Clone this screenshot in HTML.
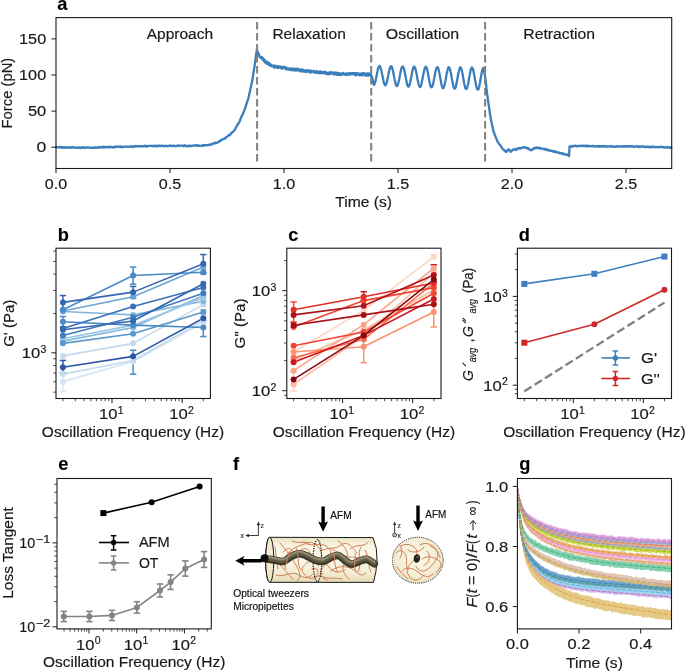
<!DOCTYPE html>
<html><head><meta charset="utf-8"><title>Figure</title>
<style>
html,body{margin:0;padding:0;background:#fff;}
body{width:685px;height:672px;overflow:hidden;}
svg{display:block;font-family:"Liberation Sans", sans-serif;will-change:transform;}
text{stroke:#1a1a1a;stroke-width:0.18px;}
</style></head>
<body>
<svg width="685" height="672" viewBox="0 0 685 672" fill="#1a1a1a">
<defs><clipPath id="clipg"><rect x="517.4" y="478.5" width="154.1" height="150.4"/></clipPath></defs>
<rect width="685" height="672" fill="#fff"/>
<text x="57.2" y="10.4" font-size="18.2" font-weight="bold" fill="#000">a</text>
<polyline points="56,147.04 56.7,147.35 57.4,147.18 58.1,147.42 58.8,147.45 59.5,146.9 60.2,146.85 60.9,147.69 61.6,147.11 62.3,147.1 63,147.86 63.7,147.35 64.4,147.72 65.1,147.37 65.8,147.53 66.5,147.05 67.2,147.54 67.9,147.78 68.6,147.45 69.3,147.67 70,147.61 70.7,147.01 71.4,147.71 72.1,147.55 72.8,147.27 73.5,147 74.2,147.84 74.9,147.46 75.6,147.71 76.3,147.88 77,147.72 77.7,147.93 78.4,147.41 79.1,147.83 79.8,147.48 80.5,147.98 81.2,147.93 81.9,147.15 82.6,147.2 83.3,147.28 84,148.04 84.7,147.52 85.4,147.71 86.1,147.4 86.8,147.6 87.5,147.47 88.2,147.41 88.9,147.63 89.6,147.61 90.3,147.92 91,147.68 91.7,147.91 92.4,147.82 93.1,147.94 93.8,147.6 94.5,147.08 95.2,147.76 95.9,147.84 96.6,147.77 97.3,147.41 98,147.54 98.7,147.02 99.4,147.63 100.1,147.35 100.8,147.05 101.5,146.81 102.2,147.58 102.9,147.7 103.6,146.78 104.3,147.48 105,147.07 105.7,146.79 106.4,146.92 107.1,147.38 107.8,147.47 108.5,146.62 109.2,147.17 109.9,146.59 110.6,147.24 111.3,146.84 112,147.37 112.7,147.46 113.4,146.96 114.1,147.44 114.8,146.73 115.5,146.49 116.2,146.99 116.9,146.41 117.6,146.56 118.3,146.75 119,146.93 119.7,146.46 120.4,146.33 121.1,147.14 121.8,146.57 122.5,147.2 123.2,147.12 123.9,146.58 124.6,146.65 125.3,146.69 126,146.79 126.7,146.73 127.4,146.67 128.1,146.72 128.8,147.02 129.5,146.57 130.2,146.48 130.9,146.75 131.6,146.25 132.3,146.29 133,146.95 133.7,146.48 134.4,146.49 135.1,145.93 135.8,146.32 136.5,146.47 137.2,145.89 137.9,146.47 138.6,146.47 139.3,145.88 140,146.43 140.7,146.25 141.4,146.44 142.1,146.1 142.8,146.44 143.5,146.45 144.2,145.72 144.9,145.74 145.6,146.34 146.3,146.61 147,145.88 147.7,146.06 148.4,146.19 149.1,145.91 149.8,145.95 150.5,145.89 151.2,145.94 151.9,146.16 152.6,145.86 153.3,145.93 154,146.32 154.7,145.57 155.4,146.1 156.1,146.26 156.8,145.83 157.5,145.74 158.2,146.32 158.9,145.74 159.6,145.69 160.3,145.93 161,146.19 161.7,145.58 162.4,145.8 163.1,145.8 163.8,146.3 164.5,145.89 165.2,146.31 165.9,145.61 166.6,145.77 167.3,146.08 168,146.31 168.7,145.87 169.4,145.64 170.1,145.53 170.8,145.93 171.5,145.59 172.2,146.2 172.9,146.22 173.6,145.56 174.3,145.65 175,146.17 175.7,146 176.4,146.16 177.1,145.69 177.8,145.47 178.5,145.63 179.2,146.12 179.9,145.59 180.6,145.66 181.3,145.73 182,145.72 182.7,145.71 183.4,146.21 184.1,145.44 184.8,145.28 185.5,146.22 186.2,146.15 186.9,146.25 187.6,145.69 188.3,146.2 189,146.17 189.7,145.46 190.4,145.98 191.1,146.06 191.8,145.88 192.5,145.73 193.2,145.5 193.9,145.54 194.6,145.41 195.3,145.23 196,145.73 196.7,145.41 197.4,145.92 198.1,145.13 198.8,145.97 199.5,145.74 200.2,145.95 200.9,145.91 201.6,145.89 202.3,145.55 203,144.97 203.7,145.68 204.4,145.09 205.1,145.18 205.8,145.44 206.5,145.19 207.2,144.97 207.9,145.38 208.6,144.94 209.3,144.56 210,144.36 210.7,144.86 211.4,144.24 212.1,144.32 212.8,143.65 213.5,143.26 214.2,143.37 214.9,143.42 215.6,142.54 216.3,142.93 217,142.82 217.7,142.47 218.4,142.15 219.1,140.96 219.8,141.2 220.5,141.06 221.2,139.87 221.9,139.71 222.6,139.33 223.3,139.21 224,138.73 224.7,138.41 225.4,138.33 226.1,137.18 226.8,136.85 227.5,136.32 228.2,135.7 228.9,135.03 229.6,135.33 230.3,134.6 231,133.22 231.7,133.02 232.4,132.23 233.1,131.61 233.8,131.04 234.5,130.25 235.2,129.02 235.9,127.63 236.6,126.29 237.3,125.26 238,123.89 238.7,123.16 239.4,122.08 240.1,120.09 240.8,118.14 241.5,116.59 242.2,115.13 242.9,113.71 243.6,112.24 244.3,110.19 245,108.71 245.7,106.45 246.4,104.18 247.1,102.04 247.8,100.09 248.5,97.77 249.2,94.38 249.9,91.54 250.6,88.19 251.3,84.87 252,81.74 252.7,77.73 253.4,72.93 254.1,69.11 254.8,64.4 255.5,59.42 256.2,54.04 256.8,50 257.5,51.35 257.8,53.38 258.1,53.82 258.4,53.21 258.7,54.43 259,54.19 259.3,56.3 259.6,56.31 259.9,57.25 260.2,57.4 260.5,57.42 260.8,57.87 261.1,57.74 261.4,56.89 261.7,58.39 262,57.23 262.3,57.87 262.6,59.74 262.9,58.21 263.2,58.62 263.5,58.94 263.8,61.18 264.1,59.72 264.4,59.63 264.7,61.97 265,60.46 265.3,62.56 265.6,62.4 265.9,62.99 266.2,63.47 266.5,62.73 266.8,63.46 267.1,61.75 267.4,63.76 267.7,63.31 268,64.01 268.3,62.68 268.6,64.47 268.9,65.12 269.2,63.13 269.5,63.97 269.8,64.76 270.1,65.61 270.4,64.34 270.7,64.37 271,64.73 271.3,65.84 271.6,66.37 271.9,65.66 272.2,65.78 272.5,66.04 272.8,65.96 273.1,66.17 273.4,65.37 273.7,66.45 274,67.67 274.3,66.31 274.6,67.18 274.9,65.75 275.2,67.11 275.5,67.32 275.8,67.15 276.1,66.79 276.4,66.75 276.7,67.18 277,67.86 277.3,66.02 277.6,65.93 277.9,67.6 278.2,68.05 278.5,67.09 278.8,66.95 279.1,67.67 279.4,66.38 279.7,66.62 280,66.49 280.3,67.49 280.6,66.85 280.9,66.68 281.2,67.87 281.5,68.57 281.8,66.98 282.1,68.05 282.4,67.37 282.7,68.53 283,67.9 283.3,67.16 283.6,67.09 283.9,66.66 284.2,67.85 284.5,67.66 284.8,67.18 285.1,67.71 285.4,67.66 285.7,68.84 286,67.32 286.3,69.49 286.6,68.26 286.9,68.61 287.2,68.34 287.5,69.31 287.8,69.32 288.1,68.72 288.4,68.58 288.7,69.23 289,69.62 289.3,68.53 289.6,69.42 289.9,70.03 290.2,68.85 290.5,68.29 290.8,68.35 291.1,69.59 291.4,69.53 291.7,70.28 292,70.06 292.3,68.57 292.6,68.48 292.9,68.69 293.2,68.55 293.5,69.89 293.8,70.31 294.1,70.46 294.4,68.89 294.7,70.45 295,69.12 295.3,69.43 295.6,70.24 295.9,68.67 296.2,68.73 296.5,70.62 296.8,69.31 297.1,69.51 297.4,70.11 297.7,70.39 298,68.76 298.3,69.62 298.6,69.91 298.9,70.08 299.2,69.43 299.5,70.4 299.8,71.36 300.1,69.99 300.4,70.41 300.7,69.39 301,69.81 301.3,70.83 301.6,69.48 301.9,71.46 302.2,71.55 302.5,69.55 302.8,71.7 303.1,70.32 303.4,71.36 303.7,71.36 304,70.24 304.3,71.23 304.6,71.21 304.9,71.63 305.2,70.31 305.5,71.57 305.8,72.13 306.1,71.44 306.4,71.14 306.7,70.12 307,71.11 307.3,70.79 307.6,71.75 307.9,71.68 308.2,71.42 308.5,70.49 308.8,71.68 309.1,71.67 309.4,70.57 309.7,72.38 310,71.82 310.3,70.52 310.6,72.57 310.9,70.63 311.2,71.13 311.5,72.13 311.8,71.85 312.1,71.78 312.4,72.04 312.7,71.59 313,71.26 313.3,70.95 313.6,70.71 313.9,72.36 314.2,72.48 314.5,71.98 314.8,72.5 315.1,71.58 315.4,71.38 315.7,71.7 316,72.95 316.3,70.91 316.6,72.09 316.9,71.48 317.2,72.81 317.5,71.8 317.8,71.78 318.1,71.98 318.4,72.36 318.7,72.96 319,71.95 319.3,73.21 319.6,71.4 319.9,71.83 320.2,71.43 320.5,71.49 320.8,73.19 321.1,73.09 321.4,71.76 321.7,71.8 322,72.4 322.3,73.24 322.6,73.45 322.9,73.32 323.2,72.95 323.5,71.87 323.8,72.53 324.1,72.05 324.4,72.91 324.7,73.04 325,72.16 325.3,72.3 325.6,73.65 325.9,71.79 326.2,73.74 326.5,73.98 326.8,74.15 327.1,72.75 327.4,73.2 327.7,73.29 328,73.44 328.3,74.32 328.6,73.61 328.9,72.66 329.2,74.09 329.5,73.17 329.8,73.48 330.1,73.81 330.4,72.02 330.7,73.96 331,73.71 331.3,73.31 331.6,73.41 331.9,73.27 332.2,72.62 332.5,73.49 332.8,72.27 333.1,73.45 333.4,73.84 333.7,73.35 334,73.68 334.3,74.68 334.6,74.53 334.9,72.66 335.2,74.33 335.5,73.92 335.8,72.51 336.1,73.31 336.4,73.01 336.7,72.64 337,73.82 337.3,74.81 337.6,73.32 337.9,74.71 338.2,74.29 338.5,72.91 338.8,74.74 339.1,74.11 339.4,74.95 339.7,74.44 340,74.52 340.3,73.55 340.6,74.73 340.9,75.06 341.2,74.91 341.5,73.87 341.8,74.69 342.1,74.03 342.4,73.11 342.7,72.96 343,73.05 343.3,73.36 343.6,73.26 343.9,74.11 344.2,74.62 344.5,74.22 344.8,73.93 345.1,74.5 345.4,73.64 345.7,74.05 346,74.78 346.3,73.9 346.6,73.35 346.9,75.15 347.2,74.7 347.5,73.82 347.8,73.84 348.1,74.24 348.4,74.41 348.7,73.48 349,72.93 349.3,73.45 349.6,74.89 349.9,73.29 350.2,74.09 350.5,73.43 350.8,73.47 351.1,73.37 351.4,73.96 351.7,73.37 352,73.03 352.3,73.24 352.6,73.38 352.9,74.19 353.2,73.12 353.5,73.03 353.8,74.1 354.1,74 354.4,74.74 354.7,73.12 355,74 355.3,73.99 355.6,73.07 355.9,75.42 356.2,73.55 356.5,73.24 356.8,74.2 357.1,73.43 357.4,74.58 357.7,73.89 358,73.34 358.3,73.16 358.6,74.85 358.9,73.72 359.2,75.01 359.5,74.21 359.8,75.38 360.1,73.8 360.4,73.68 360.7,73.73 361,75.11 361.3,74.66 361.6,73.95 361.9,73.33 362.2,74.81 362.5,75.54 362.8,74.61 363.1,73.14 363.4,73.22 363.7,73.38 364,73.59 364.3,73.26 364.6,73.31 364.9,74.82 365.2,75.44 365.5,73.7 365.8,75.64 366.1,74.41 366.4,75.24 366.7,75.53 367,75.59 367.3,73.34 367.6,74.02 367.9,74.79 368.2,75.64 368.5,73.5 368.8,74.03 369.1,75.43 369.4,73.6 369.7,74.29 370,74.16 370.3,75.04 370.6,75.67 370.9,73.79 371.2,75.44 371.55,75.94 371.9,76.94 372.25,78.09 372.6,79.89 372.95,81.27 373.3,83.01 373.65,84.45 374,84.91 374.35,84.32 374.7,83.47 375.05,82.39 375.4,81.44 375.75,79.87 376.1,78.28 376.45,76.33 376.8,74.61 377.15,72.65 377.5,71.31 377.85,69.39 378.2,68.35 378.55,67.48 378.9,66.68 379.25,65.9 379.6,65.9 379.95,66.52 380.3,66.99 380.65,68.04 381,69.22 381.35,70.39 381.7,72.28 382.05,73.93 382.4,75.51 382.75,77.35 383.1,78.93 383.45,80.76 383.8,82.55 384.15,83.25 384.5,84.47 384.85,84.81 385.2,85.08 385.55,85.37 385.9,84.72 386.25,83.87 386.6,82.9 386.95,81.89 387.3,80.34 387.65,78.32 388,76.66 388.35,75.28 388.7,73.04 389.05,71.55 389.4,69.92 389.75,68.81 390.1,67.63 390.45,66.97 390.8,66.38 391.15,66.08 391.5,66.32 391.85,66.86 392.2,68.22 392.55,69 392.9,70.39 393.25,72.6 393.6,73.91 393.95,76.18 394.3,77.55 394.65,79.57 395,81.09 395.35,82.93 395.7,84.04 396.05,85.02 396.4,85.73 396.75,86.09 397.1,85.72 397.45,85.47 397.8,84.64 398.15,83.39 398.5,82.51 398.85,80.83 399.2,79.25 399.55,77.07 399.9,75.42 400.25,73.55 400.6,71.98 400.95,70.02 401.3,68.82 401.65,67.81 402,66.77 402.35,66.6 402.7,66.61 403.05,66.67 403.4,67.41 403.75,68.3 404.1,69.29 404.45,70.84 404.8,72.89 405.15,74.3 405.5,76.23 405.85,77.91 406.2,79.81 406.55,81.48 406.9,83.45 407.25,84.59 407.6,85.66 407.95,86.38 408.3,86.47 408.65,86.61 409,85.97 409.35,85.16 409.7,84.42 410.05,83.05 410.4,81.52 410.75,79.51 411.1,77.84 411.45,75.73 411.8,74.23 412.15,72.42 412.5,70.44 412.85,69.44 413.2,67.88 413.55,67.01 413.9,66.92 414.25,66.55 414.6,66.93 414.95,67.61 415.3,68.18 415.65,69.84 416,71.04 416.35,72.83 416.7,74.61 417.05,76.75 417.4,78.67 417.75,80.25 418.1,81.87 418.45,83.53 418.8,84.89 419.15,85.69 419.5,86.41 419.85,87.09 420.2,87.01 420.55,86.78 420.9,86.03 421.25,84.89 421.6,83.24 421.95,81.53 422.3,79.86 422.65,78.08 423,76.2 423.35,74.32 423.7,72.42 424.05,71.08 424.4,69.33 424.75,68.29 425.1,67.72 425.45,67.19 425.8,66.76 426.15,66.97 426.5,67.91 426.85,68.38 427.2,69.7 427.55,71.44 427.9,73.16 428.25,74.8 428.6,76.67 428.95,78.71 429.3,80.94 429.65,82.51 430,84.39 430.35,85.59 430.7,86.73 431.05,86.86 431.4,87.28 431.75,87.14 432.1,86.99 432.45,86.17 432.8,84.92 433.15,83.85 433.5,81.97 433.85,80.31 434.2,78.37 434.55,76.76 434.9,74.61 435.25,72.69 435.6,70.9 435.95,69.69 436.3,68.64 436.65,67.82 437,67.46 437.35,67.27 437.7,67.17 438.05,67.71 438.4,69.04 438.75,70.32 439.1,71.68 439.45,73.61 439.8,75.33 440.15,77.14 440.5,79.05 440.85,80.88 441.2,83.04 441.55,84.79 441.9,86.14 442.25,86.93 442.6,87.75 442.95,88.26 443.3,88.16 443.65,87.63 444,86.75 444.35,85.72 444.7,84.13 445.05,82.5 445.4,80.99 445.75,79.25 446.1,77 446.45,74.97 446.8,73.08 447.15,71.45 447.5,70.19 447.85,68.78 448.2,68.22 448.55,67.22 448.9,67.18 449.25,67.54 449.6,68.08 449.95,69.31 450.3,70.57 450.65,72.18 451,73.75 451.35,75.32 451.7,77.64 452.05,79.64 452.4,81.55 452.75,83.25 453.1,85.13 453.45,86.63 453.8,87.21 454.15,88.28 454.5,88.46 454.85,88.52 455.2,88.35 455.55,87.62 455.9,86.32 456.25,84.65 456.6,83.43 456.95,81.15 457.3,79.31 457.65,77.57 458,75.28 458.35,73.36 458.7,72.05 459.05,70.55 459.4,68.95 459.75,68.11 460.1,67.51 460.45,67.27 460.8,67.58 461.15,68.63 461.5,69.06 461.85,70.44 462.2,71.99 462.55,73.7 462.9,75.91 463.25,78.07 463.6,80.17 463.95,82.03 464.3,84 464.65,85.16 465,86.73 465.35,88.23 465.7,88.44 466.05,88.93 466.4,89.04 466.75,88.51 467.1,87.9 467.45,86.48 467.8,85.18 468.15,83.94 468.5,81.59 468.85,80.06 469.2,77.58 469.55,76.05 469.9,73.94 470.25,72.17 470.6,70.34 470.95,69.05 471.3,68.56 471.65,67.67 472,67.51 472.35,68.12 472.7,68.77 473.05,69.25 473.4,71.1 473.75,72.43 474.1,74.15 474.45,75.96 474.8,78.18 475.15,80.62 475.5,82.21 475.85,84.01 476.2,85.7 476.55,87.11 476.9,88.36 477.25,89.46 477.6,89.34 477.95,89.4 478.3,89.45 478.65,88.71 479,87.57 479.35,85.69 479.7,84.06 480.05,82.53 480.4,80.24 480.75,78.3 481.1,76.01 481.45,73.89 481.8,72.29 482.15,70.98 482.5,69.74 482.85,68.68 483.2,68.05 483.6,68.61 484.1,71.14 484.6,73.86 485.1,76.78 485.6,79.83 486.1,84.59 486.6,89.31 487.1,93.6 487.6,96.8 488.1,101.12 488.6,104.53 489.1,107.39 489.6,111.02 490.1,114.5 490.6,117.05 491.1,120.48 491.6,122.41 492.1,125.37 492.6,127.11 493.1,129.51 493.6,131.71 494.1,132.98 494.6,134.51 495.1,135.55 495.6,136.73 496.1,138.31 496.6,138.98 497.1,140.77 497.6,141.87 498.1,142.24 498.6,143.35 499.1,143.73 499.6,144.57 500.1,145.1 500.6,145.7 501.1,146.4 501.6,147.31 502.1,148.3 502.6,148.82 503.1,149.3 503.6,149.83 504.1,149.84 504.6,151.06 505.1,150.77 505.6,151.04 506.1,151.83 506.6,151.73 507.1,150.51 507.6,150.12 508.1,149.61 508.6,150.14 509.1,149.48 509.6,150.09 510.1,150.92 510.6,151.81 511.1,151.61 511.6,150.84 512.1,150.44 512.6,150.3 513.1,149.44 513.6,149.48 514.1,149.66 514.6,149.63 515.1,148.95 515.6,149.78 516.1,149.35 516.6,149.9 517.1,148.86 517.6,148.28 518.1,148.19 518.6,148.23 519.1,148.01 519.6,148.68 520.1,148.68 520.6,148.16 521.1,147.92 521.6,147.96 522.1,147.68 522.6,147.48 523.1,147.59 523.6,147.64 524.1,147.39 524.6,147.12 525.1,147.37 525.6,147.69 526.1,148.11 526.6,147.8 527.1,147.92 527.6,148.37 528.1,148.54 528.6,148.49 529.1,149.21 529.6,149.8 530.1,149.62 530.6,150.03 531.1,150.33 531.6,150.06 532.1,149.87 532.6,149.12 533.1,149.09 533.6,148.26 534.1,148.74 534.6,147.97 535.1,147.79 535.6,148.01 536.1,147.48 536.6,147.47 537.1,148.18 537.6,148.04 538.1,147.6 538.6,147.63 539.1,148.03 539.6,147.77 540.1,148.67 540.6,148.1 541.1,148.28 541.6,148.47 542.1,148.67 542.6,148.67 543.1,148.95 543.6,149.06 544.1,148.92 544.6,148.7 545.1,149.71 545.6,149.55 546.1,149.07 546.6,149.56 547.1,150 547.6,150.36 548.1,149.57 548.6,149.64 549.1,150.24 549.6,150.31 550.1,150.91 550.6,150.97 551.1,150.6 551.6,150.82 552.1,151.11 552.6,151.54 553.1,150.98 553.6,151.3 554.1,151.13 554.6,151.81 555.1,151.32 555.6,152.36 556.1,152.07 556.6,152.25 557.1,151.88 557.6,152.15 558.1,152.51 558.6,153.03 559.1,152.83 559.6,152.7 560.1,153.52 560.6,153.33 561.1,153.32 561.6,153.12 562.1,153.34 562.6,154.06 563.1,153.42 563.6,153.94 564.1,154.15 564.6,154.01 565.1,154.55 565.6,154.81 566.1,154.89 566.6,154.89 567.1,154.48 567.6,154.46 568.1,155.33 568.6,155.71 569.1,156.09 569.5,146.6 570,146.66 570.6,145.99 571.2,146.58 571.8,146.68 572.4,145.85 573,146.63 573.6,146.1 574.2,145.9 574.8,145.86 575.4,145.7 576,146.15 576.6,146.02 577.2,146.47 577.8,146.44 578.4,145.65 579,145.98 579.6,145.95 580.2,145.72 580.8,145.78 581.4,145.78 582,146.2 582.6,145.85 583.2,145.62 583.8,145.74 584.4,145.97 585,146.1 585.6,145.79 586.2,146.25 586.8,145.78 587.4,146.24 588,146.19 588.6,145.76 589.2,146.35 589.8,146 590.4,146.15 591,146.22 591.6,146.26 592.2,146.08 592.8,145.7 593.4,146.44 594,146.52 594.6,146.16 595.2,146.26 595.8,145.95 596.4,146.59 597,146.39 597.6,145.93 598.2,146.54 598.8,146.71 599.4,146.08 600,146.74 600.6,146.24 601.2,145.94 601.8,146.49 602.4,146.12 603,146.52 603.6,146.38 604.2,145.91 604.8,146.34 605.4,146.67 606,146.3 606.6,146.37 607.2,146.71 607.8,146.3 608.4,146.35 609,146.45 609.6,146.7 610.2,146.09 610.8,145.99 611.4,146.66 612,146.46 612.6,146.21 613.2,146.8 613.8,146.8 614.4,146.46 615,146.91 615.6,146.76 616.2,146.68 616.8,146.23 617.4,145.95 618,146.62 618.6,146.68 619.2,146.3 619.8,146.44 620.4,146.53 621,146.22 621.6,146.67 622.2,146.54 622.8,146.36 623.4,146.09 624,146.54 624.6,146.31 625.2,146.72 625.8,146.17 626.4,146.4 627,146.2 627.6,146.42 628.2,146.59 628.8,146.13 629.4,146.08 630,146.51 630.6,146.23 631.2,146.54 631.8,146.21 632.4,146.14 633,146.59 633.6,146.98 634.2,146.92 634.8,146.58 635.4,146.46 636,146.13 636.6,146.35 637.2,146.39 637.8,147.02 638.4,146.2 639,147.04 639.6,146.57 640.2,146.53 640.8,146.37 641.4,147.08 642,146.32 642.6,146.72 643.2,146.68 643.8,146.38 644.4,146.42 645,147.2 645.6,147.02 646.2,146.98 646.8,147.16 647.4,146.38 648,147 648.6,147.06 649.2,146.55 649.8,146.8 650.4,147.33 651,146.7 651.6,147.15 652.2,146.57 652.8,147.09 653.4,146.7 654,146.96 654.6,146.84 655.2,147.35 655.8,147.24 656.4,147.02 657,147.22 657.6,146.97 658.2,147.36 658.8,146.83 659.4,147.14 660,147.19 660.6,147.01 661.2,146.69 661.8,146.82 662.4,147.31 663,146.9 663.6,147.46 664.2,147.22 664.8,147.69 665.4,147.6 666,147.49 666.6,147.15 667.2,146.84 667.8,147.37 668.4,147.57 669,147.76 669.6,147.06 670.2,147.03 670.8,147.87 671.4,147.64" fill="none" stroke="#3b7ebc" stroke-width="2.3" stroke-linejoin="round" stroke-linecap="round"/>
<line x1="257.1" y1="161.5" x2="257.1" y2="18.2" stroke="#7f7f7f" stroke-width="2" stroke-dasharray="7.4 3.6"/>
<line x1="371.2" y1="161.5" x2="371.2" y2="18.2" stroke="#7f7f7f" stroke-width="2" stroke-dasharray="7.4 3.6"/>
<line x1="485.1" y1="161.5" x2="485.1" y2="18.2" stroke="#7f7f7f" stroke-width="2" stroke-dasharray="7.4 3.6"/>
<rect x="56" y="17.6" width="615.7" height="150.9" fill="none" stroke="#1a1a1a" stroke-width="1.1"/>
<line x1="51.4" y1="147.2" x2="56" y2="147.2" stroke="#1a1a1a" stroke-width="1"/>
<line x1="51.4" y1="111.1" x2="56" y2="111.1" stroke="#1a1a1a" stroke-width="1"/>
<line x1="51.4" y1="75" x2="56" y2="75" stroke="#1a1a1a" stroke-width="1"/>
<line x1="51.4" y1="38.9" x2="56" y2="38.9" stroke="#1a1a1a" stroke-width="1"/>
<line x1="56" y1="168.5" x2="56" y2="173.1" stroke="#1a1a1a" stroke-width="1"/>
<line x1="170" y1="168.5" x2="170" y2="173.1" stroke="#1a1a1a" stroke-width="1"/>
<line x1="284" y1="168.5" x2="284" y2="173.1" stroke="#1a1a1a" stroke-width="1"/>
<line x1="398" y1="168.5" x2="398" y2="173.1" stroke="#1a1a1a" stroke-width="1"/>
<line x1="512" y1="168.5" x2="512" y2="173.1" stroke="#1a1a1a" stroke-width="1"/>
<line x1="626" y1="168.5" x2="626" y2="173.1" stroke="#1a1a1a" stroke-width="1"/>
<text x="46.2" y="152.3" font-size="14.7" text-anchor="end" textLength="9.8" lengthAdjust="spacingAndGlyphs">0</text>
<text x="46.2" y="116.2" font-size="14.7" text-anchor="end" textLength="18.3" lengthAdjust="spacingAndGlyphs">50</text>
<text x="46.2" y="80.1" font-size="14.7" text-anchor="end" textLength="27.1" lengthAdjust="spacingAndGlyphs">100</text>
<text x="46.2" y="44" font-size="14.7" text-anchor="end" textLength="27.1" lengthAdjust="spacingAndGlyphs">150</text>
<text x="56" y="188.6" font-size="14.7" text-anchor="middle" textLength="22.4" lengthAdjust="spacingAndGlyphs">0.0</text>
<text x="170" y="188.6" font-size="14.7" text-anchor="middle" textLength="22.4" lengthAdjust="spacingAndGlyphs">0.5</text>
<text x="284" y="188.6" font-size="14.7" text-anchor="middle" textLength="22.4" lengthAdjust="spacingAndGlyphs">1.0</text>
<text x="398" y="188.6" font-size="14.7" text-anchor="middle" textLength="22.4" lengthAdjust="spacingAndGlyphs">1.5</text>
<text x="512" y="188.6" font-size="14.7" text-anchor="middle" textLength="22.4" lengthAdjust="spacingAndGlyphs">2.0</text>
<text x="626" y="188.6" font-size="14.7" text-anchor="middle" textLength="22.4" lengthAdjust="spacingAndGlyphs">2.5</text>
<text x="363.7" y="207.2" font-size="14.7" text-anchor="middle" textLength="56.8" lengthAdjust="spacingAndGlyphs">Time (s)</text>
<text x="11.7" y="93.1" font-size="14.7" text-anchor="middle" textLength="70.8" lengthAdjust="spacingAndGlyphs" transform="rotate(-90 11.7 93.1)">Force (pN)</text>
<text x="179.9" y="38.9" font-size="14.7" text-anchor="middle" textLength="66.4" lengthAdjust="spacingAndGlyphs">Approach</text>
<text x="309.1" y="38.9" font-size="14.7" text-anchor="middle" textLength="73.4" lengthAdjust="spacingAndGlyphs">Relaxation</text>
<text x="422.5" y="38.9" font-size="14.7" text-anchor="middle" textLength="73.3" lengthAdjust="spacingAndGlyphs">Oscillation</text>
<text x="559.2" y="38.9" font-size="14.7" text-anchor="middle" textLength="71.8" lengthAdjust="spacingAndGlyphs">Retraction</text>
<text x="57.7" y="240.8" font-size="18.2" font-weight="bold" fill="#000">b</text>
<polyline points="62.93,381.63 133.13,361.59 203.33,322.88" fill="none" stroke="#d6e5f4" stroke-width="1.6" stroke-linejoin="round" stroke-linecap="round"/>
<polyline points="62.93,374.12 133.13,360.45 203.33,320.6" fill="none" stroke="#c4daee" stroke-width="1.6" stroke-linejoin="round" stroke-linecap="round"/>
<polyline points="62.93,355.9 133.13,343.37 203.33,304.66" fill="none" stroke="#c4daee" stroke-width="1.6" stroke-linejoin="round" stroke-linecap="round"/>
<polyline points="62.93,311.49 133.13,314.91 203.33,301.24" fill="none" stroke="#84b7dc" stroke-width="1.6" stroke-linejoin="round" stroke-linecap="round"/>
<polyline points="62.93,341.1 133.13,327.43 203.33,295.55" fill="none" stroke="#84b7dc" stroke-width="1.6" stroke-linejoin="round" stroke-linecap="round"/>
<polyline points="62.93,338.82 133.13,325.15 203.33,297.83" fill="none" stroke="#9bc5e2" stroke-width="1.6" stroke-linejoin="round" stroke-linecap="round"/>
<polyline points="62.93,311.03 133.13,296.69 203.33,267.08" fill="none" stroke="#6aa6d3" stroke-width="1.6" stroke-linejoin="round" stroke-linecap="round"/>
<polyline points="62.93,343.37 133.13,333.81 203.33,311.94" fill="none" stroke="#5898cc" stroke-width="1.6" stroke-linejoin="round" stroke-linecap="round"/>
<polyline points="62.93,321.74 133.13,325.15 203.33,327.43" fill="none" stroke="#4a8ac4" stroke-width="1.6" stroke-linejoin="round" stroke-linecap="round"/>
<polyline points="62.93,309.67 133.13,275.51 203.33,272.32" fill="none" stroke="#4a8ac4" stroke-width="1.6" stroke-linejoin="round" stroke-linecap="round"/>
<polyline points="62.93,335.4 133.13,317.18 203.33,293.27" fill="none" stroke="#427dbe" stroke-width="1.6" stroke-linejoin="round" stroke-linecap="round"/>
<polyline points="62.93,328.57 133.13,306.48 203.33,287.58" fill="none" stroke="#3a70b8" stroke-width="1.6" stroke-linejoin="round" stroke-linecap="round"/>
<polyline points="62.93,329.71 133.13,321.05 203.33,283.71" fill="none" stroke="#3566b2" stroke-width="1.6" stroke-linejoin="round" stroke-linecap="round"/>
<polyline points="62.93,302.38 133.13,292.13 203.33,263.66" fill="none" stroke="#3566b2" stroke-width="1.6" stroke-linejoin="round" stroke-linecap="round"/>
<polyline points="62.93,367.29 133.13,356.35 203.33,318.32" fill="none" stroke="#2f58a4" stroke-width="1.6" stroke-linejoin="round" stroke-linecap="round"/>
<line x1="62.93" y1="295.55" x2="62.93" y2="309.67" stroke="#3566b2" stroke-width="1.5"/>
<line x1="59.73" y1="295.55" x2="66.13" y2="295.55" stroke="#3566b2" stroke-width="1.5"/>
<line x1="59.73" y1="309.67" x2="66.13" y2="309.67" stroke="#3566b2" stroke-width="1.5"/>
<line x1="62.93" y1="316.5" x2="62.93" y2="326.98" stroke="#4a8ac4" stroke-width="1.5"/>
<line x1="59.73" y1="316.5" x2="66.13" y2="316.5" stroke="#4a8ac4" stroke-width="1.5"/>
<line x1="59.73" y1="326.98" x2="66.13" y2="326.98" stroke="#4a8ac4" stroke-width="1.5"/>
<line x1="62.93" y1="372.98" x2="62.93" y2="391.65" stroke="#d6e5f4" stroke-width="1.5"/>
<line x1="59.73" y1="372.98" x2="66.13" y2="372.98" stroke="#d6e5f4" stroke-width="1.5"/>
<line x1="59.73" y1="391.65" x2="66.13" y2="391.65" stroke="#d6e5f4" stroke-width="1.5"/>
<line x1="62.93" y1="360.45" x2="62.93" y2="372.98" stroke="#2f58a4" stroke-width="1.5"/>
<line x1="59.73" y1="360.45" x2="66.13" y2="360.45" stroke="#2f58a4" stroke-width="1.5"/>
<line x1="59.73" y1="372.98" x2="66.13" y2="372.98" stroke="#2f58a4" stroke-width="1.5"/>
<line x1="133.13" y1="267.08" x2="133.13" y2="284.16" stroke="#4a8ac4" stroke-width="1.5"/>
<line x1="129.93" y1="267.08" x2="136.33" y2="267.08" stroke="#4a8ac4" stroke-width="1.5"/>
<line x1="129.93" y1="284.16" x2="136.33" y2="284.16" stroke="#4a8ac4" stroke-width="1.5"/>
<line x1="133.13" y1="286.44" x2="133.13" y2="297.83" stroke="#3566b2" stroke-width="1.5"/>
<line x1="129.93" y1="286.44" x2="136.33" y2="286.44" stroke="#3566b2" stroke-width="1.5"/>
<line x1="129.93" y1="297.83" x2="136.33" y2="297.83" stroke="#3566b2" stroke-width="1.5"/>
<line x1="133.13" y1="350.2" x2="133.13" y2="374.12" stroke="#4a8ac4" stroke-width="1.5"/>
<line x1="129.93" y1="350.2" x2="136.33" y2="350.2" stroke="#4a8ac4" stroke-width="1.5"/>
<line x1="129.93" y1="374.12" x2="136.33" y2="374.12" stroke="#4a8ac4" stroke-width="1.5"/>
<line x1="203.33" y1="254.55" x2="203.33" y2="272.77" stroke="#3566b2" stroke-width="1.5"/>
<line x1="200.13" y1="254.55" x2="206.53" y2="254.55" stroke="#3566b2" stroke-width="1.5"/>
<line x1="200.13" y1="272.77" x2="206.53" y2="272.77" stroke="#3566b2" stroke-width="1.5"/>
<line x1="203.33" y1="320.6" x2="203.33" y2="336.54" stroke="#4a8ac4" stroke-width="1.5"/>
<line x1="200.13" y1="320.6" x2="206.53" y2="320.6" stroke="#4a8ac4" stroke-width="1.5"/>
<line x1="200.13" y1="336.54" x2="206.53" y2="336.54" stroke="#4a8ac4" stroke-width="1.5"/>
<circle cx="62.93" cy="381.63" r="3" fill="#d6e5f4"/>
<circle cx="133.13" cy="361.59" r="3" fill="#d6e5f4"/>
<circle cx="203.33" cy="322.88" r="3" fill="#d6e5f4"/>
<circle cx="62.93" cy="374.12" r="3" fill="#c4daee"/>
<circle cx="133.13" cy="360.45" r="3" fill="#c4daee"/>
<circle cx="203.33" cy="320.6" r="3" fill="#c4daee"/>
<circle cx="62.93" cy="355.9" r="3" fill="#c4daee"/>
<circle cx="133.13" cy="343.37" r="3" fill="#c4daee"/>
<circle cx="203.33" cy="304.66" r="3" fill="#c4daee"/>
<circle cx="62.93" cy="311.49" r="3" fill="#84b7dc"/>
<circle cx="133.13" cy="314.91" r="3" fill="#84b7dc"/>
<circle cx="203.33" cy="301.24" r="3" fill="#84b7dc"/>
<circle cx="62.93" cy="341.1" r="3" fill="#84b7dc"/>
<circle cx="133.13" cy="327.43" r="3" fill="#84b7dc"/>
<circle cx="203.33" cy="295.55" r="3" fill="#84b7dc"/>
<circle cx="62.93" cy="338.82" r="3" fill="#9bc5e2"/>
<circle cx="133.13" cy="325.15" r="3" fill="#9bc5e2"/>
<circle cx="203.33" cy="297.83" r="3" fill="#9bc5e2"/>
<circle cx="62.93" cy="311.03" r="3" fill="#6aa6d3"/>
<circle cx="133.13" cy="296.69" r="3" fill="#6aa6d3"/>
<circle cx="203.33" cy="267.08" r="3" fill="#6aa6d3"/>
<circle cx="62.93" cy="343.37" r="3" fill="#5898cc"/>
<circle cx="133.13" cy="333.81" r="3" fill="#5898cc"/>
<rect x="200.53" y="309.14" width="5.6" height="5.6" fill="#5898cc"/>
<circle cx="62.93" cy="321.74" r="3" fill="#4a8ac4"/>
<circle cx="133.13" cy="325.15" r="3" fill="#4a8ac4"/>
<circle cx="203.33" cy="327.43" r="3" fill="#4a8ac4"/>
<circle cx="62.93" cy="309.67" r="3" fill="#4a8ac4"/>
<circle cx="133.13" cy="275.51" r="3" fill="#4a8ac4"/>
<rect x="200.53" y="269.52" width="5.6" height="5.6" fill="#4a8ac4"/>
<circle cx="62.93" cy="335.4" r="3" fill="#427dbe"/>
<circle cx="133.13" cy="317.18" r="3" fill="#427dbe"/>
<circle cx="203.33" cy="293.27" r="3" fill="#427dbe"/>
<circle cx="62.93" cy="328.57" r="3" fill="#3a70b8"/>
<circle cx="133.13" cy="306.48" r="3" fill="#3a70b8"/>
<circle cx="203.33" cy="287.58" r="3" fill="#3a70b8"/>
<circle cx="62.93" cy="329.71" r="3" fill="#3566b2"/>
<circle cx="133.13" cy="321.05" r="3" fill="#3566b2"/>
<circle cx="203.33" cy="283.71" r="3" fill="#3566b2"/>
<circle cx="62.93" cy="302.38" r="3" fill="#3566b2"/>
<circle cx="133.13" cy="292.13" r="3" fill="#3566b2"/>
<circle cx="203.33" cy="263.66" r="3" fill="#3566b2"/>
<circle cx="62.93" cy="367.29" r="3" fill="#2f58a4"/>
<circle cx="133.13" cy="356.35" r="3" fill="#2f58a4"/>
<circle cx="203.33" cy="318.32" r="3" fill="#2f58a4"/>
<rect x="56" y="248.2" width="154.4" height="150.3" fill="none" stroke="#1a1a1a" stroke-width="1.1"/>
<line x1="112" y1="398.5" x2="112" y2="403.1" stroke="#1a1a1a" stroke-width="1"/>
<line x1="182.2" y1="398.5" x2="182.2" y2="403.1" stroke="#1a1a1a" stroke-width="1"/>
<line x1="62.93" y1="398.5" x2="62.93" y2="401.2" stroke="#1a1a1a" stroke-width="0.8"/>
<line x1="75.29" y1="398.5" x2="75.29" y2="401.2" stroke="#1a1a1a" stroke-width="0.8"/>
<line x1="84.06" y1="398.5" x2="84.06" y2="401.2" stroke="#1a1a1a" stroke-width="0.8"/>
<line x1="90.87" y1="398.5" x2="90.87" y2="401.2" stroke="#1a1a1a" stroke-width="0.8"/>
<line x1="96.43" y1="398.5" x2="96.43" y2="401.2" stroke="#1a1a1a" stroke-width="0.8"/>
<line x1="101.13" y1="398.5" x2="101.13" y2="401.2" stroke="#1a1a1a" stroke-width="0.8"/>
<line x1="105.2" y1="398.5" x2="105.2" y2="401.2" stroke="#1a1a1a" stroke-width="0.8"/>
<line x1="108.79" y1="398.5" x2="108.79" y2="401.2" stroke="#1a1a1a" stroke-width="0.8"/>
<line x1="133.13" y1="398.5" x2="133.13" y2="401.2" stroke="#1a1a1a" stroke-width="0.8"/>
<line x1="145.49" y1="398.5" x2="145.49" y2="401.2" stroke="#1a1a1a" stroke-width="0.8"/>
<line x1="154.26" y1="398.5" x2="154.26" y2="401.2" stroke="#1a1a1a" stroke-width="0.8"/>
<line x1="161.07" y1="398.5" x2="161.07" y2="401.2" stroke="#1a1a1a" stroke-width="0.8"/>
<line x1="166.63" y1="398.5" x2="166.63" y2="401.2" stroke="#1a1a1a" stroke-width="0.8"/>
<line x1="171.33" y1="398.5" x2="171.33" y2="401.2" stroke="#1a1a1a" stroke-width="0.8"/>
<line x1="175.4" y1="398.5" x2="175.4" y2="401.2" stroke="#1a1a1a" stroke-width="0.8"/>
<line x1="178.99" y1="398.5" x2="178.99" y2="401.2" stroke="#1a1a1a" stroke-width="0.8"/>
<line x1="203.33" y1="398.5" x2="203.33" y2="401.2" stroke="#1a1a1a" stroke-width="0.8"/>
<line x1="51.4" y1="352.8" x2="56" y2="352.8" stroke="#1a1a1a" stroke-width="1"/>
<line x1="53.3" y1="392.14" x2="56" y2="392.14" stroke="#1a1a1a" stroke-width="0.8"/>
<line x1="53.3" y1="381.8" x2="56" y2="381.8" stroke="#1a1a1a" stroke-width="0.8"/>
<line x1="53.3" y1="373.05" x2="56" y2="373.05" stroke="#1a1a1a" stroke-width="0.8"/>
<line x1="53.3" y1="365.47" x2="56" y2="365.47" stroke="#1a1a1a" stroke-width="0.8"/>
<line x1="53.3" y1="358.78" x2="56" y2="358.78" stroke="#1a1a1a" stroke-width="0.8"/>
<line x1="53.3" y1="313.46" x2="56" y2="313.46" stroke="#1a1a1a" stroke-width="0.8"/>
<line x1="53.3" y1="290.44" x2="56" y2="290.44" stroke="#1a1a1a" stroke-width="0.8"/>
<line x1="53.3" y1="274.11" x2="56" y2="274.11" stroke="#1a1a1a" stroke-width="0.8"/>
<line x1="53.3" y1="261.44" x2="56" y2="261.44" stroke="#1a1a1a" stroke-width="0.8"/>
<line x1="53.3" y1="251.1" x2="56" y2="251.1" stroke="#1a1a1a" stroke-width="0.8"/>
<text x="21.85" y="358" font-size="14.7" textLength="18.5" lengthAdjust="spacingAndGlyphs">10</text>
<text x="40.6" y="352.71" font-size="10.44">3</text>
<text x="99" y="419.3" font-size="14.7" textLength="18.5" lengthAdjust="spacingAndGlyphs">10</text>
<text x="117.75" y="414.01" font-size="10.44">1</text>
<text x="169.2" y="419.3" font-size="14.7" textLength="18.5" lengthAdjust="spacingAndGlyphs">10</text>
<text x="187.95" y="414.01" font-size="10.44">2</text>
<text x="133" y="436.5" font-size="14.7" text-anchor="middle" textLength="182.3" lengthAdjust="spacingAndGlyphs">Oscillation Frequency (Hz)</text>
<text x="14.4" y="323.3" font-size="14.7" text-anchor="middle" textLength="47.1" lengthAdjust="spacingAndGlyphs" transform="rotate(-90 14.4 323.3)">G' (Pa)</text>
<text x="288.3" y="240.8" font-size="18.2" font-weight="bold" fill="#000">c</text>
<polyline points="293.6,352 363.7,310.4 433.8,256.8" fill="none" stroke="#fdd5c4" stroke-width="1.6" stroke-linejoin="round" stroke-linecap="round"/>
<polyline points="293.6,384.4 363.7,336 433.8,272.8" fill="none" stroke="#fcbba1" stroke-width="1.6" stroke-linejoin="round" stroke-linecap="round"/>
<polyline points="293.6,360 363.7,330 433.8,290" fill="none" stroke="#fcbba1" stroke-width="1.6" stroke-linejoin="round" stroke-linecap="round"/>
<polyline points="293.6,370.7 363.7,324.7 433.8,268.2" fill="none" stroke="#fca487" stroke-width="1.6" stroke-linejoin="round" stroke-linecap="round"/>
<polyline points="293.6,352 363.7,346.8 433.8,312" fill="none" stroke="#fc9272" stroke-width="1.6" stroke-linejoin="round" stroke-linecap="round"/>
<polyline points="293.6,357.7 363.7,339.3 433.8,283" fill="none" stroke="#fb6a4a" stroke-width="1.6" stroke-linejoin="round" stroke-linecap="round"/>
<polyline points="293.6,345.7 363.7,332 433.8,293.3" fill="none" stroke="#f14432" stroke-width="1.6" stroke-linejoin="round" stroke-linecap="round"/>
<polyline points="293.6,327 363.7,300.6 433.8,287.6" fill="none" stroke="#f14432" stroke-width="1.6" stroke-linejoin="round" stroke-linecap="round"/>
<polyline points="293.6,309.7 363.7,296.7 433.8,283" fill="none" stroke="#e32f27" stroke-width="1.6" stroke-linejoin="round" stroke-linecap="round"/>
<polyline points="293.6,362.3 363.7,335.4 433.8,299" fill="none" stroke="#cb181d" stroke-width="1.6" stroke-linejoin="round" stroke-linecap="round"/>
<polyline points="293.6,314.9 363.7,305.8 433.8,275" fill="none" stroke="#b11218" stroke-width="1.6" stroke-linejoin="round" stroke-linecap="round"/>
<polyline points="293.6,325.2 363.7,314.9 433.8,304.2" fill="none" stroke="#a50f15" stroke-width="1.6" stroke-linejoin="round" stroke-linecap="round"/>
<polyline points="293.6,379.4 363.7,335.4 433.8,279.6" fill="none" stroke="#860811" stroke-width="1.6" stroke-linejoin="round" stroke-linecap="round"/>
<line x1="293.6" y1="302" x2="293.6" y2="322" stroke="#f14432" stroke-width="1.5"/>
<line x1="290.4" y1="302" x2="296.8" y2="302" stroke="#f14432" stroke-width="1.5"/>
<line x1="290.4" y1="322" x2="296.8" y2="322" stroke="#f14432" stroke-width="1.5"/>
<line x1="293.6" y1="372" x2="293.6" y2="391.2" stroke="#fdd5c4" stroke-width="1.5"/>
<line x1="290.4" y1="372" x2="296.8" y2="372" stroke="#fdd5c4" stroke-width="1.5"/>
<line x1="290.4" y1="391.2" x2="296.8" y2="391.2" stroke="#fdd5c4" stroke-width="1.5"/>
<line x1="363.7" y1="291.7" x2="363.7" y2="300" stroke="#cb181d" stroke-width="1.5"/>
<line x1="360.5" y1="291.7" x2="366.9" y2="291.7" stroke="#cb181d" stroke-width="1.5"/>
<line x1="360.5" y1="300" x2="366.9" y2="300" stroke="#cb181d" stroke-width="1.5"/>
<line x1="363.7" y1="340" x2="363.7" y2="362.7" stroke="#fc9272" stroke-width="1.5"/>
<line x1="360.5" y1="340" x2="366.9" y2="340" stroke="#fc9272" stroke-width="1.5"/>
<line x1="360.5" y1="362.7" x2="366.9" y2="362.7" stroke="#fc9272" stroke-width="1.5"/>
<line x1="433.8" y1="264.8" x2="433.8" y2="282" stroke="#cb181d" stroke-width="1.5"/>
<line x1="430.6" y1="264.8" x2="437" y2="264.8" stroke="#cb181d" stroke-width="1.5"/>
<line x1="430.6" y1="282" x2="437" y2="282" stroke="#cb181d" stroke-width="1.5"/>
<line x1="433.8" y1="300" x2="433.8" y2="327" stroke="#fc9272" stroke-width="1.5"/>
<line x1="430.6" y1="300" x2="437" y2="300" stroke="#fc9272" stroke-width="1.5"/>
<line x1="430.6" y1="327" x2="437" y2="327" stroke="#fc9272" stroke-width="1.5"/>
<circle cx="293.6" cy="352" r="3" fill="#fdd5c4"/>
<circle cx="363.7" cy="310.4" r="3" fill="#fdd5c4"/>
<rect x="431" y="254" width="5.6" height="5.6" fill="#fdd5c4"/>
<circle cx="293.6" cy="384.4" r="3" fill="#fcbba1"/>
<circle cx="363.7" cy="336" r="3" fill="#fcbba1"/>
<circle cx="433.8" cy="272.8" r="3" fill="#fcbba1"/>
<circle cx="293.6" cy="360" r="3" fill="#fcbba1"/>
<circle cx="363.7" cy="330" r="3" fill="#fcbba1"/>
<circle cx="433.8" cy="290" r="3" fill="#fcbba1"/>
<circle cx="293.6" cy="370.7" r="3" fill="#fca487"/>
<circle cx="363.7" cy="324.7" r="3" fill="#fca487"/>
<circle cx="433.8" cy="268.2" r="3" fill="#fca487"/>
<circle cx="293.6" cy="352" r="3" fill="#fc9272"/>
<circle cx="363.7" cy="346.8" r="3" fill="#fc9272"/>
<circle cx="433.8" cy="312" r="3" fill="#fc9272"/>
<circle cx="293.6" cy="357.7" r="3" fill="#fb6a4a"/>
<circle cx="363.7" cy="339.3" r="3" fill="#fb6a4a"/>
<circle cx="433.8" cy="283" r="3" fill="#fb6a4a"/>
<circle cx="293.6" cy="345.7" r="3" fill="#f14432"/>
<circle cx="363.7" cy="332" r="3" fill="#f14432"/>
<circle cx="433.8" cy="293.3" r="3" fill="#f14432"/>
<circle cx="293.6" cy="327" r="3" fill="#f14432"/>
<circle cx="363.7" cy="300.6" r="3" fill="#f14432"/>
<circle cx="433.8" cy="287.6" r="3" fill="#f14432"/>
<circle cx="293.6" cy="309.7" r="3" fill="#e32f27"/>
<circle cx="363.7" cy="296.7" r="3" fill="#e32f27"/>
<circle cx="433.8" cy="283" r="3" fill="#e32f27"/>
<circle cx="293.6" cy="362.3" r="3" fill="#cb181d"/>
<circle cx="363.7" cy="335.4" r="3" fill="#cb181d"/>
<circle cx="433.8" cy="299" r="3" fill="#cb181d"/>
<circle cx="293.6" cy="314.9" r="3" fill="#b11218"/>
<circle cx="363.7" cy="305.8" r="3" fill="#b11218"/>
<circle cx="433.8" cy="275" r="3" fill="#b11218"/>
<rect x="290.8" y="322.4" width="5.6" height="5.6" fill="#a50f15"/>
<circle cx="363.7" cy="314.9" r="3" fill="#a50f15"/>
<circle cx="433.8" cy="304.2" r="3" fill="#a50f15"/>
<circle cx="293.6" cy="379.4" r="3" fill="#860811"/>
<circle cx="363.7" cy="335.4" r="3" fill="#860811"/>
<circle cx="433.8" cy="279.6" r="3" fill="#860811"/>
<rect x="286.8" y="248.2" width="154.2" height="150.3" fill="none" stroke="#1a1a1a" stroke-width="1.1"/>
<line x1="342.6" y1="398.5" x2="342.6" y2="403.1" stroke="#1a1a1a" stroke-width="1"/>
<line x1="412.7" y1="398.5" x2="412.7" y2="403.1" stroke="#1a1a1a" stroke-width="1"/>
<line x1="293.6" y1="398.5" x2="293.6" y2="401.2" stroke="#1a1a1a" stroke-width="0.8"/>
<line x1="305.95" y1="398.5" x2="305.95" y2="401.2" stroke="#1a1a1a" stroke-width="0.8"/>
<line x1="314.7" y1="398.5" x2="314.7" y2="401.2" stroke="#1a1a1a" stroke-width="0.8"/>
<line x1="321.5" y1="398.5" x2="321.5" y2="401.2" stroke="#1a1a1a" stroke-width="0.8"/>
<line x1="327.05" y1="398.5" x2="327.05" y2="401.2" stroke="#1a1a1a" stroke-width="0.8"/>
<line x1="331.74" y1="398.5" x2="331.74" y2="401.2" stroke="#1a1a1a" stroke-width="0.8"/>
<line x1="335.81" y1="398.5" x2="335.81" y2="401.2" stroke="#1a1a1a" stroke-width="0.8"/>
<line x1="339.39" y1="398.5" x2="339.39" y2="401.2" stroke="#1a1a1a" stroke-width="0.8"/>
<line x1="363.7" y1="398.5" x2="363.7" y2="401.2" stroke="#1a1a1a" stroke-width="0.8"/>
<line x1="376.05" y1="398.5" x2="376.05" y2="401.2" stroke="#1a1a1a" stroke-width="0.8"/>
<line x1="384.8" y1="398.5" x2="384.8" y2="401.2" stroke="#1a1a1a" stroke-width="0.8"/>
<line x1="391.6" y1="398.5" x2="391.6" y2="401.2" stroke="#1a1a1a" stroke-width="0.8"/>
<line x1="397.15" y1="398.5" x2="397.15" y2="401.2" stroke="#1a1a1a" stroke-width="0.8"/>
<line x1="401.84" y1="398.5" x2="401.84" y2="401.2" stroke="#1a1a1a" stroke-width="0.8"/>
<line x1="405.91" y1="398.5" x2="405.91" y2="401.2" stroke="#1a1a1a" stroke-width="0.8"/>
<line x1="409.49" y1="398.5" x2="409.49" y2="401.2" stroke="#1a1a1a" stroke-width="0.8"/>
<line x1="433.8" y1="398.5" x2="433.8" y2="401.2" stroke="#1a1a1a" stroke-width="0.8"/>
<line x1="282.2" y1="390.7" x2="286.8" y2="390.7" stroke="#1a1a1a" stroke-width="1"/>
<line x1="282.2" y1="290.7" x2="286.8" y2="290.7" stroke="#1a1a1a" stroke-width="1"/>
<line x1="284.1" y1="395.28" x2="286.8" y2="395.28" stroke="#1a1a1a" stroke-width="0.8"/>
<line x1="284.1" y1="360.6" x2="286.8" y2="360.6" stroke="#1a1a1a" stroke-width="0.8"/>
<line x1="284.1" y1="342.99" x2="286.8" y2="342.99" stroke="#1a1a1a" stroke-width="0.8"/>
<line x1="284.1" y1="330.49" x2="286.8" y2="330.49" stroke="#1a1a1a" stroke-width="0.8"/>
<line x1="284.1" y1="320.8" x2="286.8" y2="320.8" stroke="#1a1a1a" stroke-width="0.8"/>
<line x1="284.1" y1="312.88" x2="286.8" y2="312.88" stroke="#1a1a1a" stroke-width="0.8"/>
<line x1="284.1" y1="306.19" x2="286.8" y2="306.19" stroke="#1a1a1a" stroke-width="0.8"/>
<line x1="284.1" y1="300.39" x2="286.8" y2="300.39" stroke="#1a1a1a" stroke-width="0.8"/>
<line x1="284.1" y1="295.28" x2="286.8" y2="295.28" stroke="#1a1a1a" stroke-width="0.8"/>
<line x1="284.1" y1="260.6" x2="286.8" y2="260.6" stroke="#1a1a1a" stroke-width="0.8"/>
<text x="251.65" y="296" font-size="14.7" textLength="18.5" lengthAdjust="spacingAndGlyphs">10</text>
<text x="270.4" y="290.71" font-size="10.44">3</text>
<text x="251.65" y="396" font-size="14.7" textLength="18.5" lengthAdjust="spacingAndGlyphs">10</text>
<text x="270.4" y="390.71" font-size="10.44">2</text>
<text x="329.6" y="419.3" font-size="14.7" textLength="18.5" lengthAdjust="spacingAndGlyphs">10</text>
<text x="348.35" y="414.01" font-size="10.44">1</text>
<text x="399.7" y="419.3" font-size="14.7" textLength="18.5" lengthAdjust="spacingAndGlyphs">10</text>
<text x="418.45" y="414.01" font-size="10.44">2</text>
<text x="363.9" y="436.5" font-size="14.7" text-anchor="middle" textLength="182.3" lengthAdjust="spacingAndGlyphs">Oscillation Frequency (Hz)</text>
<text x="245" y="323.5" font-size="14.7" text-anchor="middle" textLength="49.9" lengthAdjust="spacingAndGlyphs" transform="rotate(-90 245 323.5)">G'' (Pa)</text>
<text x="518.8" y="240.8" font-size="18.2" font-weight="bold" fill="#000">d</text>
<line x1="524.34" y1="391.3" x2="664.44" y2="302.6" stroke="#808080" stroke-width="2.3" stroke-dasharray="8.5 3.7"/>
<polyline points="524.34,283.9 594.39,273.8 664.44,256.5" fill="none" stroke="#3f7fc0" stroke-width="1.6" stroke-linejoin="round" stroke-linecap="round"/>
<polyline points="524.34,342.7 594.39,324.3 664.44,289.7" fill="none" stroke="#d0282a" stroke-width="1.6" stroke-linejoin="round" stroke-linecap="round"/>
<rect x="521.34" y="280.9" width="6" height="6" fill="#3f7fc0"/>
<rect x="521.34" y="339.7" width="6" height="6" fill="#d0282a"/>
<rect x="591.39" y="270.8" width="6" height="6" fill="#3f7fc0"/>
<circle cx="594.39" cy="324.3" r="3" fill="#d0282a"/>
<rect x="661.44" y="253.5" width="6" height="6" fill="#3f7fc0"/>
<circle cx="664.44" cy="289.7" r="3" fill="#d0282a"/>
<rect x="517.4" y="248.2" width="154.1" height="150.3" fill="none" stroke="#1a1a1a" stroke-width="1.1"/>
<line x1="573.3" y1="398.5" x2="573.3" y2="403.1" stroke="#1a1a1a" stroke-width="1"/>
<line x1="643.35" y1="398.5" x2="643.35" y2="403.1" stroke="#1a1a1a" stroke-width="1"/>
<line x1="524.34" y1="398.5" x2="524.34" y2="401.2" stroke="#1a1a1a" stroke-width="0.8"/>
<line x1="536.67" y1="398.5" x2="536.67" y2="401.2" stroke="#1a1a1a" stroke-width="0.8"/>
<line x1="545.42" y1="398.5" x2="545.42" y2="401.2" stroke="#1a1a1a" stroke-width="0.8"/>
<line x1="552.21" y1="398.5" x2="552.21" y2="401.2" stroke="#1a1a1a" stroke-width="0.8"/>
<line x1="557.76" y1="398.5" x2="557.76" y2="401.2" stroke="#1a1a1a" stroke-width="0.8"/>
<line x1="562.45" y1="398.5" x2="562.45" y2="401.2" stroke="#1a1a1a" stroke-width="0.8"/>
<line x1="566.51" y1="398.5" x2="566.51" y2="401.2" stroke="#1a1a1a" stroke-width="0.8"/>
<line x1="570.09" y1="398.5" x2="570.09" y2="401.2" stroke="#1a1a1a" stroke-width="0.8"/>
<line x1="594.39" y1="398.5" x2="594.39" y2="401.2" stroke="#1a1a1a" stroke-width="0.8"/>
<line x1="606.72" y1="398.5" x2="606.72" y2="401.2" stroke="#1a1a1a" stroke-width="0.8"/>
<line x1="615.47" y1="398.5" x2="615.47" y2="401.2" stroke="#1a1a1a" stroke-width="0.8"/>
<line x1="622.26" y1="398.5" x2="622.26" y2="401.2" stroke="#1a1a1a" stroke-width="0.8"/>
<line x1="627.81" y1="398.5" x2="627.81" y2="401.2" stroke="#1a1a1a" stroke-width="0.8"/>
<line x1="632.5" y1="398.5" x2="632.5" y2="401.2" stroke="#1a1a1a" stroke-width="0.8"/>
<line x1="636.56" y1="398.5" x2="636.56" y2="401.2" stroke="#1a1a1a" stroke-width="0.8"/>
<line x1="640.14" y1="398.5" x2="640.14" y2="401.2" stroke="#1a1a1a" stroke-width="0.8"/>
<line x1="664.44" y1="398.5" x2="664.44" y2="401.2" stroke="#1a1a1a" stroke-width="0.8"/>
<line x1="512.8" y1="385.2" x2="517.4" y2="385.2" stroke="#1a1a1a" stroke-width="1"/>
<line x1="512.8" y1="296.4" x2="517.4" y2="296.4" stroke="#1a1a1a" stroke-width="1"/>
<line x1="514.7" y1="393.81" x2="517.4" y2="393.81" stroke="#1a1a1a" stroke-width="0.8"/>
<line x1="514.7" y1="389.26" x2="517.4" y2="389.26" stroke="#1a1a1a" stroke-width="0.8"/>
<line x1="514.7" y1="358.47" x2="517.4" y2="358.47" stroke="#1a1a1a" stroke-width="0.8"/>
<line x1="514.7" y1="342.83" x2="517.4" y2="342.83" stroke="#1a1a1a" stroke-width="0.8"/>
<line x1="514.7" y1="331.74" x2="517.4" y2="331.74" stroke="#1a1a1a" stroke-width="0.8"/>
<line x1="514.7" y1="323.13" x2="517.4" y2="323.13" stroke="#1a1a1a" stroke-width="0.8"/>
<line x1="514.7" y1="316.1" x2="517.4" y2="316.1" stroke="#1a1a1a" stroke-width="0.8"/>
<line x1="514.7" y1="310.16" x2="517.4" y2="310.16" stroke="#1a1a1a" stroke-width="0.8"/>
<line x1="514.7" y1="305.01" x2="517.4" y2="305.01" stroke="#1a1a1a" stroke-width="0.8"/>
<line x1="514.7" y1="300.46" x2="517.4" y2="300.46" stroke="#1a1a1a" stroke-width="0.8"/>
<line x1="514.7" y1="269.67" x2="517.4" y2="269.67" stroke="#1a1a1a" stroke-width="0.8"/>
<line x1="514.7" y1="254.03" x2="517.4" y2="254.03" stroke="#1a1a1a" stroke-width="0.8"/>
<text x="483.25" y="302.1" font-size="14.7" textLength="18.5" lengthAdjust="spacingAndGlyphs">10</text>
<text x="502" y="296.81" font-size="10.44">3</text>
<text x="483.25" y="390.6" font-size="14.7" textLength="18.5" lengthAdjust="spacingAndGlyphs">10</text>
<text x="502" y="385.31" font-size="10.44">2</text>
<text x="560.3" y="419.3" font-size="14.7" textLength="18.5" lengthAdjust="spacingAndGlyphs">10</text>
<text x="579.05" y="414.01" font-size="10.44">1</text>
<text x="630.35" y="419.3" font-size="14.7" textLength="18.5" lengthAdjust="spacingAndGlyphs">10</text>
<text x="649.1" y="414.01" font-size="10.44">2</text>
<text x="594.4" y="436.5" font-size="14.7" text-anchor="middle" textLength="182.3" lengthAdjust="spacingAndGlyphs">Oscillation Frequency (Hz)</text>
<line x1="601.4" y1="357.9" x2="630" y2="357.9" stroke="#3f7fc0" stroke-width="1.6"/>
<line x1="615.4" y1="351" x2="615.4" y2="365" stroke="#3f7fc0" stroke-width="1.5"/>
<line x1="612.6" y1="351" x2="618.2" y2="351" stroke="#3f7fc0" stroke-width="1.5"/>
<line x1="612.6" y1="365" x2="618.2" y2="365" stroke="#3f7fc0" stroke-width="1.5"/>
<circle cx="615.4" cy="357.9" r="2.7" fill="#3f7fc0"/>
<text x="641" y="363.3" font-size="14.7" textLength="16.1" lengthAdjust="spacingAndGlyphs">G'</text>
<line x1="601.4" y1="378.5" x2="630" y2="378.5" stroke="#d0282a" stroke-width="1.6"/>
<line x1="615.4" y1="371.5" x2="615.4" y2="385.5" stroke="#d0282a" stroke-width="1.5"/>
<line x1="612.6" y1="371.5" x2="618.2" y2="371.5" stroke="#d0282a" stroke-width="1.5"/>
<line x1="612.6" y1="385.5" x2="618.2" y2="385.5" stroke="#d0282a" stroke-width="1.5"/>
<circle cx="615.4" cy="378.5" r="2.7" fill="#d0282a"/>
<text x="641" y="383.9" font-size="14.7" textLength="18.8" lengthAdjust="spacingAndGlyphs">G''</text>
<g transform="translate(473.4 380.5) rotate(-90)"><text x="-0.6" y="0" font-size="14.7" font-style="italic" textLength="10.9" lengthAdjust="spacingAndGlyphs">G</text><path d="M14.3,-7.6 L17.6,-10.8" stroke="#1a1a1a" stroke-width="1.1"/><text x="18.3" y="2.1" font-size="11.4" font-style="italic" textLength="14.6" lengthAdjust="spacingAndGlyphs">avg</text><text x="38.2" y="0" font-size="14.7" textLength="3.6" lengthAdjust="spacingAndGlyphs">,</text><text x="43.6" y="0" font-size="14.7" font-style="italic" textLength="10.9" lengthAdjust="spacingAndGlyphs">G</text><path d="M57.3,-7.6 L60.4,-10.8 M59.6,-7.6 L62.7,-10.8" stroke="#1a1a1a" stroke-width="1.1"/><text x="66.9" y="2.1" font-size="11.4" font-style="italic" textLength="14.6" lengthAdjust="spacingAndGlyphs">avg</text><text x="87.6" y="0" font-size="14.7" textLength="25" lengthAdjust="spacingAndGlyphs">(Pa)</text></g>
<text x="58.2" y="469.6" font-size="18.2" font-weight="bold" fill="#000">e</text>
<polyline points="103.4,513.1 151.6,502.2 199.6,486.4" fill="none" stroke="#000" stroke-width="1.6" stroke-linejoin="round" stroke-linecap="round"/>
<rect x="100.4" y="510.1" width="6" height="6" fill="#000"/>
<circle cx="151.6" cy="502.2" r="3" fill="#000"/>
<circle cx="199.6" cy="486.4" r="3" fill="#000"/>
<polyline points="63.8,616.5 89.4,616.5 112,615.4 136.9,607.4 160,590.5 170.6,582.1 185.3,568.5 204.1,559.5" fill="none" stroke="#848484" stroke-width="1.6" stroke-linejoin="round" stroke-linecap="round"/>
<line x1="63.8" y1="611.4" x2="63.8" y2="621.6" stroke="#848484" stroke-width="1.6"/>
<line x1="60.6" y1="611.4" x2="67" y2="611.4" stroke="#848484" stroke-width="1.6"/>
<line x1="60.6" y1="621.6" x2="67" y2="621.6" stroke="#848484" stroke-width="1.6"/>
<circle cx="63.8" cy="616.5" r="3" fill="#848484"/>
<line x1="89.4" y1="611.4" x2="89.4" y2="621.6" stroke="#848484" stroke-width="1.6"/>
<line x1="86.2" y1="611.4" x2="92.6" y2="611.4" stroke="#848484" stroke-width="1.6"/>
<line x1="86.2" y1="621.6" x2="92.6" y2="621.6" stroke="#848484" stroke-width="1.6"/>
<circle cx="89.4" cy="616.5" r="3" fill="#848484"/>
<line x1="112" y1="610.3" x2="112" y2="620.5" stroke="#848484" stroke-width="1.6"/>
<line x1="108.8" y1="610.3" x2="115.2" y2="610.3" stroke="#848484" stroke-width="1.6"/>
<line x1="108.8" y1="620.5" x2="115.2" y2="620.5" stroke="#848484" stroke-width="1.6"/>
<circle cx="112" cy="615.4" r="3" fill="#848484"/>
<line x1="136.9" y1="601.7" x2="136.9" y2="613.1" stroke="#848484" stroke-width="1.6"/>
<line x1="133.7" y1="601.7" x2="140.1" y2="601.7" stroke="#848484" stroke-width="1.6"/>
<line x1="133.7" y1="613.1" x2="140.1" y2="613.1" stroke="#848484" stroke-width="1.6"/>
<circle cx="136.9" cy="607.4" r="3" fill="#848484"/>
<line x1="160" y1="584" x2="160" y2="597" stroke="#848484" stroke-width="1.6"/>
<line x1="156.8" y1="584" x2="163.2" y2="584" stroke="#848484" stroke-width="1.6"/>
<line x1="156.8" y1="597" x2="163.2" y2="597" stroke="#848484" stroke-width="1.6"/>
<circle cx="160" cy="590.5" r="3" fill="#848484"/>
<line x1="170.6" y1="574.8" x2="170.6" y2="589.4" stroke="#848484" stroke-width="1.6"/>
<line x1="167.4" y1="574.8" x2="173.8" y2="574.8" stroke="#848484" stroke-width="1.6"/>
<line x1="167.4" y1="589.4" x2="173.8" y2="589.4" stroke="#848484" stroke-width="1.6"/>
<circle cx="170.6" cy="582.1" r="3" fill="#848484"/>
<line x1="185.3" y1="560.9" x2="185.3" y2="576.1" stroke="#848484" stroke-width="1.6"/>
<line x1="182.1" y1="560.9" x2="188.5" y2="560.9" stroke="#848484" stroke-width="1.6"/>
<line x1="182.1" y1="576.1" x2="188.5" y2="576.1" stroke="#848484" stroke-width="1.6"/>
<circle cx="185.3" cy="568.5" r="3" fill="#848484"/>
<line x1="204.1" y1="551.6" x2="204.1" y2="567.4" stroke="#848484" stroke-width="1.6"/>
<line x1="200.9" y1="551.6" x2="207.3" y2="551.6" stroke="#848484" stroke-width="1.6"/>
<line x1="200.9" y1="567.4" x2="207.3" y2="567.4" stroke="#848484" stroke-width="1.6"/>
<circle cx="204.1" cy="559.5" r="3" fill="#848484"/>
<rect x="57" y="478.5" width="154.3" height="150.4" fill="none" stroke="#1a1a1a" stroke-width="1.1"/>
<line x1="89" y1="628.9" x2="89" y2="633.5" stroke="#1a1a1a" stroke-width="1"/>
<line x1="136.7" y1="628.9" x2="136.7" y2="633.5" stroke="#1a1a1a" stroke-width="1"/>
<line x1="184.4" y1="628.9" x2="184.4" y2="633.5" stroke="#1a1a1a" stroke-width="1"/>
<line x1="64.06" y1="628.9" x2="64.06" y2="631.6" stroke="#1a1a1a" stroke-width="0.8"/>
<line x1="70.02" y1="628.9" x2="70.02" y2="631.6" stroke="#1a1a1a" stroke-width="0.8"/>
<line x1="74.64" y1="628.9" x2="74.64" y2="631.6" stroke="#1a1a1a" stroke-width="0.8"/>
<line x1="78.42" y1="628.9" x2="78.42" y2="631.6" stroke="#1a1a1a" stroke-width="0.8"/>
<line x1="81.61" y1="628.9" x2="81.61" y2="631.6" stroke="#1a1a1a" stroke-width="0.8"/>
<line x1="84.38" y1="628.9" x2="84.38" y2="631.6" stroke="#1a1a1a" stroke-width="0.8"/>
<line x1="86.82" y1="628.9" x2="86.82" y2="631.6" stroke="#1a1a1a" stroke-width="0.8"/>
<line x1="103.36" y1="628.9" x2="103.36" y2="631.6" stroke="#1a1a1a" stroke-width="0.8"/>
<line x1="111.76" y1="628.9" x2="111.76" y2="631.6" stroke="#1a1a1a" stroke-width="0.8"/>
<line x1="117.72" y1="628.9" x2="117.72" y2="631.6" stroke="#1a1a1a" stroke-width="0.8"/>
<line x1="122.34" y1="628.9" x2="122.34" y2="631.6" stroke="#1a1a1a" stroke-width="0.8"/>
<line x1="126.12" y1="628.9" x2="126.12" y2="631.6" stroke="#1a1a1a" stroke-width="0.8"/>
<line x1="129.31" y1="628.9" x2="129.31" y2="631.6" stroke="#1a1a1a" stroke-width="0.8"/>
<line x1="132.08" y1="628.9" x2="132.08" y2="631.6" stroke="#1a1a1a" stroke-width="0.8"/>
<line x1="134.52" y1="628.9" x2="134.52" y2="631.6" stroke="#1a1a1a" stroke-width="0.8"/>
<line x1="151.06" y1="628.9" x2="151.06" y2="631.6" stroke="#1a1a1a" stroke-width="0.8"/>
<line x1="159.46" y1="628.9" x2="159.46" y2="631.6" stroke="#1a1a1a" stroke-width="0.8"/>
<line x1="165.42" y1="628.9" x2="165.42" y2="631.6" stroke="#1a1a1a" stroke-width="0.8"/>
<line x1="170.04" y1="628.9" x2="170.04" y2="631.6" stroke="#1a1a1a" stroke-width="0.8"/>
<line x1="173.82" y1="628.9" x2="173.82" y2="631.6" stroke="#1a1a1a" stroke-width="0.8"/>
<line x1="177.01" y1="628.9" x2="177.01" y2="631.6" stroke="#1a1a1a" stroke-width="0.8"/>
<line x1="179.78" y1="628.9" x2="179.78" y2="631.6" stroke="#1a1a1a" stroke-width="0.8"/>
<line x1="182.22" y1="628.9" x2="182.22" y2="631.6" stroke="#1a1a1a" stroke-width="0.8"/>
<line x1="198.76" y1="628.9" x2="198.76" y2="631.6" stroke="#1a1a1a" stroke-width="0.8"/>
<line x1="207.16" y1="628.9" x2="207.16" y2="631.6" stroke="#1a1a1a" stroke-width="0.8"/>
<line x1="52.4" y1="626.8" x2="57" y2="626.8" stroke="#1a1a1a" stroke-width="1"/>
<line x1="52.4" y1="542.9" x2="57" y2="542.9" stroke="#1a1a1a" stroke-width="1"/>
<line x1="54.3" y1="601.54" x2="57" y2="601.54" stroke="#1a1a1a" stroke-width="0.8"/>
<line x1="54.3" y1="586.77" x2="57" y2="586.77" stroke="#1a1a1a" stroke-width="0.8"/>
<line x1="54.3" y1="576.29" x2="57" y2="576.29" stroke="#1a1a1a" stroke-width="0.8"/>
<line x1="54.3" y1="568.16" x2="57" y2="568.16" stroke="#1a1a1a" stroke-width="0.8"/>
<line x1="54.3" y1="561.51" x2="57" y2="561.51" stroke="#1a1a1a" stroke-width="0.8"/>
<line x1="54.3" y1="555.9" x2="57" y2="555.9" stroke="#1a1a1a" stroke-width="0.8"/>
<line x1="54.3" y1="551.03" x2="57" y2="551.03" stroke="#1a1a1a" stroke-width="0.8"/>
<line x1="54.3" y1="546.74" x2="57" y2="546.74" stroke="#1a1a1a" stroke-width="0.8"/>
<line x1="54.3" y1="517.64" x2="57" y2="517.64" stroke="#1a1a1a" stroke-width="0.8"/>
<line x1="54.3" y1="502.87" x2="57" y2="502.87" stroke="#1a1a1a" stroke-width="0.8"/>
<line x1="54.3" y1="492.39" x2="57" y2="492.39" stroke="#1a1a1a" stroke-width="0.8"/>
<line x1="54.3" y1="484.26" x2="57" y2="484.26" stroke="#1a1a1a" stroke-width="0.8"/>
<text x="19.3" y="548.2" font-size="14.7" textLength="16" lengthAdjust="spacingAndGlyphs">10</text>
<text x="35.8" y="542.8" font-size="10.4" textLength="14.5" lengthAdjust="spacingAndGlyphs">−1</text>
<text x="19.3" y="632.1" font-size="14.7" textLength="16" lengthAdjust="spacingAndGlyphs">10</text>
<text x="35.8" y="626.7" font-size="10.4" textLength="14.5" lengthAdjust="spacingAndGlyphs">−2</text>
<text x="76.1" y="649.5" font-size="14.7" textLength="18.5" lengthAdjust="spacingAndGlyphs">10</text>
<text x="94.85" y="644.21" font-size="10.44">0</text>
<text x="123.8" y="649.5" font-size="14.7" textLength="18.5" lengthAdjust="spacingAndGlyphs">10</text>
<text x="142.55" y="644.21" font-size="10.44">1</text>
<text x="171.5" y="649.5" font-size="14.7" textLength="18.5" lengthAdjust="spacingAndGlyphs">10</text>
<text x="190.25" y="644.21" font-size="10.44">2</text>
<text x="134.2" y="667" font-size="14.7" text-anchor="middle" textLength="182.3" lengthAdjust="spacingAndGlyphs">Oscillation Frequency (Hz)</text>
<text x="12.6" y="553" font-size="14.7" text-anchor="middle" textLength="91.5" lengthAdjust="spacingAndGlyphs" transform="rotate(-90 12.6 553)">Loss Tangent</text>
<line x1="98.9" y1="542.5" x2="129" y2="542.5" stroke="#000" stroke-width="1.6"/>
<line x1="113.6" y1="535.7" x2="113.6" y2="550" stroke="#000" stroke-width="1.5"/>
<line x1="110.8" y1="535.7" x2="116.4" y2="535.7" stroke="#000" stroke-width="1.5"/>
<line x1="110.8" y1="550" x2="116.4" y2="550" stroke="#000" stroke-width="1.5"/>
<circle cx="113.6" cy="542.5" r="2.7" fill="#000"/>
<text x="138.9" y="547.2" font-size="14.7" textLength="30.8" lengthAdjust="spacingAndGlyphs">AFM</text>
<line x1="98.9" y1="562.9" x2="129" y2="562.9" stroke="#848484" stroke-width="1.6"/>
<line x1="113.6" y1="555.9" x2="113.6" y2="570" stroke="#848484" stroke-width="1.5"/>
<line x1="110.8" y1="555.9" x2="116.4" y2="555.9" stroke="#848484" stroke-width="1.5"/>
<line x1="110.8" y1="570" x2="116.4" y2="570" stroke="#848484" stroke-width="1.5"/>
<circle cx="113.6" cy="562.9" r="2.7" fill="#848484"/>
<text x="138.9" y="567.6" font-size="14.7" textLength="19.5" lengthAdjust="spacingAndGlyphs">OT</text>
<text x="233" y="469.6" font-size="18.2" font-weight="bold" fill="#000">f</text>
<defs>
<linearGradient id="cyl" x1="0" y1="0" x2="0" y2="1">
<stop offset="0" stop-color="#ebe3c3"/><stop offset="0.2" stop-color="#f8f5e4"/><stop offset="0.45" stop-color="#fbf9ec"/><stop offset="0.8" stop-color="#f3edd3"/><stop offset="1" stop-color="#e3d9b4"/>
</linearGradient>
<radialGradient id="disc" cx="0.5" cy="0.45" r="0.55">
<stop offset="0" stop-color="#fbf9ea"/><stop offset="0.75" stop-color="#f4eed6"/><stop offset="1" stop-color="#e6ddb9"/>
</radialGradient>
<linearGradient id="worm" x1="0" y1="0" x2="0" y2="1">
<stop offset="0" stop-color="#8e8870"/><stop offset="0.45" stop-color="#625c43"/><stop offset="1" stop-color="#35312a"/>
</linearGradient>
</defs>
<g stroke="#222" stroke-width="0.9" fill="none">
<polyline points="258.4,524.6 258.4,535.5 248.2,535.5"/>
</g>
<path d="M258.4,521.6 L256.7,525.2 L260.1,525.2 Z M245.4,535.5 L248.9,533.8 L248.9,537.2 Z" fill="#222"/>
<text x="260.4" y="527.6" font-size="6.8" fill="#333">z</text>
<text x="240.4" y="537.8" font-size="6.8" fill="#333">x</text>
<!-- cylinder -->
<path d="M269.7,537.3 L373,537.6 Q377.6,548 377,560 Q376.6,572 373.5,582.4 L269.7,582.3 A4.1,22.5 0 0 1 269.7,537.3 Z" fill="url(#cyl)" stroke="#1a1a1a" stroke-width="1"/>
<ellipse cx="269.7" cy="559.8" rx="4.1" ry="22.5" fill="#eee6ca" fill-opacity="0.7" stroke="#1a1a1a" stroke-width="1"/>
<g fill="none" stroke="#d47e56" stroke-width="1.0" stroke-linecap="round">
<path d="M280,543 C286,550 291,556 296,565 S301,578 297,581"/>
<path d="M276,575 C283,578 291,571 297,574 S306,580 312,575"/>
<path d="M286,569 C281,559 289,549 299,546 S309,540 316,545 S323,556 318,566"/>
<path d="M300,551 C306,545 312,551 310,558 S298,566 304,574 S317,577 323,573"/>
<path d="M303,542 C311,548 319,542 326,546 S331,556 326,563 S316,575 327,580"/>
<path d="M309,563 C315,556 323,560 328,566 S336,574 345,570"/>
<path d="M320,551 C327,547 335,550 341,545 S352,547 357,553"/>
<path d="M331,571 C337,566 345,565 352,569 S361,578 366,573"/>
<path d="M338,541 C345,546 350,553 346,560 S341,572 349,579"/>
<path d="M350,549 C357,543 364,548 368,542"/>
<path d="M353,566 C360,559 367,566 370,557"/>
<path d="M289,557 C294,551 301,552 305,556"/>
<path d="M279,564 C284,568 288,575 293,579"/>
<path d="M321,576 C328,580 336,577 342,579"/>
<path d="M361,547 C356,555 363,563 358,572"/>
<path d="M275,547 L278,569"/>
<path d="M343,556 C350,558 355,556 361,559"/>
<path d="M292,541 C298,544 303,541 309,543"/>
<path d="M283,552 C288,546 294,548 292,554"/>
<path d="M365,550 C369,556 368,566 371,572"/>
<path d="M312,569 C318,566 320,572 316,577"/>
<path d="M330,548 C334,552 338,550 340,555"/>
</g>
<!-- dotted slice -->
<ellipse cx="317.4" cy="560.6" rx="4.3" ry="21" fill="none" stroke="#111" stroke-width="1.2" stroke-dasharray="1.3 1.2"/>
<!-- worm --><path d="M264.5,558.5 C266.1,558.8 270.8,559.5 274.0,560.0 C277.2,560.5 280.7,561.9 283.5,561.3 C286.3,560.7 288.5,557.9 291.0,556.6 C293.5,555.3 296.2,553.9 298.7,553.7 C301.2,553.5 303.4,554.5 306.2,555.6 C309.0,556.7 312.8,559.5 315.7,560.4 C318.6,561.3 320.8,561.8 323.3,561.3 C325.8,560.8 328.4,558.5 330.9,557.5 C333.4,556.5 336.0,555.0 338.5,555.6 C341.0,556.2 343.9,559.9 346.1,561.3 C348.3,562.7 349.6,564.2 351.8,564.2 C354.0,564.2 356.9,562.1 359.4,561.3 C361.9,560.5 364.5,559.0 367.0,559.4 C369.5,559.8 373.1,563.1 374.3,563.8" fill="none" stroke="#3a3627" stroke-width="7.6" stroke-linecap="round"/><path d="M264.5,558.5 C266.1,558.8 270.8,559.5 274.0,560.0 C277.2,560.5 280.7,561.9 283.5,561.3 C286.3,560.7 288.5,557.9 291.0,556.6 C293.5,555.3 296.2,553.9 298.7,553.7 C301.2,553.5 303.4,554.5 306.2,555.6 C309.0,556.7 312.8,559.5 315.7,560.4 C318.6,561.3 320.8,561.8 323.3,561.3 C325.8,560.8 328.4,558.5 330.9,557.5 C333.4,556.5 336.0,555.0 338.5,555.6 C341.0,556.2 343.9,559.9 346.1,561.3 C348.3,562.7 349.6,564.2 351.8,564.2 C354.0,564.2 356.9,562.1 359.4,561.3 C361.9,560.5 364.5,559.0 367.0,559.4 C369.5,559.8 373.1,563.1 374.3,563.8" transform="translate(0 -0.8)" fill="none" stroke="#5e5840" stroke-width="5.2" stroke-linecap="round"/><path d="M264.5,558.5 C266.1,558.8 270.8,559.5 274.0,560.0 C277.2,560.5 280.7,561.9 283.5,561.3 C286.3,560.7 288.5,557.9 291.0,556.6 C293.5,555.3 296.2,553.9 298.7,553.7 C301.2,553.5 303.4,554.5 306.2,555.6 C309.0,556.7 312.8,559.5 315.7,560.4 C318.6,561.3 320.8,561.8 323.3,561.3 C325.8,560.8 328.4,558.5 330.9,557.5 C333.4,556.5 336.0,555.0 338.5,555.6 C341.0,556.2 343.9,559.9 346.1,561.3 C348.3,562.7 349.6,564.2 351.8,564.2 C354.0,564.2 356.9,562.1 359.4,561.3 C361.9,560.5 364.5,559.0 367.0,559.4 C369.5,559.8 373.1,563.1 374.3,563.8" transform="translate(0 -1.7)" fill="none" stroke="#7e785e" stroke-width="2.6" stroke-linecap="round"/><path d="M264.5,558.5 C266.1,558.8 270.8,559.5 274.0,560.0 C277.2,560.5 280.7,561.9 283.5,561.3 C286.3,560.7 288.5,557.9 291.0,556.6 C293.5,555.3 296.2,553.9 298.7,553.7 C301.2,553.5 303.4,554.5 306.2,555.6 C309.0,556.7 312.8,559.5 315.7,560.4 C318.6,561.3 320.8,561.8 323.3,561.3 C325.8,560.8 328.4,558.5 330.9,557.5 C333.4,556.5 336.0,555.0 338.5,555.6 C341.0,556.2 343.9,559.9 346.1,561.3 C348.3,562.7 349.6,564.2 351.8,564.2 C354.0,564.2 356.9,562.1 359.4,561.3 C361.9,560.5 364.5,559.0 367.0,559.4 C369.5,559.8 373.1,563.1 374.3,563.8" transform="translate(0 -2.2)" fill="none" stroke="#a29d84" stroke-width="1.0" stroke-linecap="round" opacity="0.8"/>


<g fill="none" stroke="#d47e56" stroke-width="1.0" stroke-linecap="round">
<path d="M296,548 C300,556 296,564 301,570"/>
<path d="M333,552 C336,558 333,566 338,572"/>
<path d="M355,553 C357,560 352,566 356,572"/>
<path d="M285,566 C289,560 286,556 290,552"/>
</g>
<circle cx="264.6" cy="558.2" r="3.9" fill="#0d0d0d"/>
<!-- left arrow -->
<path d="M261.8,558.9 L243,558.9 L244.6,555.8 L235.3,560.7 L244.6,565.7 L243,562.5 L261.8,562.5 Z" fill="#000"/>
<!-- AFM arrow 1 -->
<path d="M321.4,506.6 L324.8,506.6 L324.8,522.8 L328,521.6 L323.1,531.8 L318.2,521.6 L321.4,522.8 Z" fill="#000"/>
<text x="330.2" y="519.4" font-size="10.2" fill="#0d0d0d" textLength="21.4" lengthAdjust="spacingAndGlyphs">AFM</text>
<!-- cross section -->
<ellipse cx="417.8" cy="560.25" rx="25.4" ry="23" fill="url(#disc)" stroke="#1a1a1a" stroke-width="1" stroke-dasharray="1.1 1.1"/>
<g fill="none" stroke="#d47e56" stroke-width="1.0" stroke-linecap="round">
<path d="M400,547 C404,543 410,544 414,547 S418,555 413,561 S405,569 409,576 S420,580 424,575"/>
<path d="M396,553 C399,549 404,550 406,556 S404,566 409,570"/>
<path d="M420,545 C426,541 434,545 437,551 S433,565 428,569 S418,571 416,566"/>
<path d="M402,571 C406,566 413,568 418,572 S428,579 433,574"/>
<path d="M422,559 C427,555 433,557 438,560 S441,568 436,573"/>
<path d="M408,550 C412,554 421,552 424,547"/>
<path d="M397,567 C400,572 404,575 408,579"/>
<path d="M427,551 C431,555 430,563 424,565"/>
<path d="M399,544 C402,548 403,554 400,558"/>
<path d="M430,546 C436,548 439,553 440,558"/>
</g>
<path d="M413.9,557 C414.5,553.8 418.5,553.4 419.8,556 C420.8,558.5 419.6,562.4 416.8,562.8 C414.2,563 413.3,559.5 413.9,557 Z" fill="#27231a"/>
<ellipse cx="417.8" cy="557" rx="1.2" ry="1" fill="#6e6852"/>
<!-- AFM arrow 2 -->
<path d="M416.3,505.6 L419.7,505.6 L419.7,521.8 L422.9,520.6 L418,531 L413.1,520.6 L416.3,521.8 Z" fill="#000"/>
<text x="425.3" y="518.4" font-size="10.2" fill="#0d0d0d" textLength="21" lengthAdjust="spacingAndGlyphs">AFM</text>
<!-- small axes 2 -->
<line x1="394.6" y1="533" x2="394.6" y2="524.2" stroke="#222" stroke-width="0.9"/>
<path d="M394.6,521.6 L393.1,525 L396.1,525 Z" fill="#222"/>
<circle cx="394.6" cy="535" r="1.9" fill="none" stroke="#222" stroke-width="0.9"/>
<circle cx="394.6" cy="535" r="0.6" fill="#222"/>
<text x="397.4" y="527.8" font-size="6.8" fill="#333">z</text>
<text x="397.4" y="537.8" font-size="6.8" fill="#333">x</text>
<!-- captions -->
<text x="233.2" y="597.1" font-size="10.2" fill="#111" textLength="75.8" lengthAdjust="spacingAndGlyphs">Optical tweezers</text>
<text x="233.2" y="609.6" font-size="10.2" fill="#111" textLength="60.6" lengthAdjust="spacingAndGlyphs">Micropipettes</text>

<text x="519.2" y="470" font-size="18.2" font-weight="bold" fill="#000">g</text>
<g clip-path="url(#clipg)">
<path d="M517.4,485.7 L517.4,486.3 L517.41,486.35 L517.43,485.97 L517.45,486.47 L517.48,487.2 L517.51,488.58 L517.56,489.05 L517.6,490.94 L517.66,492.06 L517.72,494 L517.79,495.23 L517.86,495.58 L517.94,497.43 L518.02,498.88 L518.12,501.33 L518.22,502.96 L518.32,503.98 L518.43,506.82 L518.55,508.09 L518.67,510.19 L518.8,512.61 L518.94,513.6 L519.08,515.91 L519.23,518.07 L519.39,520.29 L519.55,521.17 L519.72,522.49 L519.9,524.01 L520.08,526.83 L520.27,528.63 L520.46,529.9 L520.66,531.24 L520.87,533.18 L521.08,534.08 L521.3,534.84 L521.53,537.16 L521.76,538.77 L522,539.36 L522.24,540.01 L522.49,541.44 L522.75,542.42 L523.02,543.64 L523.29,545.14 L523.56,545.68 L523.85,547.43 L524.14,548.84 L524.43,548.91 L524.74,549.96 L525.04,551.8 L525.36,551.42 L525.68,552.35 L526.01,553.74 L526.34,553.61 L526.68,554.98 L527.03,556.68 L527.38,556.73 L527.74,557.73 L528.11,558.81 L528.48,559.48 L528.86,559.41 L529.25,559.64 L529.64,560.25 L530.04,561.15 L530.44,562.02 L530.85,562.12 L531.27,562.92 L531.69,563.42 L532.12,564.98 L532.56,565.01 L533,565.79 L533.45,567.16 L533.91,567.13 L534.37,567.09 L534.83,568.06 L535.31,569.39 L535.79,568.65 L536.28,569.99 L536.77,570.54 L537.27,571.03 L537.78,572.08 L538.29,571.61 L538.81,571.95 L539.33,573.01 L539.87,573.15 L540.4,574.38 L540.95,574.9 L541.5,575.29 L542.06,574.77 L542.62,575.4 L543.19,575.29 L543.77,576.06 L544.35,577.57 L544.94,577.92 L545.53,578.33 L546.13,577.52 L546.74,577.84 L547.36,578.88 L547.98,579.56 L548.61,579.6 L549.24,579.01 L549.88,580.65 L550.53,580.7 L551.18,580.09 L551.84,580.63 L552.5,581.94 L553.17,581.3 L553.85,582.09 L554.54,581.4 L555.23,582.9 L555.92,581.93 L556.63,583.51 L557.34,582.74 L558.06,582.62 L558.78,584.19 L559.51,583.69 L560.24,583.76 L560.98,584.59 L561.73,583.88 L562.49,584.05 L563.25,584.27 L564.02,584.26 L564.79,584.79 L565.57,585.34 L566.36,585.25 L567.15,585.55 L567.95,585.75 L568.75,585.77 L569.56,585.23 L570.38,585.65 L571.21,586.68 L572.04,586.19 L572.88,586.7 L573.72,586.12 L574.57,586.48 L575.43,587.45 L576.29,587.25 L577.16,587.94 L578.03,587.58 L578.92,587.54 L579.8,587.57 L580.7,587.73 L581.6,588.2 L582.51,588.7 L583.42,588.2 L584.34,588.76 L585.27,587.72 L586.2,587.75 L587.14,587.86 L588.09,589.1 L589.04,588.19 L590,589.11 L590.96,589.56 L591.93,588.6 L592.91,588.99 L593.89,590.03 L594.88,588.81 L595.88,589.47 L596.88,589.05 L597.89,589.99 L598.91,589.82 L599.93,589.05 L600.96,590.12 L601.99,589.31 L603.03,590.57 L604.08,589.57 L605.14,589.55 L606.2,590.02 L607.26,590.35 L608.33,591.08 L609.41,590.1 L610.5,590.86 L611.59,590.18 L612.69,591.23 L613.8,590.34 L614.91,591.33 L616.02,590.54 L617.15,590.61 L618.28,591.32 L619.41,591.57 L620.56,591.2 L621.71,591.71 L622.86,591.14 L624.03,591.13 L625.19,591.65 L626.37,592.45 L627.55,592.13 L628.74,591.98 L629.93,591.92 L631.13,592.79 L632.34,592.01 L633.55,593.3 L634.77,593.21 L636,592.79 L637.23,592.72 L638.47,593.29 L639.71,592.83 L640.96,593.51 L642.22,593.13 L643.49,592.66 L644.76,592.79 L646.03,593.18 L647.32,593.01 L648.6,594.36 L649.9,593.52 L651.2,593.64 L652.51,593.52 L653.83,593.8 L655.15,595.03 L656.48,593.97 L657.81,594.18 L659.15,593.79 L660.5,594.65 L661.85,594.31 L663.21,594.1 L664.58,594.34 L665.95,594.37 L667.33,594.9 L668.71,595.45 L670.1,595.82 L671.5,595.88 L671.5,599.34 L670.1,598.88 L668.71,598.56 L667.33,597.98 L665.95,597.54 L664.58,598.04 L663.21,597.72 L661.85,598 L660.5,597.89 L659.15,597.59 L657.81,597.45 L656.48,598.32 L655.15,597.55 L653.83,598.11 L652.51,597.19 L651.2,597.11 L649.9,596.66 L648.6,597.24 L647.32,597.42 L646.03,596.23 L644.76,597.06 L643.49,595.98 L642.22,596.23 L640.96,596.6 L639.71,596.82 L638.47,596.96 L637.23,596.1 L636,596.53 L634.77,595.79 L633.55,595.17 L632.34,595.67 L631.13,595.7 L629.93,594.74 L628.74,594.66 L627.55,594.82 L626.37,594.9 L625.19,594.83 L624.03,594.58 L622.86,594.42 L621.71,594.45 L620.56,594.18 L619.41,595.37 L618.28,594.33 L617.15,595.08 L616.02,594.98 L614.91,594.8 L613.8,594.93 L612.69,594.01 L611.59,593.33 L610.5,594.27 L609.41,594.53 L608.33,593.38 L607.26,594.33 L606.2,592.99 L605.14,593.94 L604.08,593.02 L603.03,594.06 L601.99,593.99 L600.96,593.14 L599.93,592.75 L598.91,592.83 L597.89,592.07 L596.88,592.45 L595.88,592.39 L594.88,592.44 L593.89,592.98 L592.91,592.33 L591.93,592.98 L590.96,592.9 L590,591.48 L589.04,592.29 L588.09,592.48 L587.14,592.01 L586.2,591.22 L585.27,591.43 L584.34,590.84 L583.42,592.01 L582.51,590.81 L581.6,591.68 L580.7,591.67 L579.8,590.9 L578.92,591.03 L578.03,590.61 L577.16,590.39 L576.29,590.76 L575.43,590.23 L574.57,589.73 L573.72,590.05 L572.88,590.27 L572.04,589.7 L571.21,589.61 L570.38,589.33 L569.56,589.7 L568.75,588.56 L567.95,588.14 L567.15,588.79 L566.36,589.24 L565.57,589.05 L564.79,588.16 L564.02,588.7 L563.25,587.73 L562.49,587.81 L561.73,587.14 L560.98,586.81 L560.24,587.66 L559.51,587.55 L558.78,586.87 L558.06,585.63 L557.34,586.26 L556.63,586.19 L555.92,586.22 L555.23,585.94 L554.54,584.63 L553.85,584.4 L553.17,585.37 L552.5,584.21 L551.84,584.58 L551.18,584.27 L550.53,583.47 L549.88,583.65 L549.24,583.13 L548.61,583.03 L547.98,582.19 L547.36,582.52 L546.74,581.05 L546.13,580.73 L545.53,580.58 L544.94,581.21 L544.35,579.96 L543.77,579.95 L543.19,578.89 L542.62,578.08 L542.06,578.44 L541.5,578.36 L540.95,578.02 L540.4,577.86 L539.87,576.18 L539.33,576.6 L538.81,576.11 L538.29,574.98 L537.78,575.01 L537.27,574.95 L536.77,572.91 L536.28,572.58 L535.79,573.33 L535.31,571.53 L534.83,571.14 L534.37,570.32 L533.91,570.35 L533.45,570.59 L533,568.61 L532.56,568.37 L532.12,567.44 L531.69,567.98 L531.27,566.54 L530.85,565.56 L530.44,564.76 L530.04,564.28 L529.64,563.46 L529.25,563.69 L528.86,562.62 L528.48,562.56 L528.11,561.82 L527.74,559.93 L527.38,560.1 L527.03,559.46 L526.68,558.49 L526.34,557.47 L526.01,556.42 L525.68,555.95 L525.36,554.71 L525.04,553.71 L524.74,554 L524.43,552.33 L524.14,552.11 L523.85,551.17 L523.56,549.47 L523.29,549.11 L523.02,547.03 L522.75,546.75 L522.49,544.56 L522.24,543.92 L522,543.01 L521.76,541.11 L521.53,540.91 L521.3,539.07 L521.08,537.58 L520.87,536.55 L520.66,534.24 L520.46,532.82 L520.27,530.67 L520.08,529.34 L519.9,527.71 L519.72,525.59 L519.55,524.16 L519.39,521.24 L519.23,519.59 L519.08,518.59 L518.94,516.15 L518.8,514.39 L518.67,511.78 L518.55,510.28 L518.43,508.09 L518.32,505.81 L518.22,503.7 L518.12,502.36 L518.02,500.92 L517.94,499.58 L517.86,496.82 L517.79,495.54 L517.72,493.7 L517.66,492.91 L517.6,492.55 L517.56,490.28 L517.51,490.26 L517.48,488.24 L517.45,488.09 L517.43,487.66 L517.41,487.04 L517.4,486.34 L517.4,486.38Z" fill="#cfaee3" fill-opacity="0.85"/>
<path d="M517.4,485.38 L517.4,486.41 L517.41,486.21 L517.43,485.49 L517.45,487.36 L517.48,487.75 L517.51,487.58 L517.56,489.08 L517.6,490.59 L517.66,491.38 L517.72,492.78 L517.79,493.4 L517.86,494.68 L517.94,496.15 L518.02,498.45 L518.12,500.19 L518.22,501.65 L518.32,503.86 L518.43,505.14 L518.55,507.15 L518.67,509.05 L518.8,509.77 L518.94,512.59 L519.08,514.36 L519.23,515.7 L519.39,517.38 L519.55,519.51 L519.72,520.95 L519.9,521.76 L520.08,524.26 L520.27,525.49 L520.46,526.13 L520.66,528.53 L520.87,530.01 L521.08,531.19 L521.3,532.49 L521.53,534.51 L521.76,535.93 L522,535.64 L522.24,538.12 L522.49,538.69 L522.75,539.42 L523.02,540.5 L523.29,541.43 L523.56,543.73 L523.85,544.49 L524.14,545.54 L524.43,545.4 L524.74,546.7 L525.04,546.78 L525.36,548.34 L525.68,548.66 L526.01,549.73 L526.34,550.01 L526.68,552.11 L527.03,552.99 L527.38,553.68 L527.74,553.55 L528.11,555.25 L528.48,554.92 L528.86,555.46 L529.25,555.85 L529.64,556.8 L530.04,557.39 L530.44,558.44 L530.85,558.85 L531.27,560.28 L531.69,560.49 L532.12,561.58 L532.56,561.81 L533,562.42 L533.45,563.02 L533.91,562.84 L534.37,564.41 L534.83,564.23 L535.31,564.49 L535.79,566.1 L536.28,566.11 L536.77,566.46 L537.27,566.33 L537.78,566.89 L538.29,567.83 L538.81,568.96 L539.33,568.69 L539.87,568.73 L540.4,569.42 L540.95,569.69 L541.5,570.64 L542.06,571.35 L542.62,571.22 L543.19,571.56 L543.77,571.45 L544.35,573.28 L544.94,572.91 L545.53,573.85 L546.13,573.26 L546.74,573.81 L547.36,575.04 L547.98,575.24 L548.61,574.22 L549.24,575.91 L549.88,575.72 L550.53,575.71 L551.18,576.7 L551.84,577.21 L552.5,576.11 L553.17,577.04 L553.85,577.97 L554.54,577.76 L555.23,577.7 L555.92,577.27 L556.63,577.82 L557.34,578.71 L558.06,578.1 L558.78,579.13 L559.51,578.51 L560.24,579.37 L560.98,579.35 L561.73,579.89 L562.49,579.6 L563.25,580.84 L564.02,580.9 L564.79,580.03 L565.57,581.37 L566.36,580.49 L567.15,580.96 L567.95,580.99 L568.75,581.54 L569.56,580.99 L570.38,581.31 L571.21,582.01 L572.04,582.33 L572.88,582 L573.72,582.88 L574.57,582.77 L575.43,581.94 L576.29,582.18 L577.16,582.63 L578.03,582.31 L578.92,583.14 L579.8,582.43 L580.7,582.65 L581.6,582.65 L582.51,582.63 L583.42,584.08 L584.34,583.92 L585.27,584.34 L586.2,583.25 L587.14,584.25 L588.09,584.22 L589.04,583.86 L590,583.63 L590.96,583.91 L591.93,585.08 L592.91,585.19 L593.89,584.32 L594.88,585.16 L595.88,584.01 L596.88,584.62 L597.89,584.43 L598.91,585.65 L599.93,584.96 L600.96,585.62 L601.99,584.54 L603.03,586.05 L604.08,585.86 L605.14,585.3 L606.2,586.38 L607.26,585.35 L608.33,585.53 L609.41,585.12 L610.5,586.67 L611.59,586.8 L612.69,585.75 L613.8,587 L614.91,586.17 L616.02,586.33 L617.15,587.22 L618.28,587.11 L619.41,587.23 L620.56,586.97 L621.71,586.6 L622.86,587.43 L624.03,586.58 L625.19,586.75 L626.37,586.5 L627.55,587.06 L628.74,588.04 L629.93,587.14 L631.13,586.97 L632.34,588.04 L633.55,587.37 L634.77,588.08 L636,588.38 L637.23,588.34 L638.47,588.71 L639.71,588.37 L640.96,588.74 L642.22,588.04 L643.49,587.99 L644.76,588.76 L646.03,588.57 L647.32,588.84 L648.6,589.42 L649.9,589.81 L651.2,589.08 L652.51,589.76 L653.83,588.58 L655.15,588.81 L656.48,590.27 L657.81,590.3 L659.15,590.3 L660.5,589.43 L661.85,590.63 L663.21,590.17 L664.58,589.66 L665.95,589.64 L667.33,589.93 L668.71,590.67 L670.1,589.74 L671.5,590.92 L671.5,595.53 L670.1,595.65 L668.71,595.35 L667.33,595.88 L665.95,595.14 L664.58,595.31 L663.21,595.61 L661.85,594.68 L660.5,595.66 L659.15,595.03 L657.81,594.81 L656.48,595.05 L655.15,594.32 L653.83,594.39 L652.51,595.28 L651.2,595.03 L649.9,593.79 L648.6,594.57 L647.32,593.8 L646.03,594.92 L644.76,593.76 L643.49,594.56 L642.22,593.44 L640.96,593.27 L639.71,593.46 L638.47,593.24 L637.23,592.87 L636,593.94 L634.77,593.57 L633.55,593.06 L632.34,593.02 L631.13,593.01 L629.93,592.26 L628.74,593.61 L627.55,593.51 L626.37,592.73 L625.19,591.86 L624.03,592.87 L622.86,591.71 L621.71,592.07 L620.56,591.92 L619.41,592.55 L618.28,592.4 L617.15,591.43 L616.02,591.83 L614.91,591.36 L613.8,592.39 L612.69,591.54 L611.59,590.73 L610.5,591.61 L609.41,591.72 L608.33,590.86 L607.26,591.48 L606.2,591.23 L605.14,590.59 L604.08,591.5 L603.03,590.39 L601.99,589.99 L600.96,589.86 L599.93,591 L598.91,589.66 L597.89,590.1 L596.88,590.9 L595.88,590.09 L594.88,589.93 L593.89,590.46 L592.91,589.38 L591.93,589.15 L590.96,589.42 L590,588.77 L589.04,589.19 L588.09,589.17 L587.14,588.51 L586.2,589.85 L585.27,588.78 L584.34,589.74 L583.42,589.45 L582.51,588.56 L581.6,587.9 L580.7,589.27 L579.8,588.22 L578.92,588.99 L578.03,588.02 L577.16,587.54 L576.29,588.64 L575.43,588.2 L574.57,587.23 L573.72,587.23 L572.88,586.92 L572.04,587.64 L571.21,586.63 L570.38,586.84 L569.56,586.08 L568.75,587.35 L567.95,586.13 L567.15,586.64 L566.36,585.43 L565.57,586.36 L564.79,585.45 L564.02,585.64 L563.25,585.73 L562.49,585.26 L561.73,584.35 L560.98,584.49 L560.24,584.87 L559.51,583.84 L558.78,584.63 L558.06,583.7 L557.34,583.56 L556.63,584.32 L555.92,583.86 L555.23,583.25 L554.54,583.34 L553.85,583.02 L553.17,582.69 L552.5,581.58 L551.84,581.46 L551.18,582.14 L550.53,581.97 L549.88,580.18 L549.24,580.64 L548.61,580.7 L547.98,579.28 L547.36,580.27 L546.74,579.28 L546.13,578.62 L545.53,578.21 L544.94,578.51 L544.35,577.33 L543.77,577.19 L543.19,576.9 L542.62,576.8 L542.06,576.21 L541.5,576.55 L540.95,575.12 L540.4,574.42 L539.87,573.97 L539.33,573.59 L538.81,574.5 L538.29,572.79 L537.78,573.4 L537.27,571.72 L536.77,571.6 L536.28,570.94 L535.79,570.35 L535.31,570.59 L534.83,569.43 L534.37,568.53 L533.91,567.86 L533.45,568.25 L533,567.37 L532.56,566.14 L532.12,566.35 L531.69,566.34 L531.27,565.57 L530.85,565.18 L530.44,563.33 L530.04,562.82 L529.64,563.24 L529.25,562.42 L528.86,560.5 L528.48,560.43 L528.11,560 L527.74,558.98 L527.38,558.1 L527.03,558.05 L526.68,556.36 L526.34,556.61 L526.01,555.97 L525.68,554.38 L525.36,553.5 L525.04,552.96 L524.74,551.36 L524.43,551.87 L524.14,550.64 L523.85,549.39 L523.56,547.82 L523.29,547.44 L523.02,546.49 L522.75,546 L522.49,543.8 L522.24,543.76 L522,541.75 L521.76,541.27 L521.53,538.8 L521.3,537.34 L521.08,536.51 L520.87,534.8 L520.66,533.96 L520.46,531.66 L520.27,529.56 L520.08,528.31 L519.9,526.46 L519.72,524.38 L519.55,523.41 L519.39,521.65 L519.23,519.28 L519.08,518.32 L518.94,515.17 L518.8,513.33 L518.67,511.38 L518.55,509.17 L518.43,508.02 L518.32,506.48 L518.22,503.45 L518.12,502.73 L518.02,500.91 L517.94,499.56 L517.86,497.2 L517.79,495.16 L517.72,494.79 L517.66,493.79 L517.6,492.48 L517.56,491.41 L517.51,489.95 L517.48,489.59 L517.45,488.61 L517.43,488.41 L517.41,487.72 L517.4,486.7 L517.4,486.9Z" fill="#91cdeb" fill-opacity="0.85"/>
<path d="M517.4,485.62 L517.4,486.45 L517.41,485.46 L517.43,486.28 L517.45,487.08 L517.48,486.85 L517.51,487.87 L517.56,488.44 L517.6,489.29 L517.66,490.3 L517.72,492.13 L517.79,492.44 L517.86,494.21 L517.94,494.31 L518.02,496.3 L518.12,497.65 L518.22,499.16 L518.32,499.92 L518.43,502.42 L518.55,503.07 L518.67,505.07 L518.8,506.27 L518.94,508.44 L519.08,509.35 L519.23,512.03 L519.39,512.61 L519.55,515.33 L519.72,516.11 L519.9,518.3 L520.08,519.72 L520.27,521.01 L520.46,522.32 L520.66,523.06 L520.87,525.1 L521.08,525.45 L521.3,527.21 L521.53,527.81 L521.76,529.96 L522,530.01 L522.24,532.25 L522.49,533.43 L522.75,534.05 L523.02,535.06 L523.29,535.65 L523.56,536.53 L523.85,537.4 L524.14,537.52 L524.43,539.03 L524.74,540.19 L525.04,540.4 L525.36,541.08 L525.68,541.16 L526.01,541.71 L526.34,542.96 L526.68,543.71 L527.03,544.4 L527.38,544.55 L527.74,545.03 L528.11,546.22 L528.48,546.53 L528.86,546.78 L529.25,546.35 L529.64,547.24 L530.04,548.33 L530.44,548.53 L530.85,547.76 L531.27,549.25 L531.69,549.85 L532.12,550.09 L532.56,549.95 L533,549.84 L533.45,550.67 L533.91,550.28 L534.37,550.82 L534.83,552 L535.31,551.52 L535.79,551.78 L536.28,552.95 L536.77,553.66 L537.27,553.53 L537.78,553.1 L538.29,554.27 L538.81,554.87 L539.33,555.51 L539.87,554.83 L540.4,555.29 L540.95,556.1 L541.5,556.54 L542.06,556.58 L542.62,556.81 L543.19,556.69 L543.77,556.57 L544.35,557.82 L544.94,557.97 L545.53,557.67 L546.13,558.82 L546.74,558.09 L547.36,558.57 L547.98,559.07 L548.61,559.96 L549.24,560.32 L549.88,559.84 L550.53,560.32 L551.18,560.39 L551.84,561.93 L552.5,561.47 L553.17,561.15 L553.85,562.32 L554.54,562.75 L555.23,563.5 L555.92,562.69 L556.63,562.65 L557.34,563.52 L558.06,563.24 L558.78,563.45 L559.51,565.21 L560.24,564.3 L560.98,565.07 L561.73,565.83 L562.49,565.3 L563.25,565.15 L564.02,566.59 L564.79,565.61 L565.57,567.06 L566.36,567.31 L567.15,566.74 L567.95,567.01 L568.75,567.43 L569.56,568.26 L570.38,568.53 L571.21,568.53 L572.04,569.15 L572.88,568.55 L573.72,569.92 L574.57,570.02 L575.43,569.26 L576.29,570.27 L577.16,570.51 L578.03,570.96 L578.92,570.16 L579.8,571.01 L580.7,571.3 L581.6,571.21 L582.51,571.79 L583.42,571.6 L584.34,572.03 L585.27,571.67 L586.2,571.67 L587.14,571.99 L588.09,572.14 L589.04,572.73 L590,572.43 L590.96,573.7 L591.93,573.91 L592.91,573.11 L593.89,573.79 L594.88,574.72 L595.88,573.71 L596.88,575.26 L597.89,574.17 L598.91,574.37 L599.93,575.74 L600.96,575.59 L601.99,575.78 L603.03,575.12 L604.08,576.36 L605.14,575.84 L606.2,575.55 L607.26,576.15 L608.33,576.47 L609.41,577.61 L610.5,577.61 L611.59,576.48 L612.69,577.31 L613.8,577.34 L614.91,577.83 L616.02,578.52 L617.15,578.63 L618.28,577.5 L619.41,578.89 L620.56,577.85 L621.71,578.8 L622.86,578.49 L624.03,578.92 L625.19,578.95 L626.37,579.16 L627.55,579.99 L628.74,579.22 L629.93,579.34 L631.13,580.5 L632.34,580.56 L633.55,580.36 L634.77,581.31 L636,581.48 L637.23,580.55 L638.47,581.83 L639.71,581.16 L640.96,581.1 L642.22,581.74 L643.49,582.26 L644.76,581.78 L646.03,581.63 L647.32,582.61 L648.6,581.99 L649.9,583.12 L651.2,582.25 L652.51,583.63 L653.83,582.68 L655.15,583.67 L656.48,582.96 L657.81,583.27 L659.15,583.87 L660.5,583.73 L661.85,584.93 L663.21,583.7 L664.58,583.86 L665.95,585.44 L667.33,585.21 L668.71,584.51 L670.1,584.54 L671.5,585.16 L671.5,587.79 L670.1,587.9 L668.71,588.42 L667.33,587.93 L665.95,588.34 L664.58,587.52 L663.21,588.28 L661.85,587.74 L660.5,586.71 L659.15,586.5 L657.81,586.6 L656.48,586.16 L655.15,587.09 L653.83,586.06 L652.51,585.79 L651.2,585.99 L649.9,586.01 L648.6,585.62 L647.32,585.94 L646.03,585.93 L644.76,584.94 L643.49,585.29 L642.22,585.29 L640.96,584.66 L639.71,585.17 L638.47,584.39 L637.23,583.84 L636,583.29 L634.77,583.22 L633.55,583.55 L632.34,583.32 L631.13,583.84 L629.93,583.67 L628.74,583.26 L627.55,582.87 L626.37,582.25 L625.19,583.24 L624.03,582.89 L622.86,582.18 L621.71,582.49 L620.56,581.83 L619.41,582.43 L618.28,581.02 L617.15,580.79 L616.02,580.49 L614.91,580.51 L613.8,581.12 L612.69,581.05 L611.59,580.29 L610.5,580.44 L609.41,580.07 L608.33,579.6 L607.26,580.05 L606.2,579.13 L605.14,579.21 L604.08,578.67 L603.03,578.31 L601.99,578.43 L600.96,579.1 L599.93,578.88 L598.91,577.45 L597.89,577.53 L596.88,578.51 L595.88,578.19 L594.88,578.03 L593.89,577.71 L592.91,577.15 L591.93,577.18 L590.96,576.81 L590,575.65 L589.04,575.61 L588.09,576.66 L587.14,575 L586.2,576.2 L585.27,575.53 L584.34,574.81 L583.42,575.26 L582.51,575.25 L581.6,575 L580.7,575 L579.8,574.31 L578.92,574.43 L578.03,573.27 L577.16,573.04 L576.29,573.79 L575.43,572.43 L574.57,571.84 L573.72,571.92 L572.88,572.36 L572.04,571.92 L571.21,571.54 L570.38,571.02 L569.56,571.7 L568.75,571.29 L567.95,569.9 L567.15,569.75 L566.36,570.05 L565.57,569.81 L564.79,570.15 L564.02,569.68 L563.25,569.69 L562.49,568.48 L561.73,568.01 L560.98,568.49 L560.24,568.16 L559.51,567.14 L558.78,567.51 L558.06,567.59 L557.34,566.45 L556.63,566.63 L555.92,566.94 L555.23,566.38 L554.54,565.62 L553.85,565.18 L553.17,565.36 L552.5,564.45 L551.84,564.99 L551.18,564.46 L550.53,563.37 L549.88,564.33 L549.24,563.28 L548.61,562.54 L547.98,562.84 L547.36,562.17 L546.74,561.86 L546.13,561.01 L545.53,561.03 L544.94,561.78 L544.35,560.72 L543.77,559.95 L543.19,559.4 L542.62,560.14 L542.06,560.33 L541.5,558.84 L540.95,558.18 L540.4,558.06 L539.87,558.68 L539.33,558.05 L538.81,557.22 L538.29,557.1 L537.78,557.72 L537.27,557.21 L536.77,556.36 L536.28,555.71 L535.79,555.64 L535.31,555.71 L534.83,555.54 L534.37,555.26 L533.91,553.71 L533.45,553.57 L533,553.13 L532.56,553.82 L532.12,552.21 L531.69,552.05 L531.27,551.49 L530.85,551.42 L530.44,551.95 L530.04,550.33 L529.64,551.19 L529.25,550.81 L528.86,550.11 L528.48,549.95 L528.11,548.12 L527.74,548.03 L527.38,547.02 L527.03,547.67 L526.68,546.02 L526.34,545.4 L526.01,545.47 L525.68,544.85 L525.36,543.7 L525.04,543.15 L524.74,543.42 L524.43,541.82 L524.14,541.68 L523.85,540.59 L523.56,540.11 L523.29,539.11 L523.02,537.75 L522.75,537.18 L522.49,535.48 L522.24,534.3 L522,534.04 L521.76,533.44 L521.53,531.21 L521.3,530.19 L521.08,528.94 L520.87,527.27 L520.66,526.97 L520.46,524.5 L520.27,522.89 L520.08,522.08 L519.9,520.13 L519.72,517.99 L519.55,517.84 L519.39,514.83 L519.23,514.52 L519.08,512.09 L518.94,511.12 L518.8,508.43 L518.67,507.13 L518.55,505.68 L518.43,504.53 L518.32,502.37 L518.22,500.21 L518.12,499.87 L518.02,498.33 L517.94,497.08 L517.86,494.65 L517.79,493.4 L517.72,493.52 L517.66,491.53 L517.6,490.8 L517.56,490.55 L517.51,488.71 L517.48,488.71 L517.45,487.2 L517.43,487.51 L517.41,486.49 L517.4,487.02 L517.4,486.41Z" fill="#e8e060" fill-opacity="0.85"/>
<path d="M517.4,485.22 L517.4,485.76 L517.41,485.87 L517.43,485.43 L517.45,486.33 L517.48,487.75 L517.51,487.95 L517.56,488.56 L517.6,490.01 L517.66,491.17 L517.72,492.47 L517.79,493.4 L517.86,494.23 L517.94,495.3 L518.02,497.88 L518.12,499.17 L518.22,500.42 L518.32,502.35 L518.43,504.08 L518.55,504.95 L518.67,507.57 L518.8,508.77 L518.94,509.71 L519.08,511.55 L519.23,514.42 L519.39,514.67 L519.55,516.94 L519.72,518.42 L519.9,520.41 L520.08,521.19 L520.27,522.26 L520.46,523.91 L520.66,524.8 L520.87,526.57 L521.08,527.8 L521.3,528.7 L521.53,530.62 L521.76,531.73 L522,532.71 L522.24,534.99 L522.49,534.93 L522.75,536.27 L523.02,536.87 L523.29,538.95 L523.56,539.36 L523.85,539.89 L524.14,540.99 L524.43,542.6 L524.74,542.88 L525.04,543.83 L525.36,545.08 L525.68,545.88 L526.01,545.88 L526.34,546.69 L526.68,546.74 L527.03,547.89 L527.38,548.62 L527.74,549.5 L528.11,550.53 L528.48,551.62 L528.86,550.87 L529.25,552.86 L529.64,552.26 L530.04,553.66 L530.44,553.27 L530.85,554.89 L531.27,554.59 L531.69,555.38 L532.12,556.13 L532.56,557.58 L533,556.95 L533.45,558.2 L533.91,558.83 L534.37,559.55 L534.83,559.12 L535.31,560.16 L535.79,560.51 L536.28,561.19 L536.77,561.16 L537.27,562.05 L537.78,562.47 L538.29,562.97 L538.81,563.5 L539.33,563.08 L539.87,564.25 L540.4,564.99 L540.95,564.94 L541.5,566.28 L542.06,566.16 L542.62,565.58 L543.19,567 L543.77,566.81 L544.35,567.46 L544.94,568.43 L545.53,568.49 L546.13,568.22 L546.74,568.6 L547.36,569.17 L547.98,568.98 L548.61,569.63 L549.24,570.57 L549.88,570.87 L550.53,570.63 L551.18,570.91 L551.84,571.42 L552.5,571.16 L553.17,571.37 L553.85,572.15 L554.54,571.45 L555.23,573.03 L555.92,571.93 L556.63,572.08 L557.34,573.76 L558.06,573.55 L558.78,574.16 L559.51,573.89 L560.24,574.22 L560.98,574.38 L561.73,574.54 L562.49,574.88 L563.25,574.12 L564.02,575.24 L564.79,575.22 L565.57,575.65 L566.36,575.39 L567.15,575.13 L567.95,575.31 L568.75,575.97 L569.56,575.17 L570.38,575.29 L571.21,576.66 L572.04,576.97 L572.88,575.65 L573.72,576.7 L574.57,577.45 L575.43,576.66 L576.29,577.15 L577.16,576.48 L578.03,576.36 L578.92,576.66 L579.8,576.72 L580.7,576.89 L581.6,577.94 L582.51,578.07 L583.42,577.08 L584.34,578.24 L585.27,578.37 L586.2,578.31 L587.14,578.14 L588.09,577.9 L589.04,578.74 L590,577.71 L590.96,579.09 L591.93,578.37 L592.91,578.23 L593.89,578.83 L594.88,578.73 L595.88,578.93 L596.88,578.55 L597.89,578.99 L598.91,579.5 L599.93,579.2 L600.96,580.18 L601.99,579.66 L603.03,578.94 L604.08,580.05 L605.14,579.54 L606.2,580.66 L607.26,580.14 L608.33,579.95 L609.41,579.95 L610.5,580.4 L611.59,580.81 L612.69,579.6 L613.8,580.36 L614.91,581.07 L616.02,579.92 L617.15,581.24 L618.28,580.94 L619.41,581.47 L620.56,581.29 L621.71,580.83 L622.86,581.25 L624.03,580.77 L625.19,582.02 L626.37,581.59 L627.55,581.45 L628.74,581.2 L629.93,582.14 L631.13,581.1 L632.34,582.29 L633.55,582.06 L634.77,582.64 L636,582.08 L637.23,581.7 L638.47,581.78 L639.71,582.16 L640.96,582.31 L642.22,582 L643.49,583.44 L644.76,582.11 L646.03,583.29 L647.32,583.08 L648.6,583.04 L649.9,582.36 L651.2,583.78 L652.51,583.4 L653.83,583.83 L655.15,584.19 L656.48,584.08 L657.81,583.27 L659.15,583.28 L660.5,583.19 L661.85,584.04 L663.21,583.98 L664.58,584.8 L665.95,584.39 L667.33,583.73 L668.71,584.04 L670.1,584.76 L671.5,584.9 L671.5,591.06 L670.1,591.86 L668.71,591.14 L667.33,591.67 L665.95,590.67 L664.58,590.04 L663.21,591.36 L661.85,591.14 L660.5,589.73 L659.15,589.85 L657.81,589.52 L656.48,590.91 L655.15,590.5 L653.83,589.86 L652.51,589.51 L651.2,589.77 L649.9,590.49 L648.6,588.84 L647.32,589.27 L646.03,588.88 L644.76,589.55 L643.49,589.05 L642.22,588.43 L640.96,589.1 L639.71,589.08 L638.47,589.21 L637.23,588.31 L636,588.86 L634.77,588.66 L633.55,589.17 L632.34,588.02 L631.13,588.85 L629.93,588.21 L628.74,588.59 L627.55,587.63 L626.37,588.3 L625.19,587.51 L624.03,588.25 L622.86,588.24 L621.71,587.01 L620.56,588.25 L619.41,588 L618.28,587.06 L617.15,587.93 L616.02,587.79 L614.91,587.79 L613.8,587.22 L612.69,586.62 L611.59,586.57 L610.5,587.47 L609.41,587.04 L608.33,587.28 L607.26,586.27 L606.2,587.02 L605.14,586.58 L604.08,586.85 L603.03,587 L601.99,585.82 L600.96,586.52 L599.93,586.44 L598.91,585.76 L597.89,586.04 L596.88,586.2 L595.88,585.91 L594.88,585.66 L593.89,584.75 L592.91,585.94 L591.93,585.64 L590.96,584.51 L590,585.33 L589.04,584.21 L588.09,585.64 L587.14,585.49 L586.2,585.04 L585.27,583.94 L584.34,585.07 L583.42,584.84 L582.51,583.8 L581.6,583.78 L580.7,583.31 L579.8,584.57 L578.92,584.61 L578.03,584.05 L577.16,582.86 L576.29,583.06 L575.43,582.76 L574.57,583.24 L573.72,583.85 L572.88,582.85 L572.04,582.81 L571.21,582.88 L570.38,582.02 L569.56,582.59 L568.75,583.04 L567.95,582.09 L567.15,581.92 L566.36,581.5 L565.57,582.19 L564.79,581.36 L564.02,582.07 L563.25,580.49 L562.49,580.42 L561.73,580.81 L560.98,580.23 L560.24,580.66 L559.51,580.51 L558.78,580.28 L558.06,580.36 L557.34,579.86 L556.63,578.97 L555.92,578.93 L555.23,579.09 L554.54,579.14 L553.85,578.99 L553.17,578.43 L552.5,577.74 L551.84,578.24 L551.18,578.26 L550.53,576.86 L549.88,576.79 L549.24,576.32 L548.61,576.44 L547.98,575.94 L547.36,576.17 L546.74,575.37 L546.13,575.66 L545.53,574.94 L544.94,573.65 L544.35,574.02 L543.77,574.45 L543.19,574 L542.62,573.11 L542.06,572.76 L541.5,571.47 L540.95,571.61 L540.4,571.87 L539.87,571 L539.33,571.02 L538.81,570.61 L538.29,569.58 L537.78,568.56 L537.27,567.96 L536.77,567.61 L536.28,567.33 L535.79,567.83 L535.31,567.1 L534.83,566.51 L534.37,566.23 L533.91,565.79 L533.45,565.08 L533,564.71 L532.56,564 L532.12,562.42 L531.69,562.85 L531.27,561.26 L530.85,560.84 L530.44,561.37 L530.04,559.27 L529.64,559.96 L529.25,559.26 L528.86,558.7 L528.48,558.1 L528.11,556.66 L527.74,556.43 L527.38,555.5 L527.03,554.43 L526.68,554.49 L526.34,552.91 L526.01,552.28 L525.68,551.55 L525.36,550.91 L525.04,549.75 L524.74,549.2 L524.43,549.2 L524.14,548.05 L523.85,547.67 L523.56,546.11 L523.29,545.27 L523.02,544.51 L522.75,542.58 L522.49,542.47 L522.24,540.93 L522,540.13 L521.76,538.19 L521.53,537.66 L521.3,535.95 L521.08,534.6 L520.87,532.69 L520.66,532.77 L520.46,530.85 L520.27,529.09 L520.08,527.85 L519.9,525.46 L519.72,523.91 L519.55,522.27 L519.39,520.25 L519.23,518.34 L519.08,516.92 L518.94,514.7 L518.8,513.53 L518.67,510.74 L518.55,509.33 L518.43,507.94 L518.32,505.31 L518.22,503.62 L518.12,501.57 L518.02,500.64 L517.94,498.56 L517.86,497.36 L517.79,495.63 L517.72,494.63 L517.66,493.4 L517.6,492.54 L517.56,490.46 L517.51,490.37 L517.48,489.08 L517.45,488.92 L517.43,488.19 L517.41,487.6 L517.4,487.43 L517.4,487.83Z" fill="#5796c4" fill-opacity="0.85"/>
<path d="M517.4,485.9 L517.4,486.8 L517.41,485.82 L517.43,486.24 L517.45,487.77 L517.48,488.3 L517.51,488.99 L517.56,489.65 L517.6,489.72 L517.66,491.96 L517.72,493.06 L517.79,494.24 L517.86,494.87 L517.94,496.59 L518.02,498.5 L518.12,499.72 L518.22,502.08 L518.32,503.83 L518.43,504.46 L518.55,506.5 L518.67,509.28 L518.8,509.88 L518.94,511.56 L519.08,514.49 L519.23,515.58 L519.39,517.87 L519.55,519.22 L519.72,520.21 L519.9,522.59 L520.08,523.23 L520.27,524.93 L520.46,526.22 L520.66,528.74 L520.87,529.09 L521.08,530.72 L521.3,531.73 L521.53,532.93 L521.76,535.15 L522,536.05 L522.24,536.86 L522.49,538.15 L522.75,540.24 L523.02,539.84 L523.29,542.12 L523.56,542.82 L523.85,544.17 L524.14,544.8 L524.43,544.62 L524.74,546.58 L525.04,546.38 L525.36,548.35 L525.68,548.6 L526.01,548.74 L526.34,550.34 L526.68,550.07 L527.03,551.63 L527.38,551.8 L527.74,553.04 L528.11,554.04 L528.48,553.73 L528.86,555.23 L529.25,555.86 L529.64,556.64 L530.04,557.31 L530.44,557.37 L530.85,558.64 L531.27,559.18 L531.69,558.67 L532.12,559.53 L532.56,560.11 L533,560.09 L533.45,561.34 L533.91,561.37 L534.37,563.02 L534.83,562.75 L535.31,563.37 L535.79,563.36 L536.28,565.29 L536.77,565.08 L537.27,565.6 L537.78,566.76 L538.29,565.97 L538.81,566.54 L539.33,566.63 L539.87,568.14 L540.4,567.48 L540.95,568.8 L541.5,569.41 L542.06,570.08 L542.62,569.16 L543.19,570.26 L543.77,570.3 L544.35,570.87 L544.94,571.53 L545.53,571.17 L546.13,572.47 L546.74,572.94 L547.36,572.57 L547.98,573.61 L548.61,573.21 L549.24,574.12 L549.88,573.56 L550.53,574.16 L551.18,575.03 L551.84,575.32 L552.5,574.37 L553.17,576.08 L553.85,575.2 L554.54,576.06 L555.23,576.14 L555.92,576.22 L556.63,575.78 L557.34,577.52 L558.06,577.69 L558.78,577.69 L559.51,578.02 L560.24,577.83 L560.98,578.08 L561.73,578.05 L562.49,578.36 L563.25,578.38 L564.02,579.24 L564.79,578.38 L565.57,578.25 L566.36,579.75 L567.15,578.8 L567.95,579.38 L568.75,578.88 L569.56,579.29 L570.38,579.43 L571.21,579.25 L572.04,580.58 L572.88,580.29 L573.72,579.83 L574.57,580.37 L575.43,580.74 L576.29,580.37 L577.16,580.35 L578.03,580.73 L578.92,580.25 L579.8,581.72 L580.7,581.34 L581.6,581.02 L582.51,581.14 L583.42,581.03 L584.34,582.27 L585.27,581.08 L586.2,581.78 L587.14,581.35 L588.09,582.81 L589.04,581.62 L590,582.04 L590.96,582.55 L591.93,582.97 L592.91,582.94 L593.89,583.06 L594.88,583.19 L595.88,583.49 L596.88,583.51 L597.89,583.43 L598.91,583.09 L599.93,583.3 L600.96,583.73 L601.99,583.53 L603.03,583.37 L604.08,583.89 L605.14,583.45 L606.2,583.52 L607.26,584.25 L608.33,583.88 L609.41,583.46 L610.5,583.48 L611.59,584.27 L612.69,584.89 L613.8,584.86 L614.91,585.13 L616.02,584.36 L617.15,583.78 L618.28,584.76 L619.41,585.41 L620.56,584.89 L621.71,584.94 L622.86,585.29 L624.03,584.86 L625.19,584.93 L626.37,585.54 L627.55,584.7 L628.74,585.28 L629.93,585.64 L631.13,586.35 L632.34,585.6 L633.55,586.58 L634.77,585.92 L636,585.44 L637.23,586.82 L638.47,586.17 L639.71,586.87 L640.96,586.84 L642.22,587.04 L643.49,585.96 L644.76,586.62 L646.03,586.2 L647.32,587 L648.6,586.65 L649.9,587.19 L651.2,586.93 L652.51,586.85 L653.83,586.46 L655.15,587.9 L656.48,587.72 L657.81,587.54 L659.15,587.27 L660.5,587.79 L661.85,587.95 L663.21,587.33 L664.58,588.45 L665.95,587.49 L667.33,588.27 L668.71,588.51 L670.1,587.73 L671.5,588.96 L671.5,591.05 L670.1,590.45 L668.71,591.62 L667.33,591.55 L665.95,590.4 L664.58,590.2 L663.21,590.18 L661.85,590.49 L660.5,591.33 L659.15,590.68 L657.81,590.43 L656.48,589.76 L655.15,590.29 L653.83,589.75 L652.51,590.27 L651.2,590.33 L649.9,589.04 L648.6,590.47 L647.32,589.75 L646.03,588.99 L644.76,589.41 L643.49,588.97 L642.22,589.09 L640.96,589.91 L639.71,589.34 L638.47,588.32 L637.23,589.38 L636,588.48 L634.77,589.18 L633.55,588.34 L632.34,588.7 L631.13,588.39 L629.93,588.93 L628.74,588.33 L627.55,587.94 L626.37,588.1 L625.19,588.69 L624.03,588.04 L622.86,587.62 L621.71,587.74 L620.56,588.42 L619.41,587.98 L618.28,587.45 L617.15,586.64 L616.02,587.94 L614.91,586.72 L613.8,587.65 L612.69,586.74 L611.59,586.28 L610.5,586.97 L609.41,586.45 L608.33,586.59 L607.26,587.15 L606.2,586.22 L605.14,586.51 L604.08,586 L603.03,586.18 L601.99,585.97 L600.96,586.67 L599.93,585.85 L598.91,586.64 L597.89,585.94 L596.88,584.92 L595.88,585.03 L594.88,585.87 L593.89,585.41 L592.91,585.74 L591.93,585.29 L590.96,585.73 L590,585.35 L589.04,584.71 L588.09,585.26 L587.14,584.34 L586.2,585.06 L585.27,584.4 L584.34,584.38 L583.42,583.68 L582.51,584.7 L581.6,584.94 L580.7,584.04 L579.8,583.52 L578.92,583.59 L578.03,583.85 L577.16,583.62 L576.29,583.07 L575.43,583.31 L574.57,583.31 L573.72,583.44 L572.88,583.21 L572.04,583.02 L571.21,582.78 L570.38,582.16 L569.56,582.27 L568.75,581.69 L567.95,581.57 L567.15,581.92 L566.36,581.84 L565.57,581.81 L564.79,581.73 L564.02,580.98 L563.25,581.04 L562.49,580.57 L561.73,581.46 L560.98,580.23 L560.24,580.03 L559.51,579.46 L558.78,580.61 L558.06,580 L557.34,580.01 L556.63,578.77 L555.92,579.13 L555.23,578.2 L554.54,578.43 L553.85,578.28 L553.17,578.84 L552.5,577.92 L551.84,578.18 L551.18,578.01 L550.53,577.83 L549.88,576.51 L549.24,576.22 L548.61,576.88 L547.98,575.9 L547.36,575.42 L546.74,575.92 L546.13,574.34 L545.53,574.65 L544.94,574.76 L544.35,573.24 L543.77,572.85 L543.19,573.08 L542.62,572.08 L542.06,572.64 L541.5,571.25 L540.95,571.51 L540.4,571.21 L539.87,570.14 L539.33,569.54 L538.81,570.24 L538.29,568.64 L537.78,568.37 L537.27,567.57 L536.77,567.91 L536.28,567.36 L535.79,567.46 L535.31,566.76 L534.83,566.17 L534.37,565.89 L533.91,565.12 L533.45,564.26 L533,563.71 L532.56,563.27 L532.12,562.01 L531.69,562.5 L531.27,561.01 L530.85,560.75 L530.44,559.4 L530.04,560.15 L529.64,558.67 L529.25,557.59 L528.86,557.51 L528.48,556.31 L528.11,556.47 L527.74,555.99 L527.38,554.5 L527.03,554.25 L526.68,552.88 L526.34,552.32 L526.01,552.49 L525.68,550.71 L525.36,550.04 L525.04,549.58 L524.74,548.9 L524.43,547.2 L524.14,546.86 L523.85,545.43 L523.56,544.93 L523.29,543.58 L523.02,542.95 L522.75,542.92 L522.49,541.95 L522.24,539.57 L522,538.54 L521.76,537.22 L521.53,537.07 L521.3,535.91 L521.08,534.45 L520.87,532.41 L520.66,530.73 L520.46,529.1 L520.27,527.74 L520.08,526.85 L519.9,524.68 L519.72,522.19 L519.55,520.59 L519.39,519.36 L519.23,517.35 L519.08,516.01 L518.94,514.66 L518.8,512.06 L518.67,510.93 L518.55,509.18 L518.43,507.35 L518.32,504.39 L518.22,502.35 L518.12,500.84 L518.02,499.22 L517.94,497.55 L517.86,496.34 L517.79,495.58 L517.72,493.49 L517.66,493.25 L517.6,490.82 L517.56,491.13 L517.51,489.77 L517.48,487.92 L517.45,488.64 L517.43,487.25 L517.41,486.38 L517.4,487.68 L517.4,486.28Z" fill="#6aaeb0" fill-opacity="0.85"/>
<path d="M517.4,485.6 L517.4,484.79 L517.41,484.85 L517.43,485.9 L517.45,486.08 L517.48,485.94 L517.51,487.39 L517.56,487.87 L517.6,488.36 L517.66,490.34 L517.72,490.33 L517.79,492.19 L517.86,492.98 L517.94,494 L518.02,494.85 L518.12,496.92 L518.22,497.62 L518.32,499.29 L518.43,500.32 L518.55,501.95 L518.67,504.39 L518.8,505.21 L518.94,506.64 L519.08,507.9 L519.23,508.91 L519.39,510.72 L519.55,511.89 L519.72,513.36 L519.9,515.42 L520.08,515.94 L520.27,517.14 L520.46,519.59 L520.66,520.19 L520.87,522.11 L521.08,522.69 L521.3,523.98 L521.53,524.92 L521.76,526.56 L522,527.6 L522.24,529.08 L522.49,530.42 L522.75,530.56 L523.02,531.88 L523.29,533.21 L523.56,533.49 L523.85,533.93 L524.14,534.89 L524.43,535.93 L524.74,536.36 L525.04,536.7 L525.36,537.58 L525.68,537.86 L526.01,538.85 L526.34,539.32 L526.68,539.88 L527.03,540.11 L527.38,540.86 L527.74,542.34 L528.11,542.77 L528.48,542.02 L528.86,542.29 L529.25,543.73 L529.64,543.74 L530.04,544.6 L530.44,545.22 L530.85,545.26 L531.27,544.81 L531.69,546.17 L532.12,545.42 L532.56,545.98 L533,546.56 L533.45,546.48 L533.91,547.79 L534.37,548.45 L534.83,548.59 L535.31,548.48 L535.79,548.67 L536.28,549.78 L536.77,549.24 L537.27,550.47 L537.78,549.51 L538.29,549.94 L538.81,550.42 L539.33,551.6 L539.87,551.84 L540.4,552.24 L540.95,551.81 L541.5,553.2 L542.06,553.49 L542.62,553.5 L543.19,553.63 L543.77,553.03 L544.35,553.94 L544.94,555.05 L545.53,555.09 L546.13,555.31 L546.74,554.91 L547.36,556.35 L547.98,555.97 L548.61,555.49 L549.24,556.36 L549.88,556.5 L550.53,557.43 L551.18,556.97 L551.84,557.71 L552.5,558.68 L553.17,557.95 L553.85,557.99 L554.54,558.58 L555.23,559.21 L555.92,558.88 L556.63,559.85 L557.34,560.4 L558.06,559.64 L558.78,560.3 L559.51,560.1 L560.24,560.59 L560.98,561.26 L561.73,561.33 L562.49,561.66 L563.25,561.45 L564.02,563.19 L564.79,561.99 L565.57,563.68 L566.36,562.55 L567.15,563.32 L567.95,563.74 L568.75,564.6 L569.56,564.38 L570.38,564.66 L571.21,564.25 L572.04,564.14 L572.88,565.68 L573.72,564.87 L574.57,566.16 L575.43,565.31 L576.29,566.6 L577.16,566.03 L578.03,567.05 L578.92,566.55 L579.8,566.77 L580.7,566.78 L581.6,567.53 L582.51,568.15 L583.42,568.5 L584.34,568.06 L585.27,567.73 L586.2,568.62 L587.14,569 L588.09,568.82 L589.04,568.46 L590,569.22 L590.96,569.88 L591.93,570.27 L592.91,570.38 L593.89,569.77 L594.88,570.34 L595.88,570.25 L596.88,570.97 L597.89,571.54 L598.91,570.76 L599.93,571.38 L600.96,570.98 L601.99,571.37 L603.03,572.59 L604.08,572.61 L605.14,572.94 L606.2,572.88 L607.26,572.85 L608.33,572.42 L609.41,573.65 L610.5,573.34 L611.59,573.03 L612.69,572.7 L613.8,573.92 L614.91,573.14 L616.02,573.78 L617.15,574.02 L618.28,574.43 L619.41,573.88 L620.56,575.29 L621.71,574.22 L622.86,574.61 L624.03,575.23 L625.19,575.33 L626.37,575.08 L627.55,575.06 L628.74,575.99 L629.93,575.87 L631.13,576.08 L632.34,576.43 L633.55,576.92 L634.77,577.46 L636,576.2 L637.23,576.83 L638.47,577.9 L639.71,577.77 L640.96,577.93 L642.22,577.23 L643.49,577.04 L644.76,577.52 L646.03,578.48 L647.32,578.93 L648.6,579.06 L649.9,579.3 L651.2,578.26 L652.51,578.7 L653.83,579.41 L655.15,578.68 L656.48,579.82 L657.81,579.96 L659.15,579.93 L660.5,580.01 L661.85,579.47 L663.21,580.53 L664.58,579.93 L665.95,581.12 L667.33,580.13 L668.71,580.28 L670.1,580.57 L671.5,580.9 L671.5,588.73 L670.1,588.36 L668.71,588.59 L667.33,587.18 L665.95,587.91 L664.58,587.53 L663.21,587.06 L661.85,587.97 L660.5,587.61 L659.15,586.33 L657.81,586.07 L656.48,587.36 L655.15,586.28 L653.83,586.84 L652.51,586.58 L651.2,586.39 L649.9,586.42 L648.6,585.77 L647.32,585.7 L646.03,585.23 L644.76,584.86 L643.49,585.17 L642.22,584.65 L640.96,583.98 L639.71,583.95 L638.47,584.47 L637.23,583.68 L636,584.57 L634.77,584.23 L633.55,583.09 L632.34,583.89 L631.13,583.96 L629.93,582.53 L628.74,582.38 L627.55,582.9 L626.37,582.83 L625.19,582.63 L624.03,581.98 L622.86,581.56 L621.71,582.62 L620.56,581.95 L619.41,581.19 L618.28,581.36 L617.15,581.4 L616.02,581.31 L614.91,581.27 L613.8,580.75 L612.69,580.16 L611.59,581.1 L610.5,579.98 L609.41,580.1 L608.33,580.06 L607.26,579.94 L606.2,578.88 L605.14,579.6 L604.08,579.98 L603.03,579.69 L601.99,578.79 L600.96,578 L599.93,578.23 L598.91,578.19 L597.89,577.56 L596.88,578.42 L595.88,577.61 L594.88,577.39 L593.89,577.58 L592.91,577 L591.93,577.49 L590.96,575.92 L590,576.02 L589.04,575.58 L588.09,576.86 L587.14,575.36 L586.2,575.02 L585.27,575.16 L584.34,575.27 L583.42,575.77 L582.51,575.17 L581.6,574.83 L580.7,573.67 L579.8,574.71 L578.92,574.04 L578.03,573.44 L577.16,573 L576.29,573.66 L575.43,573.5 L574.57,573.49 L573.72,572.8 L572.88,572.01 L572.04,572.54 L571.21,571.28 L570.38,571.22 L569.56,572.07 L568.75,571.36 L567.95,570.09 L567.15,570.13 L566.36,570.35 L565.57,570.22 L564.79,570.21 L564.02,570 L563.25,568.56 L562.49,568.54 L561.73,568.76 L560.98,567.92 L560.24,568.6 L559.51,567.65 L558.78,567.26 L558.06,567.12 L557.34,567.7 L556.63,566.83 L555.92,566.88 L555.23,566.75 L554.54,566.55 L553.85,565.86 L553.17,566.09 L552.5,564.94 L551.84,564.8 L551.18,564.18 L550.53,564.57 L549.88,563.42 L549.24,563.22 L548.61,563.17 L547.98,562.7 L547.36,563.01 L546.74,562.56 L546.13,562.67 L545.53,561.14 L544.94,560.97 L544.35,561.27 L543.77,561.26 L543.19,560.55 L542.62,560.84 L542.06,560.31 L541.5,559.56 L540.95,558.71 L540.4,559.57 L539.87,558.56 L539.33,557.74 L538.81,558.74 L538.29,558.22 L537.78,557.02 L537.27,557.28 L536.77,556.05 L536.28,556.89 L535.79,555.32 L535.31,556.08 L534.83,555.05 L534.37,555.22 L533.91,554.25 L533.45,554.12 L533,553.88 L532.56,553.23 L532.12,552.62 L531.69,553.34 L531.27,553.29 L530.85,551.74 L530.44,551.63 L530.04,551.07 L529.64,551.33 L529.25,550.43 L528.86,550.53 L528.48,549.45 L528.11,549.93 L527.74,549.33 L527.38,548.25 L527.03,548.25 L526.68,546.95 L526.34,546.15 L526.01,546.27 L525.68,545.78 L525.36,545.32 L525.04,544.97 L524.74,543.07 L524.43,542.72 L524.14,542.53 L523.85,541.93 L523.56,540.74 L523.29,539.21 L523.02,538.45 L522.75,537.56 L522.49,537.12 L522.24,535.57 L522,534.28 L521.76,533.32 L521.53,533.31 L521.3,532.11 L521.08,530.48 L520.87,528.28 L520.66,528.02 L520.46,525.38 L520.27,524.05 L520.08,523.15 L519.9,520.95 L519.72,518.82 L519.55,517.55 L519.39,515.81 L519.23,515.05 L519.08,512.14 L518.94,510.96 L518.8,508.84 L518.67,507.45 L518.55,505.63 L518.43,503.98 L518.32,503.37 L518.22,501.95 L518.12,499.4 L518.02,498.22 L517.94,497.72 L517.86,496.42 L517.79,494.13 L517.72,493.92 L517.66,492.78 L517.6,490.51 L517.56,490.56 L517.51,490.33 L517.48,489.57 L517.45,488.22 L517.43,487.73 L517.41,488.31 L517.4,487.11 L517.4,487.19Z" fill="#dbbca5" fill-opacity="0.85"/>
<path d="M517.4,484.89 L517.4,485.74 L517.41,485.61 L517.43,486.3 L517.45,485.72 L517.48,486.46 L517.51,487.54 L517.56,487.25 L517.6,488.85 L517.66,489.42 L517.72,491 L517.79,492.11 L517.86,491.99 L517.94,493.45 L518.02,495.35 L518.12,496.04 L518.22,497.95 L518.32,499.3 L518.43,500.22 L518.55,502.31 L518.67,504.12 L518.8,505.09 L518.94,507.75 L519.08,508.79 L519.23,510.46 L519.39,512.57 L519.55,515.01 L519.72,516.01 L519.9,518.19 L520.08,519.47 L520.27,520.68 L520.46,523 L520.66,524.85 L520.87,525.6 L521.08,528.03 L521.3,529.57 L521.53,531.11 L521.76,531.96 L522,533.99 L522.24,535.8 L522.49,536.95 L522.75,538.6 L523.02,539.5 L523.29,541.61 L523.56,543.16 L523.85,543.84 L524.14,545.33 L524.43,547.24 L524.74,548.78 L525.04,549.91 L525.36,549.68 L525.68,551.56 L526.01,552.24 L526.34,553.36 L526.68,553.76 L527.03,556.03 L527.38,555.91 L527.74,556.64 L528.11,558.35 L528.48,558.68 L528.86,559.8 L529.25,560.64 L529.64,561.53 L530.04,562.04 L530.44,563.08 L530.85,563.01 L531.27,563.43 L531.69,565.18 L532.12,565.89 L532.56,565.56 L533,566.68 L533.45,567.32 L533.91,566.9 L534.37,567.45 L534.83,568.47 L535.31,569.44 L535.79,569.76 L536.28,571.03 L536.77,571.65 L537.27,571.57 L537.78,571.62 L538.29,571.84 L538.81,573.31 L539.33,573.88 L539.87,573.92 L540.4,574.42 L540.95,574.96 L541.5,575.65 L542.06,576.07 L542.62,576.63 L543.19,577.07 L543.77,577.01 L544.35,577.56 L544.94,577.38 L545.53,578.36 L546.13,579.27 L546.74,580.04 L547.36,580.09 L547.98,579.34 L548.61,579.8 L549.24,581.01 L549.88,582.03 L550.53,581.16 L551.18,582.5 L551.84,581.97 L552.5,583.35 L553.17,584.06 L553.85,583.89 L554.54,584.53 L555.23,584.14 L555.92,584.16 L556.63,584.46 L557.34,585.36 L558.06,585.17 L558.78,586.09 L559.51,587.29 L560.24,586.49 L560.98,586.89 L561.73,587.18 L562.49,588.36 L563.25,587.95 L564.02,588.15 L564.79,588.37 L565.57,589.83 L566.36,589.96 L567.15,589.52 L567.95,590.15 L568.75,589.94 L569.56,590.94 L570.38,591.21 L571.21,590.91 L572.04,591.44 L572.88,592.54 L573.72,592.82 L574.57,592.2 L575.43,592.18 L576.29,592.29 L577.16,592.78 L578.03,592.97 L578.92,594.17 L579.8,593.88 L580.7,594.74 L581.6,595.42 L582.51,594.48 L583.42,595.46 L584.34,595.42 L585.27,595.54 L586.2,595.13 L587.14,595.85 L588.09,595.77 L589.04,596.03 L590,596.34 L590.96,596.52 L591.93,597.31 L592.91,597.3 L593.89,598.43 L594.88,597.53 L595.88,598.82 L596.88,598.07 L597.89,598.27 L598.91,598.13 L599.93,598.93 L600.96,599.07 L601.99,599.8 L603.03,599.78 L604.08,600.22 L605.14,600.73 L606.2,600.17 L607.26,600.41 L608.33,600.56 L609.41,600.8 L610.5,601.94 L611.59,601.52 L612.69,601.15 L613.8,601.55 L614.91,601.46 L616.02,602.68 L617.15,602.98 L618.28,602.84 L619.41,602.95 L620.56,602.62 L621.71,602.31 L622.86,603.86 L624.03,603.64 L625.19,603.26 L626.37,604.26 L627.55,604.4 L628.74,604.3 L629.93,604.73 L631.13,604.84 L632.34,604.38 L633.55,604.63 L634.77,605.16 L636,605.42 L637.23,605.13 L638.47,606.45 L639.71,605.99 L640.96,606.64 L642.22,605.81 L643.49,606.46 L644.76,607.23 L646.03,607.49 L647.32,606.9 L648.6,607.78 L649.9,606.91 L651.2,607.02 L652.51,608.33 L653.83,607.96 L655.15,608.06 L656.48,608.73 L657.81,608.57 L659.15,609.21 L660.5,609.28 L661.85,609.21 L663.21,609.16 L664.58,609.37 L665.95,609.28 L667.33,609.24 L668.71,610.49 L670.1,610.06 L671.5,611.07 L671.5,620.28 L670.1,620.33 L668.71,620.18 L667.33,619.84 L665.95,620.27 L664.58,619.19 L663.21,619.52 L661.85,619.16 L660.5,619.17 L659.15,618.64 L657.81,619.48 L656.48,618.73 L655.15,619.42 L653.83,617.77 L652.51,618.28 L651.2,617.82 L649.9,617.47 L648.6,617.07 L647.32,618.02 L646.03,616.57 L644.76,617.74 L643.49,617.14 L642.22,617.25 L640.96,616.12 L639.71,616.4 L638.47,616.21 L637.23,615.4 L636,615.75 L634.77,615.95 L633.55,616.06 L632.34,615.4 L631.13,615.1 L629.93,614.56 L628.74,614.83 L627.55,614.29 L626.37,614.08 L625.19,614.29 L624.03,614.68 L622.86,613.72 L621.71,613.9 L620.56,614.07 L619.41,613.2 L618.28,612.65 L617.15,612.01 L616.02,612.99 L614.91,611.73 L613.8,611.73 L612.69,612.12 L611.59,612.43 L610.5,610.75 L609.41,610.77 L608.33,610.96 L607.26,611.69 L606.2,610.44 L605.14,610.88 L604.08,611.09 L603.03,610.19 L601.99,610.15 L600.96,608.91 L599.93,609.57 L598.91,609.28 L597.89,608.36 L596.88,608.31 L595.88,608.98 L594.88,609.13 L593.89,607.92 L592.91,607.93 L591.93,607.09 L590.96,607.86 L590,607.55 L589.04,606.9 L588.09,606.76 L587.14,607.15 L586.2,607.08 L585.27,605.42 L584.34,605.38 L583.42,604.82 L582.51,605.78 L581.6,604.31 L580.7,605.41 L579.8,605.21 L578.92,603.62 L578.03,603.48 L577.16,604.12 L576.29,604.13 L575.43,603.96 L574.57,602.16 L573.72,603.43 L572.88,601.85 L572.04,602.51 L571.21,602.39 L570.38,602.09 L569.56,601.11 L568.75,601.17 L567.95,601.2 L567.15,600 L566.36,600.47 L565.57,599.27 L564.79,599.9 L564.02,599.11 L563.25,599.46 L562.49,598.57 L561.73,597.53 L560.98,597.56 L560.24,596.93 L559.51,597.18 L558.78,597.3 L558.06,596.38 L557.34,596.5 L556.63,595.79 L555.92,595.57 L555.23,595.47 L554.54,594.39 L553.85,593.82 L553.17,593.69 L552.5,592.89 L551.84,592.16 L551.18,593.2 L550.53,591.61 L549.88,591.51 L549.24,590.81 L548.61,590.91 L547.98,589.91 L547.36,589.42 L546.74,589.22 L546.13,589.01 L545.53,589.05 L544.94,587.58 L544.35,588.63 L543.77,587.13 L543.19,587.8 L542.62,586.28 L542.06,586.55 L541.5,585.28 L540.95,584.93 L540.4,584.98 L539.87,584.4 L539.33,583.65 L538.81,582.63 L538.29,582.22 L537.78,581.64 L537.27,582.14 L536.77,580.56 L536.28,580.85 L535.79,579.44 L535.31,579.29 L534.83,579.13 L534.37,578.78 L533.91,577.87 L533.45,577.17 L533,576.69 L532.56,576.63 L532.12,575.16 L531.69,575.21 L531.27,574.39 L530.85,573.09 L530.44,573.58 L530.04,571.61 L529.64,572.29 L529.25,570.32 L528.86,570.62 L528.48,568.76 L528.11,567.97 L527.74,567.2 L527.38,565.93 L527.03,565.43 L526.68,564.82 L526.34,564.47 L526.01,563.31 L525.68,562.61 L525.36,560.23 L525.04,559.77 L524.74,558.22 L524.43,557.36 L524.14,555.74 L523.85,554.07 L523.56,553.13 L523.29,552 L523.02,551.28 L522.75,548.66 L522.49,547.33 L522.24,546.02 L522,545.45 L521.76,542.81 L521.53,541.28 L521.3,539.51 L521.08,538.06 L520.87,536.73 L520.66,534.84 L520.46,533.13 L520.27,530.12 L520.08,528.61 L519.9,526.77 L519.72,524.69 L519.55,521.44 L519.39,520.86 L519.23,518.19 L519.08,516.06 L518.94,513.7 L518.8,511.53 L518.67,510.95 L518.55,507.52 L518.43,506.57 L518.32,504.43 L518.22,503.08 L518.12,501.08 L518.02,499 L517.94,498.86 L517.86,496.55 L517.79,495.68 L517.72,494.11 L517.66,492.61 L517.6,491.97 L517.56,491.74 L517.51,489.7 L517.48,490.36 L517.45,488.64 L517.43,487.99 L517.41,488.94 L517.4,488.32 L517.4,487.63Z" fill="#e1c172" fill-opacity="0.85"/>
<path d="M517.4,485.66 L517.4,485.01 L517.41,486.09 L517.43,485.65 L517.45,486.08 L517.48,486.92 L517.51,486.93 L517.56,488.15 L517.6,488.12 L517.66,489.71 L517.72,490.59 L517.79,490.5 L517.86,491.36 L517.94,493.03 L518.02,493.71 L518.12,495.39 L518.22,495.12 L518.32,496.98 L518.43,498.77 L518.55,499.4 L518.67,500.58 L518.8,501.94 L518.94,503.45 L519.08,504.28 L519.23,505.97 L519.39,507.36 L519.55,507.55 L519.72,508.7 L519.9,509.94 L520.08,512.15 L520.27,512.18 L520.46,514.35 L520.66,514.4 L520.87,516.17 L521.08,518.26 L521.3,519.18 L521.53,519.41 L521.76,519.94 L522,521.39 L522.24,522.43 L522.49,524.25 L522.75,524.6 L523.02,524.73 L523.29,526.87 L523.56,527.65 L523.85,527.37 L524.14,528.64 L524.43,529.22 L524.74,530.08 L525.04,531.06 L525.36,531.86 L525.68,531.05 L526.01,532.37 L526.34,532.95 L526.68,533 L527.03,533.51 L527.38,534.79 L527.74,534.68 L528.11,535.1 L528.48,534.89 L528.86,536.22 L529.25,536.96 L529.64,536.9 L530.04,537.78 L530.44,537.94 L530.85,538.07 L531.27,537.8 L531.69,538.99 L532.12,539.43 L532.56,538.44 L533,539.83 L533.45,539.54 L533.91,539.58 L534.37,540.55 L534.83,539.83 L535.31,540.09 L535.79,540.77 L536.28,541.51 L536.77,541.75 L537.27,542.58 L537.78,542.74 L538.29,542.94 L538.81,542.55 L539.33,542.79 L539.87,542.8 L540.4,542.86 L540.95,544.13 L541.5,544.31 L542.06,544.81 L542.62,545.21 L543.19,545.49 L543.77,544.71 L544.35,545.69 L544.94,546.23 L545.53,545.77 L546.13,546.19 L546.74,545.62 L547.36,546.16 L547.98,547.32 L548.61,547.69 L549.24,547.41 L549.88,547.24 L550.53,547.98 L551.18,547.7 L551.84,547.8 L552.5,547.92 L553.17,548.34 L553.85,548.99 L554.54,549.21 L555.23,549.5 L555.92,548.83 L556.63,549.15 L557.34,549.43 L558.06,550 L558.78,550.72 L559.51,550.14 L560.24,550.62 L560.98,551.7 L561.73,550.75 L562.49,552.13 L563.25,551.72 L564.02,551.32 L564.79,551.6 L565.57,552.35 L566.36,552.05 L567.15,552.26 L567.95,552.51 L568.75,553.13 L569.56,552.54 L570.38,553.49 L571.21,553.81 L572.04,553.45 L572.88,553.51 L573.72,553.5 L574.57,554.46 L575.43,555.24 L576.29,554.91 L577.16,555.12 L578.03,555.48 L578.92,554.9 L579.8,556.25 L580.7,555.84 L581.6,556.32 L582.51,556.48 L583.42,556.82 L584.34,557.01 L585.27,556.32 L586.2,556.22 L587.14,557.07 L588.09,556.69 L589.04,556.61 L590,556.97 L590.96,558.19 L591.93,557.51 L592.91,558.13 L593.89,558.24 L594.88,557.5 L595.88,558.67 L596.88,557.61 L597.89,558.16 L598.91,559.29 L599.93,559.07 L600.96,559.34 L601.99,559.6 L603.03,559.62 L604.08,559.36 L605.14,559.87 L606.2,560.07 L607.26,560.34 L608.33,560.45 L609.41,560.61 L610.5,559.59 L611.59,559.68 L612.69,560.17 L613.8,560.34 L614.91,560.77 L616.02,560.43 L617.15,561.19 L618.28,561.54 L619.41,560.8 L620.56,561.31 L621.71,560.93 L622.86,561.84 L624.03,560.62 L625.19,560.76 L626.37,562.14 L627.55,561.92 L628.74,561.6 L629.93,561.75 L631.13,562.28 L632.34,561.54 L633.55,562.63 L634.77,562.68 L636,561.92 L637.23,561.9 L638.47,562.24 L639.71,563.58 L640.96,562.51 L642.22,563.24 L643.49,563 L644.76,564 L646.03,564.16 L647.32,564.01 L648.6,563.63 L649.9,563.17 L651.2,563.72 L652.51,563.5 L653.83,563.36 L655.15,564.68 L656.48,564.01 L657.81,564.94 L659.15,563.73 L660.5,564.42 L661.85,564.39 L663.21,564.93 L664.58,564.85 L665.95,565.57 L667.33,564.8 L668.71,564.41 L670.1,565.52 L671.5,565.24 L671.5,572.33 L670.1,571.91 L668.71,572.26 L667.33,572.38 L665.95,571.51 L664.58,571.7 L663.21,571.12 L661.85,571.47 L660.5,571.84 L659.15,571.21 L657.81,571.17 L656.48,571.49 L655.15,570.72 L653.83,570.68 L652.51,570.26 L651.2,570.89 L649.9,571 L648.6,569.39 L647.32,569.54 L646.03,569.48 L644.76,569.88 L643.49,569.77 L642.22,570.29 L640.96,570.18 L639.71,569.23 L638.47,568.98 L637.23,569.75 L636,569.42 L634.77,569.51 L633.55,568.82 L632.34,568.43 L631.13,568.36 L629.93,569.13 L628.74,568.01 L627.55,568.29 L626.37,568.11 L625.19,567.51 L624.03,568 L622.86,568.37 L621.71,567.94 L620.56,568.21 L619.41,566.89 L618.28,567.96 L617.15,567.61 L616.02,567.65 L614.91,567.41 L613.8,567.61 L612.69,566.41 L611.59,566.23 L610.5,567.13 L609.41,566.92 L608.33,565.72 L607.26,566.26 L606.2,565.76 L605.14,566.4 L604.08,565.71 L603.03,566.17 L601.99,565.94 L600.96,566.11 L599.93,564.69 L598.91,565.42 L597.89,564.46 L596.88,565.21 L595.88,565.18 L594.88,564.78 L593.89,564.65 L592.91,564.94 L591.93,564.14 L590.96,564.46 L590,564.6 L589.04,563.24 L588.09,562.96 L587.14,562.82 L586.2,563.6 L585.27,562.41 L584.34,562.77 L583.42,561.96 L582.51,562.52 L581.6,562.16 L580.7,562.56 L579.8,561.35 L578.92,562.07 L578.03,561.04 L577.16,562.02 L576.29,560.96 L575.43,560.55 L574.57,560.7 L573.72,560.68 L572.88,560.29 L572.04,560.88 L571.21,560.6 L570.38,560.57 L569.56,560.63 L568.75,560.35 L567.95,560.13 L567.15,558.74 L566.36,558.98 L565.57,558.72 L564.79,558.79 L564.02,558.48 L563.25,558.38 L562.49,557.51 L561.73,557.26 L560.98,557.67 L560.24,558.04 L559.51,557.98 L558.78,556.52 L558.06,556.64 L557.34,556.74 L556.63,556.63 L555.92,556.2 L555.23,555.89 L554.54,556.18 L553.85,554.85 L553.17,554.58 L552.5,555.49 L551.84,555.19 L551.18,554.49 L550.53,553.61 L549.88,554.8 L549.24,554.6 L548.61,552.86 L547.98,552.93 L547.36,553.76 L546.74,552.31 L546.13,552.7 L545.53,552.97 L544.94,551.49 L544.35,551.89 L543.77,551.4 L543.19,551.43 L542.62,551.93 L542.06,550.28 L541.5,550.01 L540.95,550.25 L540.4,550.05 L539.87,549.92 L539.33,549.81 L538.81,548.57 L538.29,549.83 L537.78,548.23 L537.27,548.24 L536.77,547.7 L536.28,547.69 L535.79,547.27 L535.31,547.96 L534.83,547.46 L534.37,546.3 L533.91,547.22 L533.45,546.53 L533,546.7 L532.56,545.03 L532.12,544.9 L531.69,544.48 L531.27,544.26 L530.85,544.68 L530.44,544.05 L530.04,543.81 L529.64,542.84 L529.25,542.29 L528.86,541.87 L528.48,542.09 L528.11,542.39 L527.74,542.05 L527.38,541.06 L527.03,540.78 L526.68,540.43 L526.34,539.17 L526.01,538.78 L525.68,538.07 L525.36,537.88 L525.04,536.7 L524.74,536.33 L524.43,535.86 L524.14,534.98 L523.85,533.73 L523.56,533.29 L523.29,533.37 L523.02,531.74 L522.75,531.05 L522.49,530.36 L522.24,528.94 L522,527.97 L521.76,528.11 L521.53,526.3 L521.3,524.62 L521.08,524.57 L520.87,523.03 L520.66,522.01 L520.46,520.33 L520.27,519.25 L520.08,517.65 L519.9,515.46 L519.72,515.18 L519.55,512.77 L519.39,512.18 L519.23,510.37 L519.08,508.08 L518.94,507.74 L518.8,506.43 L518.67,504.46 L518.55,503.69 L518.43,501.55 L518.32,500.27 L518.22,499.17 L518.12,498.16 L518.02,496.53 L517.94,495.18 L517.86,493.58 L517.79,493.5 L517.72,492.61 L517.66,490.89 L517.6,490.7 L517.56,489.62 L517.51,489.45 L517.48,488.35 L517.45,488.01 L517.43,487.14 L517.41,487.81 L517.4,487.35 L517.4,487.99Z" fill="#6cc9a0" fill-opacity="0.85"/>
<path d="M517.4,486.49 L517.4,486.29 L517.41,485.7 L517.43,486.86 L517.45,485.78 L517.48,486.74 L517.51,486.78 L517.56,487.56 L517.6,488.2 L517.66,488.34 L517.72,489.58 L517.79,489.89 L517.86,489.84 L517.94,491.04 L518.02,491.06 L518.12,492.29 L518.22,493.42 L518.32,493.18 L518.43,495.2 L518.55,495.83 L518.67,496.03 L518.8,496.9 L518.94,498.87 L519.08,498.54 L519.23,500.67 L519.39,500.59 L519.55,501.17 L519.72,502.55 L519.9,504.38 L520.08,504.07 L520.27,505.36 L520.46,506.54 L520.66,506.91 L520.87,508.55 L521.08,509.15 L521.3,510.37 L521.53,510.64 L521.76,511.77 L522,512.79 L522.24,513.85 L522.49,514.75 L522.75,514.79 L523.02,515.42 L523.29,515.86 L523.56,517.69 L523.85,517.85 L524.14,518.06 L524.43,519.59 L524.74,520.23 L525.04,521.09 L525.36,521.97 L525.68,521.62 L526.01,522.95 L526.34,522.52 L526.68,523.63 L527.03,524.39 L527.38,524.06 L527.74,524.46 L528.11,525.66 L528.48,526.42 L528.86,526.47 L529.25,526.73 L529.64,528.01 L530.04,527.44 L530.44,528.85 L530.85,529.51 L531.27,529.69 L531.69,529.96 L532.12,529.55 L532.56,530.87 L533,530.59 L533.45,531.51 L533.91,531.38 L534.37,531.69 L534.83,532.79 L535.31,533.38 L535.79,533.59 L536.28,534.19 L536.77,533.22 L537.27,533.81 L537.78,534.04 L538.29,535.2 L538.81,534.73 L539.33,535.2 L539.87,536.39 L540.4,536.26 L540.95,536.43 L541.5,536.76 L542.06,538.07 L542.62,537.16 L543.19,537.5 L543.77,538.47 L544.35,539.13 L544.94,539.39 L545.53,539.6 L546.13,539.47 L546.74,541.03 L547.36,541.29 L547.98,541.65 L548.61,541.16 L549.24,541.43 L549.88,542.15 L550.53,541.87 L551.18,542.27 L551.84,542.24 L552.5,543.06 L553.17,542.84 L553.85,543.13 L554.54,544.01 L555.23,544.96 L555.92,545.2 L556.63,545.12 L557.34,544.34 L558.06,544.54 L558.78,545.95 L559.51,545.48 L560.24,545.59 L560.98,547.18 L561.73,545.92 L562.49,546.68 L563.25,547.65 L564.02,546.78 L564.79,547.11 L565.57,547.86 L566.36,548.81 L567.15,548.35 L567.95,548.03 L568.75,548.96 L569.56,548.63 L570.38,548.55 L571.21,549.88 L572.04,550.53 L572.88,550.36 L573.72,550.7 L574.57,549.83 L575.43,550.17 L576.29,550.64 L577.16,551.56 L578.03,551.18 L578.92,552.06 L579.8,550.95 L580.7,552.03 L581.6,551.99 L582.51,551.74 L583.42,553.04 L584.34,551.94 L585.27,552.16 L586.2,552.87 L587.14,553.33 L588.09,553.19 L589.04,553.82 L590,553.58 L590.96,554.07 L591.93,553.55 L592.91,554.43 L593.89,553.71 L594.88,554.61 L595.88,554.19 L596.88,554.33 L597.89,555.37 L598.91,555.28 L599.93,554.48 L600.96,556.12 L601.99,554.77 L603.03,555.24 L604.08,555.35 L605.14,556.63 L606.2,556.75 L607.26,555.66 L608.33,556.76 L609.41,557.24 L610.5,556.12 L611.59,556.21 L612.69,556.25 L613.8,557.64 L614.91,556.35 L616.02,557.36 L617.15,557.4 L618.28,557.67 L619.41,556.97 L620.56,557.84 L621.71,557.73 L622.86,558.4 L624.03,558.66 L625.19,558.18 L626.37,558.61 L627.55,558.37 L628.74,559.37 L629.93,558.48 L631.13,559.2 L632.34,559.51 L633.55,558.85 L634.77,559.6 L636,559.46 L637.23,559.83 L638.47,558.83 L639.71,559.93 L640.96,559.77 L642.22,559.7 L643.49,560.19 L644.76,560.44 L646.03,560.83 L647.32,560.63 L648.6,560.68 L649.9,560.39 L651.2,560.09 L652.51,560.62 L653.83,560.42 L655.15,560.68 L656.48,560.39 L657.81,561.91 L659.15,561.94 L660.5,561.89 L661.85,561.86 L663.21,561.17 L664.58,560.91 L665.95,562.4 L667.33,561.61 L668.71,562.43 L670.1,562.57 L671.5,561.57 L671.5,566.32 L670.1,565.75 L668.71,566.21 L667.33,565.92 L665.95,566.05 L664.58,564.84 L663.21,565.03 L661.85,564.7 L660.5,565.74 L659.15,565.27 L657.81,564.99 L656.48,564.54 L655.15,564.25 L653.83,564.1 L652.51,564.64 L651.2,564.91 L649.9,564.7 L648.6,564.55 L647.32,563.13 L646.03,564.31 L644.76,564.14 L643.49,564.22 L642.22,563.62 L640.96,563.26 L639.71,563.38 L638.47,562.49 L637.23,562.21 L636,563.65 L634.77,562.21 L633.55,562.35 L632.34,561.91 L631.13,562.99 L629.93,561.67 L628.74,562.28 L627.55,561.46 L626.37,561.5 L625.19,561.25 L624.03,562.23 L622.86,560.85 L621.71,560.7 L620.56,561.03 L619.41,560.53 L618.28,561.6 L617.15,561.19 L616.02,561.38 L614.91,561.3 L613.8,561.28 L612.69,560.94 L611.59,560.37 L610.5,560.71 L609.41,560.42 L608.33,559.32 L607.26,559.04 L606.2,559.3 L605.14,559.76 L604.08,559.67 L603.03,559.94 L601.99,558.39 L600.96,559.45 L599.93,558.16 L598.91,559.05 L597.89,559.03 L596.88,558.19 L595.88,558.98 L594.88,557.35 L593.89,558.54 L592.91,557.68 L591.93,557.8 L590.96,557.74 L590,557.07 L589.04,556.35 L588.09,556.2 L587.14,557.05 L586.2,556.67 L585.27,555.88 L584.34,556.32 L583.42,555.81 L582.51,555.4 L581.6,555.84 L580.7,556.04 L579.8,554.95 L578.92,555.09 L578.03,554.11 L577.16,555.09 L576.29,553.65 L575.43,554.36 L574.57,553.23 L573.72,554.35 L572.88,553.4 L572.04,553.26 L571.21,553.86 L570.38,553.57 L569.56,552.3 L568.75,552.47 L567.95,551.6 L567.15,552.51 L566.36,552.22 L565.57,552.3 L564.79,551.71 L564.02,550.39 L563.25,550.69 L562.49,551.15 L561.73,549.73 L560.98,549.68 L560.24,549.94 L559.51,549.23 L558.78,549.4 L558.06,549.5 L557.34,548.17 L556.63,548.72 L555.92,548.76 L555.23,548.19 L554.54,547.83 L553.85,546.85 L553.17,547.25 L552.5,546.53 L551.84,546.71 L551.18,545.68 L550.53,545.23 L549.88,545.34 L549.24,545.4 L548.61,544.21 L547.98,543.79 L547.36,543.88 L546.74,544.32 L546.13,544.1 L545.53,543.33 L544.94,542.7 L544.35,542.88 L543.77,541.49 L543.19,541.86 L542.62,541.96 L542.06,541.23 L541.5,541.37 L540.95,540.95 L540.4,540.24 L539.87,539.52 L539.33,538.99 L538.81,539.59 L538.29,539.2 L537.78,538.26 L537.27,537.62 L536.77,537.82 L536.28,536.97 L535.79,536.19 L535.31,536.27 L534.83,536.87 L534.37,535.08 L533.91,534.88 L533.45,535.47 L533,533.86 L532.56,534.33 L532.12,534.06 L531.69,533.93 L531.27,533.42 L530.85,533.12 L530.44,532.04 L530.04,531.88 L529.64,531.69 L529.25,531.25 L528.86,530.34 L528.48,529.87 L528.11,529.82 L527.74,528.62 L527.38,527.99 L527.03,528.36 L526.68,527.21 L526.34,527.22 L526.01,525.82 L525.68,525.3 L525.36,525.26 L525.04,524.08 L524.74,523.92 L524.43,523.71 L524.14,521.98 L523.85,522.09 L523.56,521.17 L523.29,520.23 L523.02,518.98 L522.75,519.32 L522.49,517.93 L522.24,516.28 L522,515.8 L521.76,514.99 L521.53,515.12 L521.3,513.21 L521.08,512.93 L520.87,511.69 L520.66,510.25 L520.46,510.23 L520.27,509.29 L520.08,508.36 L519.9,506.28 L519.72,505.42 L519.55,504.17 L519.39,503.41 L519.23,501.98 L519.08,501.12 L518.94,501.14 L518.8,499.21 L518.67,497.69 L518.55,496.9 L518.43,495.94 L518.32,495.58 L518.22,494.42 L518.12,494.33 L518.02,492.45 L517.94,492.51 L517.86,492.21 L517.79,491.06 L517.72,490.38 L517.66,489.42 L517.6,488.68 L517.56,488.19 L517.51,488.52 L517.48,487.04 L517.45,487.61 L517.43,487.86 L517.41,486.49 L517.4,486.23 L517.4,487.31Z" fill="#e6b88a" fill-opacity="0.85"/>
<path d="M517.4,485.41 L517.4,485.53 L517.41,486.57 L517.43,486.02 L517.45,486.23 L517.48,486.28 L517.51,487.04 L517.56,486.44 L517.6,487.17 L517.66,487.2 L517.72,488.83 L517.79,488.52 L517.86,489.93 L517.94,490.66 L518.02,490.53 L518.12,490.88 L518.22,491.9 L518.32,493.87 L518.43,494.06 L518.55,494.87 L518.67,495.22 L518.8,495.67 L518.94,496.99 L519.08,497.44 L519.23,499.67 L519.39,499.42 L519.55,500.12 L519.72,501.18 L519.9,502.65 L520.08,503.55 L520.27,504.71 L520.46,505.37 L520.66,506.18 L520.87,507.12 L521.08,507.7 L521.3,507.51 L521.53,509.79 L521.76,510.22 L522,511.04 L522.24,511.01 L522.49,513.13 L522.75,513.35 L523.02,513.4 L523.29,513.79 L523.56,514.67 L523.85,515.73 L524.14,516.03 L524.43,516.85 L524.74,517.91 L525.04,518.08 L525.36,518.73 L525.68,520.07 L526.01,519.71 L526.34,520.56 L526.68,521.5 L527.03,522.38 L527.38,522.55 L527.74,522.35 L528.11,523.15 L528.48,523.66 L528.86,523.53 L529.25,524.59 L529.64,524.63 L530.04,524.88 L530.44,525.69 L530.85,527.02 L531.27,526.04 L531.69,527.52 L532.12,528.12 L532.56,528.49 L533,529.01 L533.45,528.26 L533.91,529.64 L534.37,528.76 L534.83,530.47 L535.31,530.52 L535.79,530.44 L536.28,530.4 L536.77,531 L537.27,532.35 L537.78,531.41 L538.29,532.51 L538.81,531.85 L539.33,533.34 L539.87,532.86 L540.4,533.79 L540.95,533.39 L541.5,535 L542.06,535.19 L542.62,535.58 L543.19,534.83 L543.77,536.23 L544.35,535.45 L544.94,536.12 L545.53,536.04 L546.13,536.98 L546.74,537 L547.36,536.68 L547.98,537.34 L548.61,538.08 L549.24,538.35 L549.88,538.85 L550.53,539.49 L551.18,540.04 L551.84,539.1 L552.5,539.53 L553.17,539.85 L553.85,539.62 L554.54,540.12 L555.23,540.13 L555.92,540.82 L556.63,541.57 L557.34,541.16 L558.06,541.4 L558.78,541.7 L559.51,542.56 L560.24,543.39 L560.98,542.6 L561.73,543.41 L562.49,543.37 L563.25,544.02 L564.02,544.73 L564.79,544.95 L565.57,543.76 L566.36,544.07 L567.15,544.6 L567.95,545.91 L568.75,545.25 L569.56,546.16 L570.38,546.06 L571.21,545.42 L572.04,546.5 L572.88,546.93 L573.72,547.4 L574.57,546.18 L575.43,547.17 L576.29,547.57 L577.16,547.03 L578.03,547.68 L578.92,547.15 L579.8,548.22 L580.7,548.48 L581.6,547.61 L582.51,548.86 L583.42,548.98 L584.34,549.66 L585.27,548.67 L586.2,550 L587.14,549.29 L588.09,550.24 L589.04,550.14 L590,550.19 L590.96,549.49 L591.93,549.79 L592.91,549.66 L593.89,550.4 L594.88,550.03 L595.88,551.56 L596.88,550.77 L597.89,551.05 L598.91,551.27 L599.93,551.72 L600.96,551.37 L601.99,552.15 L603.03,552.08 L604.08,552.32 L605.14,551.64 L606.2,551.94 L607.26,552.91 L608.33,553.08 L609.41,552.79 L610.5,552 L611.59,553.27 L612.69,552.34 L613.8,552.63 L614.91,552.48 L616.02,553.02 L617.15,554.3 L618.28,553.02 L619.41,554.51 L620.56,553.61 L621.71,553.7 L622.86,554.07 L624.03,553.51 L625.19,553.79 L626.37,554.65 L627.55,554.18 L628.74,555.04 L629.93,554.77 L631.13,555.58 L632.34,554.28 L633.55,555.42 L634.77,555.56 L636,555.8 L637.23,554.78 L638.47,555.04 L639.71,556.13 L640.96,555.32 L642.22,556.12 L643.49,555.38 L644.76,556.19 L646.03,556.38 L647.32,555.88 L648.6,556.43 L649.9,555.73 L651.2,556.13 L652.51,556.91 L653.83,556.97 L655.15,556.41 L656.48,557.25 L657.81,556.54 L659.15,557.63 L660.5,557.64 L661.85,557.86 L663.21,557.2 L664.58,556.89 L665.95,557.04 L667.33,557.82 L668.71,558.59 L670.1,557.94 L671.5,557.49 L671.5,562.71 L670.1,562.12 L668.71,563.1 L667.33,561.84 L665.95,561.58 L664.58,562.37 L663.21,562.45 L661.85,561.69 L660.5,562.63 L659.15,562.31 L657.81,561.25 L656.48,561.21 L655.15,561.18 L653.83,562.03 L652.51,561.59 L651.2,560.84 L649.9,561.44 L648.6,561.33 L647.32,560.75 L646.03,560.35 L644.76,560.04 L643.49,560.07 L642.22,560.56 L640.96,559.7 L639.71,560.71 L638.47,560.47 L637.23,560.17 L636,560.41 L634.77,559.38 L633.55,559.53 L632.34,559.05 L631.13,559.59 L629.93,558.88 L628.74,559.02 L627.55,559.63 L626.37,559.36 L625.19,558.28 L624.03,558.15 L622.86,558.32 L621.71,558.46 L620.56,558.51 L619.41,557.79 L618.28,558.93 L617.15,557.35 L616.02,558.34 L614.91,557.44 L613.8,558.07 L612.69,556.84 L611.59,557.14 L610.5,557.43 L609.41,556.77 L608.33,557.72 L607.26,557.15 L606.2,556.47 L605.14,557.15 L604.08,557.34 L603.03,556.67 L601.99,556.86 L600.96,556.92 L599.93,555.5 L598.91,555.12 L597.89,555.23 L596.88,555.93 L595.88,555.58 L594.88,555.44 L593.89,555.03 L592.91,554.42 L591.93,554.47 L590.96,554.24 L590,554.96 L589.04,554.14 L588.09,553.77 L587.14,554.77 L586.2,553.4 L585.27,553.59 L584.34,553.98 L583.42,552.84 L582.51,553.51 L581.6,552.95 L580.7,553.29 L579.8,552.58 L578.92,552.82 L578.03,552.53 L577.16,551.84 L576.29,551.47 L575.43,551.15 L574.57,552.1 L573.72,550.77 L572.88,551.69 L572.04,550.98 L571.21,550.22 L570.38,550.44 L569.56,550.69 L568.75,550.03 L567.95,550.35 L567.15,549.2 L566.36,548.53 L565.57,549.74 L564.79,548.69 L564.02,548.23 L563.25,548.94 L562.49,548.74 L561.73,547.8 L560.98,547.09 L560.24,546.67 L559.51,547.25 L558.78,546.28 L558.06,547.34 L557.34,545.92 L556.63,546.41 L555.92,545.73 L555.23,545.71 L554.54,545.78 L553.85,544.78 L553.17,544.97 L552.5,544.27 L551.84,544.87 L551.18,543.78 L550.53,543.08 L549.88,542.81 L549.24,543.75 L548.61,543.38 L547.98,542.33 L547.36,542.78 L546.74,542.04 L546.13,542.15 L545.53,541.53 L544.94,540.24 L544.35,539.76 L543.77,539.52 L543.19,540.02 L542.62,539.03 L542.06,539 L541.5,539.27 L540.95,539.04 L540.4,538.46 L539.87,537.89 L539.33,537.61 L538.81,537.16 L538.29,536.89 L537.78,535.74 L537.27,536.15 L536.77,535.22 L536.28,535.73 L535.79,534.82 L535.31,534.07 L534.83,534.33 L534.37,533.65 L533.91,533.19 L533.45,532.75 L533,532.94 L532.56,531.89 L532.12,532.87 L531.69,531.83 L531.27,530.89 L530.85,531.01 L530.44,530.46 L530.04,529.4 L529.64,529.56 L529.25,528.7 L528.86,528.16 L528.48,528.66 L528.11,527.24 L527.74,526.62 L527.38,527.43 L527.03,525.67 L526.68,525.83 L526.34,525.13 L526.01,524.35 L525.68,523.8 L525.36,523.48 L525.04,523.55 L524.74,521.85 L524.43,521.63 L524.14,521.67 L523.85,520.9 L523.56,520.61 L523.29,519.73 L523.02,517.75 L522.75,517.82 L522.49,516.77 L522.24,515.53 L522,514.87 L521.76,514.71 L521.53,513.19 L521.3,512.39 L521.08,511.67 L520.87,511.63 L520.66,509.82 L520.46,508.51 L520.27,508 L520.08,506.58 L519.9,506.12 L519.72,505.04 L519.55,503.52 L519.39,503.57 L519.23,502.43 L519.08,501.11 L518.94,499.55 L518.8,498.37 L518.67,497.48 L518.55,497.55 L518.43,496.57 L518.32,495.65 L518.22,494.18 L518.12,494.04 L518.02,492.55 L517.94,492.59 L517.86,491.77 L517.79,490.7 L517.72,490.96 L517.66,489.23 L517.6,489.74 L517.56,488.17 L517.51,488.98 L517.48,488.55 L517.45,488.3 L517.43,487.62 L517.41,486.68 L517.4,487.18 L517.4,487.29Z" fill="#f3b0e8" fill-opacity="0.85"/>
<path d="M517.4,485.89 L517.4,486.23 L517.41,486.41 L517.43,485.42 L517.45,486.28 L517.48,486.83 L517.51,486.57 L517.56,487.55 L517.6,487.41 L517.66,488.75 L517.72,488.75 L517.79,489.03 L517.86,489.33 L517.94,491.07 L518.02,490.36 L518.12,491.83 L518.22,491.66 L518.32,493.52 L518.43,493.19 L518.55,493.99 L518.67,494.72 L518.8,496.68 L518.94,496.45 L519.08,497.38 L519.23,499.29 L519.39,499.07 L519.55,500.32 L519.72,500.67 L519.9,502.87 L520.08,502.55 L520.27,504.38 L520.46,504.52 L520.66,505.53 L520.87,506.17 L521.08,507.45 L521.3,507.42 L521.53,508.1 L521.76,509.27 L522,509.92 L522.24,511.86 L522.49,512.39 L522.75,512.03 L523.02,513.01 L523.29,513.82 L523.56,515.21 L523.85,514.5 L524.14,516.09 L524.43,517.26 L524.74,517.7 L525.04,517.35 L525.36,518.09 L525.68,518.65 L526.01,518.95 L526.34,519.76 L526.68,521.03 L527.03,520.5 L527.38,521.88 L527.74,522.23 L528.11,522.83 L528.48,523.02 L528.86,523.76 L529.25,523.71 L529.64,524.58 L530.04,525.03 L530.44,525.49 L530.85,525.98 L531.27,525.96 L531.69,525.34 L532.12,526.52 L532.56,526.56 L533,527.64 L533.45,527.09 L533.91,527.51 L534.37,527.99 L534.83,529.1 L535.31,528.29 L535.79,529.71 L536.28,529.6 L536.77,530.49 L537.27,530.04 L537.78,531.31 L538.29,531.65 L538.81,531.04 L539.33,531.79 L539.87,532.13 L540.4,532.35 L540.95,532.5 L541.5,533.22 L542.06,533.05 L542.62,534.32 L543.19,533.3 L543.77,533.46 L544.35,534.4 L544.94,534.7 L545.53,535.16 L546.13,535.88 L546.74,535.27 L547.36,536.5 L547.98,536.92 L548.61,536.49 L549.24,537.22 L549.88,536.69 L550.53,537.18 L551.18,537.23 L551.84,538.01 L552.5,537.72 L553.17,539.36 L553.85,539.3 L554.54,539.75 L555.23,539.78 L555.92,539.4 L556.63,539.41 L557.34,540.14 L558.06,541.03 L558.78,540.66 L559.51,540.98 L560.24,541.34 L560.98,541.25 L561.73,541.23 L562.49,541.72 L563.25,542.04 L564.02,541.53 L564.79,542.89 L565.57,542.35 L566.36,543.02 L567.15,543.38 L567.95,542.95 L568.75,544 L569.56,544.2 L570.38,543.7 L571.21,544.95 L572.04,545.19 L572.88,544.01 L573.72,545.35 L574.57,544.5 L575.43,545.49 L576.29,545.19 L577.16,545.23 L578.03,545.29 L578.92,546.2 L579.8,545.65 L580.7,545.71 L581.6,546.25 L582.51,546.21 L583.42,546.79 L584.34,547.04 L585.27,547.18 L586.2,547.54 L587.14,547.02 L588.09,548.03 L589.04,547.72 L590,547.91 L590.96,548.49 L591.93,547.78 L592.91,548.6 L593.89,549.19 L594.88,548.54 L595.88,549.59 L596.88,548.96 L597.89,549.29 L598.91,549.72 L599.93,548.91 L600.96,550.18 L601.99,549.9 L603.03,549.63 L604.08,550.09 L605.14,549.64 L606.2,550.91 L607.26,549.64 L608.33,550.49 L609.41,550.43 L610.5,550.53 L611.59,551.58 L612.69,550.98 L613.8,550.95 L614.91,551.71 L616.02,551.16 L617.15,551.27 L618.28,551.66 L619.41,551.45 L620.56,551.28 L621.71,551.17 L622.86,551.35 L624.03,551.6 L625.19,551.56 L626.37,552.75 L627.55,553.14 L628.74,552.68 L629.93,552.05 L631.13,552.7 L632.34,553.31 L633.55,552.84 L634.77,553.72 L636,553.38 L637.23,552.59 L638.47,552.83 L639.71,553.87 L640.96,553.01 L642.22,553.23 L643.49,554.11 L644.76,553.71 L646.03,553.93 L647.32,553.74 L648.6,555 L649.9,554.67 L651.2,553.92 L652.51,554.3 L653.83,553.93 L655.15,555.02 L656.48,554.73 L657.81,555.05 L659.15,555.63 L660.5,554.86 L661.85,555.93 L663.21,555.98 L664.58,554.84 L665.95,555.33 L667.33,554.82 L668.71,556.16 L670.1,555.01 L671.5,555.76 L671.5,559.77 L670.1,559.88 L668.71,559.33 L667.33,559.69 L665.95,559.42 L664.58,558.49 L663.21,559.01 L661.85,559.39 L660.5,558.56 L659.15,558.79 L657.81,558.45 L656.48,558.89 L655.15,557.58 L653.83,558.28 L652.51,558.51 L651.2,557.48 L649.9,557.42 L648.6,558.63 L647.32,557.31 L646.03,557.46 L644.76,558.3 L643.49,558.19 L642.22,557.51 L640.96,556.69 L639.71,557.34 L638.47,556.27 L637.23,556.22 L636,557.59 L634.77,557.13 L633.55,555.97 L632.34,557.09 L631.13,555.92 L629.93,556.98 L628.74,556.87 L627.55,556.8 L626.37,556.33 L625.19,555.49 L624.03,555.33 L622.86,556.14 L621.71,555.05 L620.56,555.73 L619.41,555.83 L618.28,554.84 L617.15,555.75 L616.02,554.79 L614.91,554.47 L613.8,554.91 L612.69,554.35 L611.59,554.72 L610.5,554.42 L609.41,554.88 L608.33,554.12 L607.26,553.72 L606.2,554.35 L605.14,553.13 L604.08,553.46 L603.03,554.2 L601.99,553.63 L600.96,553.68 L599.93,552.87 L598.91,553.66 L597.89,553.06 L596.88,552.34 L595.88,552.36 L594.88,552.58 L593.89,552.6 L592.91,551.29 L591.93,552.52 L590.96,551.61 L590,551.39 L589.04,551.24 L588.09,552.06 L587.14,550.47 L586.2,550.42 L585.27,550.34 L584.34,551.37 L583.42,551.25 L582.51,550.29 L581.6,550.15 L580.7,549.48 L579.8,549.34 L578.92,549.3 L578.03,549.28 L577.16,548.76 L576.29,549.48 L575.43,549.66 L574.57,548.61 L573.72,548.76 L572.88,547.59 L572.04,547.98 L571.21,547.16 L570.38,548.21 L569.56,547.79 L568.75,547.64 L567.95,547.17 L567.15,547.46 L566.36,546.07 L565.57,545.98 L564.79,546.54 L564.02,545.66 L563.25,545.03 L562.49,545.47 L561.73,544.86 L560.98,545.14 L560.24,545.22 L559.51,543.92 L558.78,544.93 L558.06,544.72 L557.34,544.37 L556.63,542.72 L555.92,543.9 L555.23,543.55 L554.54,542.78 L553.85,541.92 L553.17,542.26 L552.5,542.62 L551.84,541.88 L551.18,541.41 L550.53,541.42 L549.88,540.45 L549.24,541.17 L548.61,540.01 L547.98,540.69 L547.36,539.16 L546.74,539.71 L546.13,538.79 L545.53,539.23 L544.94,537.77 L544.35,538.46 L543.77,537.95 L543.19,538.16 L542.62,537.5 L542.06,536.65 L541.5,536.09 L540.95,536.85 L540.4,535.89 L539.87,536.12 L539.33,534.64 L538.81,535.54 L538.29,534.98 L537.78,534.23 L537.27,534.15 L536.77,534.33 L536.28,533.11 L535.79,532.44 L535.31,531.88 L534.83,531.79 L534.37,531.11 L533.91,530.87 L533.45,530.9 L533,531.38 L532.56,530.87 L532.12,529.97 L531.69,530.25 L531.27,529.52 L530.85,529.27 L530.44,527.91 L530.04,528.64 L529.64,527.42 L529.25,526.98 L528.86,526.23 L528.48,526.18 L528.11,525.53 L527.74,525.87 L527.38,525.78 L527.03,525.18 L526.68,524.42 L526.34,523.72 L526.01,523.64 L525.68,521.82 L525.36,521.66 L525.04,521.11 L524.74,521.25 L524.43,519.86 L524.14,520.16 L523.85,519.3 L523.56,518.35 L523.29,518.07 L523.02,516.36 L522.75,516.54 L522.49,515.14 L522.24,514.11 L522,513.86 L521.76,512.72 L521.53,512.83 L521.3,512.24 L521.08,510.08 L520.87,510.17 L520.66,508.63 L520.46,508.76 L520.27,507.72 L520.08,506.49 L519.9,504.52 L519.72,503.75 L519.55,502.94 L519.39,502.65 L519.23,500.73 L519.08,500.36 L518.94,498.67 L518.8,497.84 L518.67,497.17 L518.55,497.35 L518.43,495.57 L518.32,494.79 L518.22,494.47 L518.12,492.95 L518.02,492.46 L517.94,492.45 L517.86,490.38 L517.79,490.7 L517.72,489.26 L517.66,490.04 L517.6,488.77 L517.56,488.85 L517.51,487.99 L517.48,487.25 L517.45,487.03 L517.43,487.03 L517.41,486.43 L517.4,487.02 L517.4,486.72Z" fill="#eab070" fill-opacity="0.85"/>
<path d="M517.4,485.85 L517.4,485.62 L517.41,486.57 L517.43,486.15 L517.45,485.95 L517.48,487.02 L517.51,487.11 L517.56,487.75 L517.6,487.04 L517.66,487.36 L517.72,487.64 L517.79,488.66 L517.86,489.88 L517.94,490.45 L518.02,489.79 L518.12,491.09 L518.22,491.75 L518.32,492.98 L518.43,493.42 L518.55,493.32 L518.67,495 L518.8,495.5 L518.94,496.25 L519.08,495.99 L519.23,497.74 L519.39,498.39 L519.55,498.69 L519.72,500.36 L519.9,500.28 L520.08,501.63 L520.27,501.8 L520.46,502.43 L520.66,503.26 L520.87,504.5 L521.08,505.17 L521.3,506.43 L521.53,506.78 L521.76,507.35 L522,507.45 L522.24,507.81 L522.49,508.58 L522.75,510.55 L523.02,510.51 L523.29,511.56 L523.56,511.58 L523.85,511.93 L524.14,513.52 L524.43,513.08 L524.74,513.88 L525.04,515.36 L525.36,515.66 L525.68,516.37 L526.01,516.85 L526.34,517.44 L526.68,517.36 L527.03,518.18 L527.38,517.41 L527.74,518.97 L528.11,519.3 L528.48,519.26 L528.86,520.47 L529.25,519.58 L529.64,520.6 L530.04,520.36 L530.44,521.22 L530.85,521.26 L531.27,522.08 L531.69,522.49 L532.12,523.31 L532.56,523.78 L533,522.81 L533.45,524.46 L533.91,524.13 L534.37,523.62 L534.83,524.1 L535.31,525.23 L535.79,526.06 L536.28,525.44 L536.77,526.19 L537.27,526.87 L537.78,526.37 L538.29,526.58 L538.81,526.79 L539.33,526.81 L539.87,527.89 L540.4,528.11 L540.95,528.94 L541.5,528.98 L542.06,529.77 L542.62,529.61 L543.19,528.83 L543.77,530.59 L544.35,530.23 L544.94,530.27 L545.53,530.82 L546.13,530.18 L546.74,530.72 L547.36,530.87 L547.98,531.4 L548.61,532.06 L549.24,533.05 L549.88,532.88 L550.53,533.36 L551.18,532.46 L551.84,532.97 L552.5,533.38 L553.17,534.57 L553.85,534.88 L554.54,534.58 L555.23,534.94 L555.92,534.6 L556.63,534.67 L557.34,534.75 L558.06,535.67 L558.78,535.22 L559.51,536.11 L560.24,536.07 L560.98,535.66 L561.73,536.53 L562.49,537.29 L563.25,537.61 L564.02,536.65 L564.79,537.33 L565.57,538.14 L566.36,538.2 L567.15,538.05 L567.95,539.01 L568.75,538.01 L569.56,538.05 L570.38,538.25 L571.21,538.98 L572.04,539.31 L572.88,539.06 L573.72,539.34 L574.57,540.49 L575.43,539.9 L576.29,539.46 L577.16,540.92 L578.03,539.98 L578.92,539.99 L579.8,540.6 L580.7,541.42 L581.6,541.21 L582.51,541.62 L583.42,541.77 L584.34,542.31 L585.27,541.38 L586.2,541.49 L587.14,542.42 L588.09,542 L589.04,542.69 L590,542.4 L590.96,542.59 L591.93,542.15 L592.91,543.76 L593.89,542.47 L594.88,543.23 L595.88,543.65 L596.88,544 L597.89,544.33 L598.91,543.73 L599.93,543.87 L600.96,544.32 L601.99,544.27 L603.03,543.54 L604.08,544.87 L605.14,544.22 L606.2,544.76 L607.26,544.5 L608.33,544.64 L609.41,544.61 L610.5,544.98 L611.59,544.54 L612.69,545.89 L613.8,544.86 L614.91,545.87 L616.02,545.44 L617.15,544.94 L618.28,545.61 L619.41,546.74 L620.56,546.71 L621.71,546.74 L622.86,547.01 L624.03,547.08 L625.19,545.98 L626.37,546.53 L627.55,546.46 L628.74,546.9 L629.93,546.5 L631.13,546.96 L632.34,547.31 L633.55,547.2 L634.77,547.68 L636,547.79 L637.23,547.03 L638.47,547.55 L639.71,547.29 L640.96,548.05 L642.22,547.78 L643.49,547.44 L644.76,547.77 L646.03,547.86 L647.32,548.55 L648.6,547.84 L649.9,548.61 L651.2,548.67 L652.51,548.18 L653.83,548.41 L655.15,549.46 L656.48,549.09 L657.81,549.39 L659.15,548.73 L660.5,549.56 L661.85,549.15 L663.21,548.9 L664.58,549.69 L665.95,550 L667.33,549.44 L668.71,549.32 L670.1,549.21 L671.5,549.45 L671.5,554.88 L670.1,553.56 L668.71,554.78 L667.33,553.81 L665.95,554.43 L664.58,554.39 L663.21,553.64 L661.85,553.36 L660.5,553.86 L659.15,552.77 L657.81,552.87 L656.48,553.96 L655.15,553.16 L653.83,552.29 L652.51,552.24 L651.2,553.16 L649.9,553.04 L648.6,553.12 L647.32,552.11 L646.03,552.89 L644.76,552.08 L643.49,552.23 L642.22,552.58 L640.96,552.63 L639.71,551.87 L638.47,551.73 L637.23,552.52 L636,551.77 L634.77,551.97 L633.55,551.19 L632.34,550.95 L631.13,551.23 L629.93,551.26 L628.74,550.72 L627.55,551.08 L626.37,550.7 L625.19,550.89 L624.03,550.87 L622.86,550.89 L621.71,550.7 L620.56,550.91 L619.41,550.06 L618.28,550.84 L617.15,549.41 L616.02,550.31 L614.91,549.31 L613.8,550.41 L612.69,549.92 L611.59,549.96 L610.5,548.69 L609.41,550.13 L608.33,549.59 L607.26,549.45 L606.2,549.38 L605.14,548.19 L604.08,548.17 L603.03,549.01 L601.99,549.3 L600.96,548.74 L599.93,547.7 L598.91,547.59 L597.89,548.54 L596.88,547.58 L595.88,547.77 L594.88,547.16 L593.89,547.52 L592.91,548.05 L591.93,547.31 L590.96,546.55 L590,547.26 L589.04,546.37 L588.09,546.29 L587.14,547.31 L586.2,545.71 L585.27,546.06 L584.34,545.27 L583.42,545.26 L582.51,545.65 L581.6,545.06 L580.7,545.78 L579.8,544.63 L578.92,545.11 L578.03,545.13 L577.16,545 L576.29,543.98 L575.43,543.88 L574.57,544.57 L573.72,543.77 L572.88,543.32 L572.04,544.39 L571.21,543.2 L570.38,543.55 L569.56,542.85 L568.75,542.24 L567.95,542.89 L567.15,542.53 L566.36,542.86 L565.57,541.68 L564.79,541.65 L564.02,541.67 L563.25,541.08 L562.49,540.86 L561.73,540.64 L560.98,540.13 L560.24,540.68 L559.51,540.49 L558.78,540.17 L558.06,540.41 L557.34,539.14 L556.63,538.89 L555.92,539.86 L555.23,539.06 L554.54,538.2 L553.85,538.69 L553.17,539.04 L552.5,538.25 L551.84,537.18 L551.18,537.88 L550.53,538 L549.88,536.28 L549.24,536.55 L548.61,536.16 L547.98,536.78 L547.36,536.59 L546.74,536.16 L546.13,534.88 L545.53,535.6 L544.94,535.45 L544.35,533.74 L543.77,533.94 L543.19,533.84 L542.62,532.87 L542.06,533.67 L541.5,533.77 L540.95,533.07 L540.4,531.89 L539.87,531.73 L539.33,531.12 L538.81,532.36 L538.29,532.05 L537.78,531.16 L537.27,530.96 L536.77,530.44 L536.28,530.78 L535.79,530.04 L535.31,529.53 L534.83,528.76 L534.37,528.31 L533.91,528.15 L533.45,527.93 L533,527.91 L532.56,528.21 L532.12,526.88 L531.69,526.21 L531.27,526.81 L530.85,525.82 L530.44,525.65 L530.04,524.71 L529.64,524.76 L529.25,524.82 L528.86,524.8 L528.48,524.24 L528.11,522.88 L527.74,523.18 L527.38,523.11 L527.03,521.92 L526.68,521.6 L526.34,521.52 L526.01,520.78 L525.68,519.66 L525.36,519.2 L525.04,519.03 L524.74,518 L524.43,517.99 L524.14,516.81 L523.85,516.25 L523.56,516.92 L523.29,515.97 L523.02,514.92 L522.75,513.57 L522.49,514.21 L522.24,512.92 L522,512.76 L521.76,511.34 L521.53,510.21 L521.3,510.11 L521.08,508.56 L520.87,507.93 L520.66,507.1 L520.46,507.54 L520.27,506.5 L520.08,505.42 L519.9,504.21 L519.72,503.98 L519.55,502.94 L519.39,501 L519.23,500 L519.08,499.55 L518.94,498.91 L518.8,497.41 L518.67,496.84 L518.55,495.48 L518.43,494.64 L518.32,493.82 L518.22,493.59 L518.12,493.62 L518.02,492.68 L517.94,492 L517.86,490.29 L517.79,490 L517.72,490.38 L517.66,489.48 L517.6,489.26 L517.56,488.73 L517.51,488.59 L517.48,488.23 L517.45,487.14 L517.43,487.02 L517.41,487.86 L517.4,487.82 L517.4,487.43Z" fill="#b8d848" fill-opacity="0.85"/>
<path d="M517.4,486.3 L517.4,486.33 L517.41,485.72 L517.43,486.4 L517.45,485.53 L517.48,486.26 L517.51,486.78 L517.56,486.18 L517.6,487.11 L517.66,487.5 L517.72,487.88 L517.79,488.83 L517.86,488.38 L517.94,489.87 L518.02,489.79 L518.12,491.54 L518.22,491.66 L518.32,491.89 L518.43,492.58 L518.55,493.71 L518.67,493.66 L518.8,494.68 L518.94,495.5 L519.08,495.84 L519.23,496.78 L519.39,497.53 L519.55,498.49 L519.72,499.9 L519.9,499.79 L520.08,500.85 L520.27,500.89 L520.46,501.87 L520.66,503.46 L520.87,503.87 L521.08,505.04 L521.3,504.93 L521.53,505.96 L521.76,506.13 L522,507.03 L522.24,507.54 L522.49,508.65 L522.75,509.54 L523.02,510.49 L523.29,511.57 L523.56,511.42 L523.85,511.79 L524.14,512.11 L524.43,512.91 L524.74,513.87 L525.04,513.87 L525.36,515.46 L525.68,514.61 L526.01,515.77 L526.34,515.91 L526.68,516.39 L527.03,517.83 L527.38,517.38 L527.74,518.22 L528.11,518.29 L528.48,518.36 L528.86,519.12 L529.25,519.37 L529.64,519.2 L530.04,521.07 L530.44,520.98 L530.85,521.02 L531.27,520.89 L531.69,522.07 L532.12,522.34 L532.56,522.63 L533,522.8 L533.45,523.2 L533.91,523.42 L534.37,523.18 L534.83,524.37 L535.31,524.59 L535.79,524.83 L536.28,524.94 L536.77,525.44 L537.27,525.43 L537.78,526.7 L538.29,526.49 L538.81,526.73 L539.33,527.54 L539.87,527.5 L540.4,527.99 L540.95,528.25 L541.5,527.24 L542.06,528.2 L542.62,528.88 L543.19,529.44 L543.77,529.78 L544.35,528.66 L544.94,529 L545.53,530.17 L546.13,529.7 L546.74,530.16 L547.36,531.43 L547.98,531.83 L548.61,531.78 L549.24,532.25 L549.88,532.2 L550.53,531.43 L551.18,532.42 L551.84,533.17 L552.5,533.16 L553.17,533.55 L553.85,532.85 L554.54,533.22 L555.23,534.34 L555.92,534.36 L556.63,533.84 L557.34,535.24 L558.06,534.76 L558.78,534.22 L559.51,535.59 L560.24,535.19 L560.98,535.4 L561.73,536.11 L562.49,536.11 L563.25,536.95 L564.02,536.5 L564.79,536.22 L565.57,536.67 L566.36,536.46 L567.15,537.52 L567.95,537.31 L568.75,537.24 L569.56,537.09 L570.38,537.68 L571.21,538.35 L572.04,538.65 L572.88,539.07 L573.72,539.39 L574.57,539.27 L575.43,539.06 L576.29,540.06 L577.16,538.87 L578.03,539.69 L578.92,539.39 L579.8,539.82 L580.7,539.66 L581.6,539.83 L582.51,540.54 L583.42,540.64 L584.34,540.02 L585.27,540.46 L586.2,541.52 L587.14,541.3 L588.09,541.83 L589.04,541.89 L590,541.78 L590.96,541.6 L591.93,541.25 L592.91,542.39 L593.89,542.29 L594.88,541.71 L595.88,543.07 L596.88,542.2 L597.89,542.34 L598.91,542.84 L599.93,542.66 L600.96,542.9 L601.99,543.59 L603.03,542.91 L604.08,543.2 L605.14,543.9 L606.2,544.5 L607.26,543.08 L608.33,543.79 L609.41,543.87 L610.5,543.47 L611.59,544.28 L612.69,544.27 L613.8,545.01 L614.91,544.07 L616.02,545.32 L617.15,545.06 L618.28,544.84 L619.41,544.6 L620.56,545.69 L621.71,545 L622.86,546.08 L624.03,545.62 L625.19,546.06 L626.37,545.02 L627.55,546.05 L628.74,545.33 L629.93,546.15 L631.13,545.23 L632.34,545.81 L633.55,545.93 L634.77,546.56 L636,546.84 L637.23,546.54 L638.47,545.95 L639.71,545.96 L640.96,545.99 L642.22,546.63 L643.49,546.76 L644.76,546.89 L646.03,547.15 L647.32,547.95 L648.6,547.19 L649.9,548.13 L651.2,547.71 L652.51,547.39 L653.83,547.3 L655.15,547.01 L656.48,548.43 L657.81,547.82 L659.15,547.65 L660.5,548.13 L661.85,548.89 L663.21,547.85 L664.58,548.23 L665.95,548.36 L667.33,548.22 L668.71,548.96 L670.1,549.39 L671.5,548.48 L671.5,553.55 L670.1,552.49 L668.71,552.33 L667.33,553.07 L665.95,553.51 L664.58,552.01 L663.21,552.77 L661.85,553.22 L660.5,552.38 L659.15,551.85 L657.81,552.74 L656.48,551.75 L655.15,552.06 L653.83,551.43 L652.51,552.37 L651.2,552.4 L649.9,551.5 L648.6,551.26 L647.32,551.42 L646.03,551.19 L644.76,550.82 L643.49,551.33 L642.22,550.73 L640.96,551.51 L639.71,551.75 L638.47,551.33 L637.23,551.36 L636,550.47 L634.77,550.34 L633.55,549.99 L632.34,550.65 L631.13,550.31 L629.93,550.56 L628.74,550.43 L627.55,550.47 L626.37,549.69 L625.19,549.86 L624.03,550.02 L622.86,548.93 L621.71,550.22 L620.56,548.84 L619.41,549.5 L618.28,549.42 L617.15,549.3 L616.02,548.95 L614.91,548.84 L613.8,548.84 L612.69,549.2 L611.59,548.57 L610.5,549.27 L609.41,548.14 L608.33,549.02 L607.26,548.63 L606.2,547.64 L605.14,548.43 L604.08,547.24 L603.03,546.96 L601.99,547.01 L600.96,547.97 L599.93,547.32 L598.91,546.86 L597.89,546.47 L596.88,546.34 L595.88,546.16 L594.88,547.29 L593.89,546.99 L592.91,545.92 L591.93,546.57 L590.96,546.17 L590,546.3 L589.04,545.49 L588.09,545.47 L587.14,545.18 L586.2,545.6 L585.27,544.6 L584.34,545.88 L583.42,545.58 L582.51,544.78 L581.6,544.68 L580.7,544.69 L579.8,543.84 L578.92,544.83 L578.03,543.51 L577.16,543.77 L576.29,543.24 L575.43,543.84 L574.57,543.89 L573.72,543.67 L572.88,542.7 L572.04,542.25 L571.21,542.83 L570.38,543.01 L569.56,542.77 L568.75,542 L567.95,542.03 L567.15,541.68 L566.36,541.15 L565.57,541.8 L564.79,541.46 L564.02,541.35 L563.25,540.64 L562.49,539.92 L561.73,540.11 L560.98,540.41 L560.24,539.36 L559.51,540.2 L558.78,539.78 L558.06,539.15 L557.34,538.71 L556.63,538.23 L555.92,538.29 L555.23,537.81 L554.54,538.37 L553.85,538.46 L553.17,537.42 L552.5,537.18 L551.84,536.42 L551.18,536.92 L550.53,537.17 L549.88,535.79 L549.24,536.47 L548.61,535.36 L547.98,535.35 L547.36,535.77 L546.74,535.59 L546.13,534.31 L545.53,533.77 L544.94,533.41 L544.35,533.56 L543.77,533.29 L543.19,532.79 L542.62,533.03 L542.06,533.23 L541.5,533.04 L540.95,532.16 L540.4,531.32 L539.87,531.17 L539.33,532 L538.81,530.2 L538.29,530.02 L537.78,530.86 L537.27,529.96 L536.77,530.14 L536.28,529.96 L535.79,528.67 L535.31,529.25 L534.83,528.56 L534.37,527.86 L533.91,528.03 L533.45,526.93 L533,526.89 L532.56,526.32 L532.12,525.93 L531.69,525.78 L531.27,526.05 L530.85,524.98 L530.44,525.09 L530.04,525.02 L529.64,523.91 L529.25,524.35 L528.86,524.12 L528.48,523.65 L528.11,522.63 L527.74,522.63 L527.38,521.4 L527.03,521.28 L526.68,520.92 L526.34,521.14 L526.01,519.84 L525.68,519.88 L525.36,518.92 L525.04,517.95 L524.74,518.18 L524.43,517.27 L524.14,517.58 L523.85,516.98 L523.56,515.8 L523.29,514.67 L523.02,514.59 L522.75,513.59 L522.49,513.16 L522.24,511.93 L522,511.1 L521.76,511.12 L521.53,511.25 L521.3,510.12 L521.08,508.33 L520.87,508.02 L520.66,507.96 L520.46,506.74 L520.27,505.46 L520.08,505.53 L519.9,504.3 L519.72,503.45 L519.55,501.31 L519.39,501.29 L519.23,500.83 L519.08,500.16 L518.94,499.15 L518.8,497.51 L518.67,496.33 L518.55,495.98 L518.43,495.39 L518.32,493.63 L518.22,493.73 L518.12,492.46 L518.02,492.76 L517.94,491.2 L517.86,491.18 L517.79,489.82 L517.72,490.06 L517.66,489.69 L517.6,488.04 L517.56,488.24 L517.51,487.67 L517.48,487.59 L517.45,488.15 L517.43,487.11 L517.41,486.68 L517.4,487.71 L517.4,486.79Z" fill="#e8e050" fill-opacity="0.85"/>
<path d="M517.4,485.09 L517.4,485.29 L517.41,485.18 L517.43,485.64 L517.45,485.6 L517.48,486.5 L517.51,487.24 L517.56,486.64 L517.6,487.93 L517.66,488.17 L517.72,488.93 L517.79,488.84 L517.86,488.55 L517.94,490.04 L518.02,490.65 L518.12,490.89 L518.22,491.42 L518.32,492.3 L518.43,492.47 L518.55,492.85 L518.67,494.2 L518.8,494.3 L518.94,495.64 L519.08,496.16 L519.23,497.72 L519.39,498.6 L519.55,499.34 L519.72,498.9 L519.9,500.19 L520.08,501.52 L520.27,501.93 L520.46,501.46 L520.66,502.31 L520.87,503.77 L521.08,504.27 L521.3,504.42 L521.53,505.15 L521.76,506.72 L522,506.44 L522.24,508.58 L522.49,508.38 L522.75,509.45 L523.02,510 L523.29,510.48 L523.56,510.46 L523.85,512.28 L524.14,512.89 L524.43,513.18 L524.74,513.56 L525.04,514.38 L525.36,514.79 L525.68,515.13 L526.01,514.84 L526.34,516.08 L526.68,516.6 L527.03,515.95 L527.38,517.01 L527.74,517.06 L528.11,517.17 L528.48,517.67 L528.86,518.23 L529.25,518.56 L529.64,519.08 L530.04,519.51 L530.44,519.19 L530.85,520.12 L531.27,521.4 L531.69,520.61 L532.12,520.69 L532.56,521.8 L533,521.58 L533.45,523.06 L533.91,523.41 L534.37,522.34 L534.83,522.49 L535.31,524.05 L535.79,523.94 L536.28,523.61 L536.77,524.09 L537.27,524.27 L537.78,525.17 L538.29,525.55 L538.81,526.31 L539.33,526.03 L539.87,526.89 L540.4,525.86 L540.95,527.11 L541.5,527.29 L542.06,528.03 L542.62,527.52 L543.19,528.3 L543.77,527.53 L544.35,528.92 L544.94,528.98 L545.53,528.36 L546.13,529.21 L546.74,530.2 L547.36,529.65 L547.98,530.21 L548.61,531.01 L549.24,529.83 L549.88,529.98 L550.53,530.86 L551.18,531.11 L551.84,531.94 L552.5,531.32 L553.17,531.96 L553.85,532.44 L554.54,532.16 L555.23,533.47 L555.92,532.65 L556.63,532.49 L557.34,533.24 L558.06,533.9 L558.78,534.34 L559.51,534.15 L560.24,534.05 L560.98,534.64 L561.73,534.73 L562.49,534.85 L563.25,534.44 L564.02,535.76 L564.79,534.86 L565.57,536.27 L566.36,536.28 L567.15,536.67 L567.95,535.89 L568.75,536.96 L569.56,536.22 L570.38,536.62 L571.21,537.41 L572.04,536.9 L572.88,538.03 L573.72,538.18 L574.57,538.48 L575.43,537.8 L576.29,538.39 L577.16,538.39 L578.03,538.57 L578.92,538.85 L579.8,537.9 L580.7,539.43 L581.6,539.45 L582.51,539.38 L583.42,538.87 L584.34,539 L585.27,539.63 L586.2,539.45 L587.14,540.6 L588.09,540.73 L589.04,540.18 L590,540.04 L590.96,539.9 L591.93,540.99 L592.91,539.92 L593.89,540.81 L594.88,540.41 L595.88,540.91 L596.88,541.88 L597.89,541.05 L598.91,540.86 L599.93,541.89 L600.96,541.08 L601.99,541.81 L603.03,542.43 L604.08,541.58 L605.14,542.64 L606.2,541.46 L607.26,542.89 L608.33,542.91 L609.41,542.8 L610.5,543.47 L611.59,543.34 L612.69,542.61 L613.8,543.31 L614.91,543.23 L616.02,542.83 L617.15,542.74 L618.28,544.05 L619.41,543.84 L620.56,543.02 L621.71,544.15 L622.86,543.18 L624.03,544.35 L625.19,544.52 L626.37,543.48 L627.55,544.81 L628.74,543.62 L629.93,543.74 L631.13,543.82 L632.34,544.84 L633.55,544.52 L634.77,544.01 L636,544.44 L637.23,545.29 L638.47,545.08 L639.71,544.53 L640.96,544.88 L642.22,545.68 L643.49,545.11 L644.76,546.06 L646.03,545.53 L647.32,546.33 L648.6,545.66 L649.9,546.41 L651.2,545.53 L652.51,546 L653.83,545.54 L655.15,546.96 L656.48,546.07 L657.81,546.97 L659.15,545.83 L660.5,546.9 L661.85,546.86 L663.21,546.71 L664.58,546.69 L665.95,547.52 L667.33,547.63 L668.71,547.77 L670.1,547.79 L671.5,547.8 L671.5,550.66 L670.1,550.94 L668.71,550.05 L667.33,550.51 L665.95,551.11 L664.58,550.32 L663.21,549.95 L661.85,549.9 L660.5,550.79 L659.15,550.25 L657.81,549.75 L656.48,550.4 L655.15,549.74 L653.83,549.58 L652.51,550.03 L651.2,548.88 L649.9,549.04 L648.6,549.45 L647.32,549.96 L646.03,548.97 L644.76,549.3 L643.49,548.64 L642.22,548.44 L640.96,548.46 L639.71,548.54 L638.47,548.95 L637.23,549 L636,548.91 L634.77,548.11 L633.55,548.19 L632.34,548.78 L631.13,547.68 L629.93,548.26 L628.74,548.3 L627.55,547.26 L626.37,547.47 L625.19,547.07 L624.03,547.46 L622.86,547.07 L621.71,547.01 L620.56,547.67 L619.41,547.4 L618.28,546.61 L617.15,547.5 L616.02,546.89 L614.91,546.36 L613.8,547.17 L612.69,546.8 L611.59,547.08 L610.5,546.02 L609.41,546.72 L608.33,546.52 L607.26,545.33 L606.2,546.45 L605.14,545.31 L604.08,546.34 L603.03,546.03 L601.99,544.83 L600.96,545.77 L599.93,545.29 L598.91,544.73 L597.89,544.37 L596.88,544.1 L595.88,544.75 L594.88,545.09 L593.89,545.12 L592.91,543.92 L591.93,544.85 L590.96,544.12 L590,544.37 L589.04,543.57 L588.09,543.21 L587.14,543.92 L586.2,543.47 L585.27,543.35 L584.34,543.37 L583.42,542.7 L582.51,543.22 L581.6,541.84 L580.7,541.73 L579.8,541.99 L578.92,542.83 L578.03,542.01 L577.16,541.76 L576.29,542.38 L575.43,541.54 L574.57,540.54 L573.72,541.23 L572.88,541.05 L572.04,540.84 L571.21,540.78 L570.38,540.08 L569.56,540.35 L568.75,540.67 L567.95,540.52 L567.15,539.93 L566.36,538.74 L565.57,540.05 L564.79,539.23 L564.02,539.03 L563.25,539.04 L562.49,538.31 L561.73,538.06 L560.98,537.35 L560.24,537.45 L559.51,536.84 L558.78,537.54 L558.06,537.93 L557.34,537.5 L556.63,536.02 L555.92,535.73 L555.23,535.8 L554.54,536.22 L553.85,535.82 L553.17,535.41 L552.5,535.02 L551.84,535.23 L551.18,535.41 L550.53,535.33 L549.88,534.32 L549.24,534.03 L548.61,533.33 L547.98,533.07 L547.36,533.81 L546.74,533.88 L546.13,532.55 L545.53,531.97 L544.94,532.92 L544.35,531.62 L543.77,531.94 L543.19,531.19 L542.62,531.15 L542.06,531.38 L541.5,530.91 L540.95,531.07 L540.4,529.83 L539.87,529.6 L539.33,529.25 L538.81,529.74 L538.29,529.11 L537.78,529.1 L537.27,528.69 L536.77,527.9 L536.28,527.83 L535.79,527.96 L535.31,527.47 L534.83,527.19 L534.37,527.1 L533.91,526.85 L533.45,525.71 L533,525.25 L532.56,525.27 L532.12,525.27 L531.69,523.84 L531.27,523.83 L530.85,523.12 L530.44,524.15 L530.04,523.02 L529.64,522.07 L529.25,522.11 L528.86,522.66 L528.48,522.27 L528.11,521.67 L527.74,520.28 L527.38,520.04 L527.03,519.53 L526.68,519.92 L526.34,519.75 L526.01,518.53 L525.68,518.23 L525.36,517.41 L525.04,517.82 L524.74,517.11 L524.43,515.83 L524.14,515.64 L523.85,515.58 L523.56,515.28 L523.29,514 L523.02,513.21 L522.75,513.13 L522.49,511.9 L522.24,511.27 L522,510.28 L521.76,510.38 L521.53,509.34 L521.3,508.92 L521.08,508.27 L520.87,506.7 L520.66,506.05 L520.46,506.18 L520.27,504.84 L520.08,504.13 L519.9,502.56 L519.72,502.68 L519.55,502.02 L519.39,501.08 L519.23,499.24 L519.08,498.62 L518.94,498.27 L518.8,497.11 L518.67,495.85 L518.55,495.97 L518.43,494.94 L518.32,493.64 L518.22,492.88 L518.12,492.03 L518.02,491.51 L517.94,491.37 L517.86,489.93 L517.79,490.65 L517.72,489.4 L517.66,488.42 L517.6,487.9 L517.56,487.83 L517.51,487.77 L517.48,487.03 L517.45,486.88 L517.43,486.51 L517.41,486.49 L517.4,486.92 L517.4,486.74Z" fill="#a9b9c9" fill-opacity="0.85"/>
<path d="M517.4,486.53 L517.4,486.32 L517.41,485.63 L517.43,485.49 L517.45,486.06 L517.48,485.82 L517.51,486.93 L517.56,487.61 L517.6,486.98 L517.66,487.67 L517.72,488.66 L517.79,488.17 L517.86,488.17 L517.94,489.5 L518.02,490.67 L518.12,490.22 L518.22,490.52 L518.32,491.79 L518.43,492.15 L518.55,492.61 L518.67,493.47 L518.8,494.32 L518.94,494.17 L519.08,495.32 L519.23,496.87 L519.39,497.37 L519.55,497.66 L519.72,497.55 L519.9,499.22 L520.08,499.42 L520.27,500.78 L520.46,500.22 L520.66,501.81 L520.87,501.55 L521.08,502.24 L521.3,503.88 L521.53,504.28 L521.76,504.53 L522,506.2 L522.24,506.67 L522.49,507.45 L522.75,507.81 L523.02,508.26 L523.29,509.5 L523.56,509.35 L523.85,509.21 L524.14,509.95 L524.43,510.12 L524.74,511.99 L525.04,512.24 L525.36,511.94 L525.68,512.5 L526.01,513.04 L526.34,513.83 L526.68,514.91 L527.03,515.33 L527.38,515.56 L527.74,515.42 L528.11,516.17 L528.48,515.64 L528.86,516.56 L529.25,516.82 L529.64,517.62 L530.04,517.49 L530.44,517.49 L530.85,518.63 L531.27,518.44 L531.69,519.13 L532.12,519.23 L532.56,519.85 L533,519.49 L533.45,519.46 L533.91,520.77 L534.37,520.18 L534.83,520.39 L535.31,520.73 L535.79,521.18 L536.28,521.5 L536.77,522.86 L537.27,522.84 L537.78,522.81 L538.29,523.71 L538.81,522.49 L539.33,523.26 L539.87,523.7 L540.4,523.32 L540.95,524.05 L541.5,525.26 L542.06,524.42 L542.62,524.93 L543.19,524.89 L543.77,525.79 L544.35,525.61 L544.94,526.62 L545.53,526.18 L546.13,527.15 L546.74,526.89 L547.36,526.59 L547.98,527.59 L548.61,528.35 L549.24,527.16 L549.88,527.72 L550.53,528.91 L551.18,528.61 L551.84,528.35 L552.5,528.96 L553.17,528.8 L553.85,528.8 L554.54,529.14 L555.23,530.02 L555.92,530.66 L556.63,530.61 L557.34,530.03 L558.06,531.26 L558.78,531.74 L559.51,531.09 L560.24,531.21 L560.98,532.29 L561.73,531.93 L562.49,531.45 L563.25,532.69 L564.02,532.61 L564.79,533.37 L565.57,533.28 L566.36,532.72 L567.15,533.05 L567.95,532.65 L568.75,533.37 L569.56,533.69 L570.38,533.59 L571.21,533.32 L572.04,533.58 L572.88,534.7 L573.72,535.34 L574.57,535.48 L575.43,535.24 L576.29,535.24 L577.16,535.9 L578.03,535.53 L578.92,535.17 L579.8,536.36 L580.7,535.1 L581.6,536.77 L582.51,535.66 L583.42,536.9 L584.34,536.54 L585.27,536.41 L586.2,535.89 L587.14,536.11 L588.09,536.32 L589.04,537.63 L590,536.49 L590.96,537.34 L591.93,536.91 L592.91,538.08 L593.89,538.32 L594.88,537.47 L595.88,537.9 L596.88,538.2 L597.89,538.22 L598.91,539.1 L599.93,537.66 L600.96,538.25 L601.99,538.53 L603.03,539.44 L604.08,539.49 L605.14,539.36 L606.2,538.78 L607.26,538.73 L608.33,539.46 L609.41,538.88 L610.5,540.03 L611.59,540.38 L612.69,539.25 L613.8,540.17 L614.91,540.15 L616.02,540.04 L617.15,540.78 L618.28,540.46 L619.41,540.29 L620.56,540.51 L621.71,540.37 L622.86,540.47 L624.03,540.45 L625.19,540.65 L626.37,541.61 L627.55,540.18 L628.74,540.87 L629.93,541.27 L631.13,540.8 L632.34,541.9 L633.55,541.05 L634.77,541.2 L636,542.19 L637.23,541.24 L638.47,542.05 L639.71,541.77 L640.96,541.48 L642.22,542.57 L643.49,541.46 L644.76,542.94 L646.03,542.18 L647.32,541.62 L648.6,541.72 L649.9,542.76 L651.2,543.2 L652.51,542.84 L653.83,542.88 L655.15,542.42 L656.48,543.27 L657.81,542.55 L659.15,543.18 L660.5,543.05 L661.85,542.72 L663.21,543.04 L664.58,544.12 L665.95,543.65 L667.33,543.41 L668.71,543.86 L670.1,542.97 L671.5,543.9 L671.5,547.68 L670.1,547.52 L668.71,547.79 L667.33,548.15 L665.95,547.25 L664.58,547.52 L663.21,548.42 L661.85,547.98 L660.5,548.05 L659.15,547.19 L657.81,547.13 L656.48,546.7 L655.15,547.91 L653.83,547.01 L652.51,546.42 L651.2,547.67 L649.9,546.85 L648.6,547.3 L647.32,547.1 L646.03,546.08 L644.76,546.9 L643.49,546.63 L642.22,546.96 L640.96,546.78 L639.71,546.04 L638.47,546.61 L637.23,545.66 L636,546.5 L634.77,545.17 L633.55,545.74 L632.34,546.41 L631.13,544.84 L629.93,545.31 L628.74,545.36 L627.55,545.7 L626.37,544.6 L625.19,544.96 L624.03,544.9 L622.86,545.08 L621.71,544.76 L620.56,544.2 L619.41,545.11 L618.28,544.75 L617.15,544.75 L616.02,544.51 L614.91,544.76 L613.8,544.61 L612.69,543.49 L611.59,543.41 L610.5,544.4 L609.41,543.56 L608.33,544.15 L607.26,543.69 L606.2,543.86 L605.14,543.8 L604.08,543.6 L603.03,543.15 L601.99,542.32 L600.96,542.35 L599.93,542.56 L598.91,542.26 L597.89,542.62 L596.88,543.11 L595.88,542.6 L594.88,541.83 L593.89,542 L592.91,541.41 L591.93,541.89 L590.96,541.73 L590,541.93 L589.04,541.86 L588.09,542.08 L587.14,542.02 L586.2,540.96 L585.27,541.66 L584.34,540.22 L583.42,540.93 L582.51,539.96 L581.6,540.76 L580.7,539.65 L579.8,539.72 L578.92,539.18 L578.03,540.28 L577.16,539.53 L576.29,538.69 L575.43,539.67 L574.57,538.48 L573.72,539.7 L572.88,538.7 L572.04,539.22 L571.21,538.46 L570.38,538.38 L569.56,538.63 L568.75,538.44 L567.95,538.47 L567.15,538 L566.36,537.71 L565.57,537.58 L564.79,536.4 L564.02,536.21 L563.25,537.05 L562.49,537.02 L561.73,536.97 L560.98,535.58 L560.24,536.6 L559.51,536.38 L558.78,535.19 L558.06,535.19 L557.34,534.57 L556.63,535.39 L555.92,533.95 L555.23,533.85 L554.54,533.59 L553.85,533.57 L553.17,534.04 L552.5,534.25 L551.84,533.45 L551.18,533.28 L550.53,532.54 L549.88,532.6 L549.24,532.63 L548.61,532.68 L547.98,531.18 L547.36,532.19 L546.74,531.06 L546.13,531.18 L545.53,531.5 L544.94,530.94 L544.35,530.36 L543.77,529.98 L543.19,529.41 L542.62,528.94 L542.06,528.67 L541.5,528.66 L540.95,527.98 L540.4,529.02 L539.87,528.85 L539.33,527.46 L538.81,527.4 L538.29,528.12 L537.78,526.72 L537.27,527.15 L536.77,526.21 L536.28,526.88 L535.79,526.01 L535.31,525.05 L534.83,525.8 L534.37,525.47 L533.91,524.93 L533.45,524.26 L533,523.95 L532.56,523.4 L532.12,523.73 L531.69,522.79 L531.27,523.31 L530.85,522.83 L530.44,522.54 L530.04,521.14 L529.64,521.14 L529.25,520.5 L528.86,521.29 L528.48,520.96 L528.11,519.84 L527.74,519.57 L527.38,518.6 L527.03,518.17 L526.68,518.34 L526.34,518.62 L526.01,518.09 L525.68,517.58 L525.36,517.09 L525.04,515.97 L524.74,516.25 L524.43,515.21 L524.14,515.33 L523.85,513.98 L523.56,513.92 L523.29,513.41 L523.02,512.06 L522.75,511.79 L522.49,511.51 L522.24,510.49 L522,510.02 L521.76,508.93 L521.53,508.34 L521.3,507.73 L521.08,507.77 L520.87,506.66 L520.66,505.52 L520.46,505.23 L520.27,504 L520.08,504.15 L519.9,502.95 L519.72,501.11 L519.55,501.02 L519.39,500.04 L519.23,498.89 L519.08,498.94 L518.94,497.13 L518.8,496.41 L518.67,496.85 L518.55,495.31 L518.43,494.17 L518.32,493.91 L518.22,493.84 L518.12,492.33 L518.02,491.68 L517.94,491.12 L517.86,490.65 L517.79,489.45 L517.72,489.79 L517.66,489.73 L517.6,488.55 L517.56,487.87 L517.51,487.33 L517.48,488.19 L517.45,487.33 L517.43,487.7 L517.41,487.69 L517.4,487.6 L517.4,486.3Z" fill="#e8a07a" fill-opacity="0.85"/>
<path d="M517.4,485.61 L517.4,486.58 L517.41,485.62 L517.43,485.76 L517.45,485.73 L517.48,486.38 L517.51,486.19 L517.56,486.42 L517.6,487.06 L517.66,488.11 L517.72,488.05 L517.79,488.96 L517.86,488.87 L517.94,489.08 L518.02,490.05 L518.12,490.36 L518.22,490.54 L518.32,491.5 L518.43,492.27 L518.55,492.49 L518.67,493.34 L518.8,494.33 L518.94,495.26 L519.08,494.9 L519.23,495.8 L519.39,497.01 L519.55,497.21 L519.72,497.93 L519.9,499.41 L520.08,499.92 L520.27,500.51 L520.46,500.18 L520.66,501.16 L520.87,502.76 L521.08,502.81 L521.3,504.37 L521.53,504 L521.76,505.67 L522,506.09 L522.24,506.4 L522.49,507.38 L522.75,506.7 L523.02,508.4 L523.29,508.7 L523.56,508.67 L523.85,508.88 L524.14,509.33 L524.43,510.32 L524.74,510.94 L525.04,511.11 L525.36,512.18 L525.68,512.43 L526.01,513.45 L526.34,512.75 L526.68,513.71 L527.03,514.17 L527.38,515.1 L527.74,514.12 L528.11,514.45 L528.48,515.01 L528.86,516.39 L529.25,515.96 L529.64,516.93 L530.04,517.26 L530.44,517.14 L530.85,517.86 L531.27,517.34 L531.69,518.08 L532.12,518.36 L532.56,518.93 L533,519.62 L533.45,519.17 L533.91,520.31 L534.37,520.44 L534.83,520.76 L535.31,519.97 L535.79,520.22 L536.28,520.86 L536.77,521.48 L537.27,522.02 L537.78,522.43 L538.29,521.94 L538.81,522.91 L539.33,522.55 L539.87,522.47 L540.4,523.22 L540.95,523.28 L541.5,523.82 L542.06,524.66 L542.62,524.61 L543.19,525.13 L543.77,524.89 L544.35,524.69 L544.94,525.78 L545.53,524.88 L546.13,526.53 L546.74,526.52 L547.36,526.35 L547.98,526.36 L548.61,526.08 L549.24,526.33 L549.88,527.47 L550.53,527.91 L551.18,528.34 L551.84,527.09 L552.5,528.54 L553.17,528.37 L553.85,527.98 L554.54,529.39 L555.23,528.8 L555.92,528.82 L556.63,529.83 L557.34,529.27 L558.06,529.77 L558.78,529.78 L559.51,530.49 L560.24,530.49 L560.98,530.63 L561.73,529.99 L562.49,531.31 L563.25,531.72 L564.02,531.09 L564.79,532.05 L565.57,532.5 L566.36,531.16 L567.15,531.39 L567.95,531.96 L568.75,532.33 L569.56,533.24 L570.38,532.85 L571.21,532.62 L572.04,532.84 L572.88,533.98 L573.72,533.93 L574.57,532.96 L575.43,533.12 L576.29,534.65 L577.16,534.76 L578.03,533.73 L578.92,533.96 L579.8,534.52 L580.7,534.89 L581.6,534.91 L582.51,535.27 L583.42,535.38 L584.34,535.11 L585.27,534.57 L586.2,535.62 L587.14,536.14 L588.09,536.26 L589.04,535.81 L590,535.58 L590.96,536.85 L591.93,535.41 L592.91,536.08 L593.89,535.82 L594.88,536.3 L595.88,536.4 L596.88,536.27 L597.89,537.04 L598.91,536.31 L599.93,537.5 L600.96,537.93 L601.99,537.14 L603.03,537.5 L604.08,537.16 L605.14,538.37 L606.2,537.86 L607.26,537.99 L608.33,538.68 L609.41,537.68 L610.5,537.39 L611.59,538.97 L612.69,538.15 L613.8,538.04 L614.91,538.8 L616.02,539.32 L617.15,539.05 L618.28,538.26 L619.41,539.72 L620.56,538.95 L621.71,539.86 L622.86,539.25 L624.03,539.31 L625.19,539.74 L626.37,540.01 L627.55,539.64 L628.74,539.15 L629.93,538.96 L631.13,539.93 L632.34,540.57 L633.55,539.47 L634.77,540.21 L636,539.35 L637.23,540.57 L638.47,539.92 L639.71,540.97 L640.96,539.95 L642.22,540.96 L643.49,540.42 L644.76,540.61 L646.03,540.94 L647.32,540.41 L648.6,541.27 L649.9,540.6 L651.2,541.9 L652.51,540.9 L653.83,540.74 L655.15,541.68 L656.48,541.91 L657.81,540.88 L659.15,541.52 L660.5,541.04 L661.85,542.02 L663.21,541.24 L664.58,542.32 L665.95,541.94 L667.33,542.24 L668.71,541.64 L670.1,542.3 L671.5,543.09 L671.5,545.59 L670.1,546.06 L668.71,545.29 L667.33,545.14 L665.95,545.48 L664.58,545.06 L663.21,545.21 L661.85,544.74 L660.5,545.27 L659.15,545.46 L657.81,544.92 L656.48,544.13 L655.15,544.28 L653.83,544.32 L652.51,544.36 L651.2,544.04 L649.9,544.14 L648.6,543.53 L647.32,543.4 L646.03,544.77 L644.76,543.5 L643.49,543.07 L642.22,543.91 L640.96,542.88 L639.71,544.2 L638.47,544 L637.23,542.84 L636,542.69 L634.77,543.15 L633.55,543.03 L632.34,542.99 L631.13,542.44 L629.93,542.98 L628.74,543.41 L627.55,543.31 L626.37,542.52 L625.19,542.85 L624.03,543.26 L622.86,542.04 L621.71,542.99 L620.56,542.69 L619.41,542.6 L618.28,541.36 L617.15,541.7 L616.02,541.16 L614.91,541.1 L613.8,541.99 L612.69,541.69 L611.59,541.07 L610.5,541.23 L609.41,541.78 L608.33,541.77 L607.26,541.76 L606.2,540.74 L605.14,540.48 L604.08,540 L603.03,541.38 L601.99,541.34 L600.96,539.8 L599.93,541.1 L598.91,540.28 L597.89,540.62 L596.88,540.73 L595.88,539.56 L594.88,540.41 L593.89,540.19 L592.91,539.67 L591.93,539.16 L590.96,538.65 L590,539.53 L589.04,538.51 L588.09,539.4 L587.14,539.37 L586.2,538.13 L585.27,538.45 L584.34,538.03 L583.42,538.19 L582.51,538.4 L581.6,537.64 L580.7,537.91 L579.8,537.35 L578.92,536.82 L578.03,536.61 L577.16,536.78 L576.29,537.61 L575.43,536.8 L574.57,536.52 L573.72,535.93 L572.88,536.81 L572.04,537.05 L571.21,536.29 L570.38,535.87 L569.56,536.33 L568.75,534.94 L567.95,535.06 L567.15,535.38 L566.36,534.49 L565.57,535.15 L564.79,534.53 L564.02,534.89 L563.25,533.8 L562.49,534.15 L561.73,534.62 L560.98,534.52 L560.24,534.08 L559.51,533.32 L558.78,533.8 L558.06,533.47 L557.34,533.16 L556.63,532.87 L555.92,533.11 L555.23,532.13 L554.54,532.34 L553.85,531.78 L553.17,531.95 L552.5,530.74 L551.84,530.65 L551.18,530.13 L550.53,530.93 L549.88,530.62 L549.24,529.59 L548.61,530.6 L547.98,529.79 L547.36,529.53 L546.74,529.27 L546.13,528.25 L545.53,528.25 L544.94,528.19 L544.35,528.87 L543.77,527.78 L543.19,528.17 L542.62,527.35 L542.06,527.02 L541.5,527.39 L540.95,526.45 L540.4,526.98 L539.87,526.75 L539.33,525.71 L538.81,526 L538.29,524.86 L537.78,525.77 L537.27,525.36 L536.77,523.98 L536.28,524.19 L535.79,524.66 L535.31,523.39 L534.83,523.62 L534.37,523.27 L533.91,523.6 L533.45,523.33 L533,521.68 L532.56,521.89 L532.12,521.82 L531.69,520.84 L531.27,520.59 L530.85,520.52 L530.44,519.94 L530.04,520.63 L529.64,519.2 L529.25,520.05 L528.86,518.55 L528.48,518.95 L528.11,518.13 L527.74,518.58 L527.38,517.62 L527.03,517.65 L526.68,516.85 L526.34,516.06 L526.01,515.43 L525.68,515.1 L525.36,515.42 L525.04,514.18 L524.74,514.93 L524.43,513.26 L524.14,513.44 L523.85,513.52 L523.56,511.85 L523.29,511.96 L523.02,511.88 L522.75,510.06 L522.49,509.63 L522.24,509.12 L522,508.12 L521.76,507.71 L521.53,506.73 L521.3,507.2 L521.08,505.71 L520.87,505.58 L520.66,504.79 L520.46,503.45 L520.27,502.59 L520.08,503.04 L519.9,502.1 L519.72,500.6 L519.55,499.72 L519.39,498.99 L519.23,499.01 L519.08,497.33 L518.94,496.84 L518.8,495.39 L518.67,495.74 L518.55,494.2 L518.43,494.05 L518.32,493.64 L518.22,493.27 L518.12,491.64 L518.02,491.69 L517.94,491.58 L517.86,490.94 L517.79,490.39 L517.72,489.1 L517.66,488.67 L517.6,488.26 L517.56,487.61 L517.51,487.27 L517.48,488.15 L517.45,486.89 L517.43,487.55 L517.41,487.12 L517.4,486.93 L517.4,487.07Z" fill="#9cc8e6" fill-opacity="0.85"/>
<path d="M517.4,485.41 L517.4,485.91 L517.41,485.36 L517.43,486.67 L517.45,486.72 L517.48,486.45 L517.51,485.96 L517.56,487.48 L517.6,486.7 L517.66,487.74 L517.72,488.41 L517.79,487.33 L517.86,487.82 L517.94,488.27 L518.02,489.73 L518.12,490.61 L518.22,491.31 L518.32,491.32 L518.43,491.32 L518.55,491.5 L518.67,492.6 L518.8,493.5 L518.94,493.79 L519.08,495.23 L519.23,495.81 L519.39,496.02 L519.55,496.51 L519.72,497.9 L519.9,498.22 L520.08,497.87 L520.27,499.57 L520.46,499.84 L520.66,499.85 L520.87,500.95 L521.08,501.3 L521.3,501.52 L521.53,503.49 L521.76,502.68 L522,503.46 L522.24,505.18 L522.49,505.73 L522.75,505.06 L523.02,506.94 L523.29,506.96 L523.56,508.03 L523.85,507.69 L524.14,509.24 L524.43,509.38 L524.74,509.55 L525.04,510.32 L525.36,511.06 L525.68,511.15 L526.01,510.89 L526.34,512.36 L526.68,511.87 L527.03,513.16 L527.38,513.07 L527.74,513.54 L528.11,513.33 L528.48,514.15 L528.86,513.86 L529.25,514.88 L529.64,514.68 L530.04,514.48 L530.44,515.17 L530.85,515.06 L531.27,516.46 L531.69,515.92 L532.12,517.21 L532.56,516.54 L533,517.1 L533.45,516.99 L533.91,518.05 L534.37,517.59 L534.83,518.41 L535.31,518.35 L535.79,518.91 L536.28,519.33 L536.77,519.61 L537.27,519.52 L537.78,520.76 L538.29,519.66 L538.81,520.07 L539.33,520.18 L539.87,521.01 L540.4,520.89 L540.95,521.06 L541.5,521.39 L542.06,521.74 L542.62,522.04 L543.19,521.74 L543.77,523.13 L544.35,522.2 L544.94,523.87 L545.53,523 L546.13,524.33 L546.74,523.94 L547.36,523.55 L547.98,524.58 L548.61,524.83 L549.24,524.65 L549.88,524.29 L550.53,525.87 L551.18,524.83 L551.84,525.2 L552.5,525.46 L553.17,526.66 L553.85,526.17 L554.54,526.19 L555.23,527.06 L555.92,526.79 L556.63,527.66 L557.34,526.8 L558.06,527.81 L558.78,527.82 L559.51,528.38 L560.24,528.22 L560.98,527.94 L561.73,527.86 L562.49,529.34 L563.25,528.25 L564.02,529.24 L564.79,528.51 L565.57,529.55 L566.36,528.95 L567.15,529.37 L567.95,530.01 L568.75,530.84 L569.56,530.17 L570.38,531 L571.21,531.05 L572.04,531.12 L572.88,531.67 L573.72,531.5 L574.57,531.35 L575.43,530.96 L576.29,531.09 L577.16,531.67 L578.03,532.16 L578.92,532.76 L579.8,532.6 L580.7,532.53 L581.6,533.1 L582.51,532.3 L583.42,532.61 L584.34,532.49 L585.27,532.9 L586.2,532.53 L587.14,532.94 L588.09,533.35 L589.04,532.84 L590,533.64 L590.96,533.32 L591.93,533.5 L592.91,533.89 L593.89,533.23 L594.88,533.66 L595.88,534.09 L596.88,535.1 L597.89,534.59 L598.91,534.81 L599.93,535.21 L600.96,534.05 L601.99,534.95 L603.03,534.31 L604.08,534.9 L605.14,534.86 L606.2,535.09 L607.26,536.03 L608.33,535.14 L609.41,536.37 L610.5,535.23 L611.59,535.11 L612.69,536.34 L613.8,536.45 L614.91,536.69 L616.02,536.66 L617.15,536.88 L618.28,535.95 L619.41,536.42 L620.56,535.98 L621.71,536.72 L622.86,536.13 L624.03,536.73 L625.19,536.49 L626.37,537.31 L627.55,537.21 L628.74,537.84 L629.93,536.48 L631.13,536.75 L632.34,536.79 L633.55,537.58 L634.77,537.48 L636,537.96 L637.23,537.39 L638.47,538.47 L639.71,538.63 L640.96,537.75 L642.22,537.62 L643.49,538.74 L644.76,538.18 L646.03,538.87 L647.32,537.69 L648.6,538.43 L649.9,537.98 L651.2,539.33 L652.51,538.81 L653.83,539.11 L655.15,539.47 L656.48,539.47 L657.81,538.22 L659.15,538.34 L660.5,539.85 L661.85,539.52 L663.21,539.27 L664.58,538.68 L665.95,539.31 L667.33,540 L668.71,538.94 L670.1,538.91 L671.5,539.92 L671.5,545.25 L670.1,544.05 L668.71,543.72 L667.33,544.58 L665.95,543.92 L664.58,544.25 L663.21,544.11 L661.85,543.22 L660.5,543.66 L659.15,543.64 L657.81,543.08 L656.48,543.23 L655.15,543.14 L653.83,543.39 L652.51,542.78 L651.2,542.57 L649.9,542.93 L648.6,543.66 L647.32,543.05 L646.03,542.97 L644.76,543.71 L643.49,542.31 L642.22,543.2 L640.96,542.65 L639.71,541.96 L638.47,543.25 L637.23,543.02 L636,542.47 L634.77,541.76 L633.55,542.18 L632.34,542.19 L631.13,541.67 L629.93,542.6 L628.74,542.07 L627.55,542.41 L626.37,541.76 L625.19,542.34 L624.03,540.95 L622.86,541.46 L621.71,541.99 L620.56,541.92 L619.41,540.51 L618.28,540.58 L617.15,541.02 L616.02,540.92 L614.91,540.64 L613.8,540.16 L612.69,541.02 L611.59,540.45 L610.5,540.97 L609.41,539.78 L608.33,540.28 L607.26,539.76 L606.2,539.75 L605.14,540.67 L604.08,540.13 L603.03,540.19 L601.99,539.83 L600.96,540.32 L599.93,539.22 L598.91,539.53 L597.89,540.01 L596.88,539.06 L595.88,538.86 L594.88,538.73 L593.89,538.23 L592.91,539.18 L591.93,538.98 L590.96,538.23 L590,539.1 L589.04,537.46 L588.09,537.93 L587.14,537.98 L586.2,537.76 L585.27,537.04 L584.34,536.96 L583.42,537.51 L582.51,536.57 L581.6,537.11 L580.7,537.05 L579.8,536.54 L578.92,537.57 L578.03,536.99 L577.16,536.37 L576.29,536.68 L575.43,536.64 L574.57,535.94 L573.72,535.43 L572.88,536.48 L572.04,535.8 L571.21,535.48 L570.38,536.04 L569.56,535.16 L568.75,534.76 L567.95,534.5 L567.15,534.73 L566.36,534.85 L565.57,534.41 L564.79,533.42 L564.02,533.94 L563.25,533.26 L562.49,533.78 L561.73,533.1 L560.98,532.59 L560.24,532.44 L559.51,532.31 L558.78,533.15 L558.06,532.6 L557.34,531.83 L556.63,531.48 L555.92,531.14 L555.23,531.15 L554.54,531.49 L553.85,531.86 L553.17,531.49 L552.5,531.32 L551.84,530.28 L551.18,530.74 L550.53,530.74 L549.88,530.41 L549.24,528.96 L548.61,529.61 L547.98,529.47 L547.36,528.68 L546.74,528.83 L546.13,527.9 L545.53,528.78 L544.94,527.96 L544.35,527.37 L543.77,527.54 L543.19,527.85 L542.62,526.79 L542.06,526.69 L541.5,526.17 L540.95,525.53 L540.4,525.89 L539.87,525.03 L539.33,524.8 L538.81,525.57 L538.29,524.43 L537.78,525.26 L537.27,523.74 L536.77,524.73 L536.28,524.22 L535.79,524.39 L535.31,523.53 L534.83,522.49 L534.37,522.54 L533.91,523.33 L533.45,522.94 L533,521.7 L532.56,521.88 L532.12,521.68 L531.69,521.54 L531.27,521.07 L530.85,520.93 L530.44,519.67 L530.04,519.31 L529.64,519.74 L529.25,519.42 L528.86,519.52 L528.48,519.24 L528.11,518.66 L527.74,517.65 L527.38,517.58 L527.03,517.16 L526.68,516.18 L526.34,515.68 L526.01,515.72 L525.68,515.11 L525.36,514.45 L525.04,515.36 L524.74,515 L524.43,514.23 L524.14,513.13 L523.85,511.97 L523.56,511.65 L523.29,511.31 L523.02,511.72 L522.75,509.98 L522.49,509.46 L522.24,509.95 L522,509.25 L521.76,508.14 L521.53,508.15 L521.3,507.77 L521.08,506.12 L520.87,504.93 L520.66,505.7 L520.46,503.95 L520.27,503.74 L520.08,501.92 L519.9,502.19 L519.72,501.74 L519.55,501.07 L519.39,499.36 L519.23,498.53 L519.08,497.3 L518.94,497.33 L518.8,495.65 L518.67,496.26 L518.55,494.52 L518.43,494.66 L518.32,493.59 L518.22,492.63 L518.12,492.08 L518.02,491.13 L517.94,491.07 L517.86,490.37 L517.79,489.28 L517.72,489.76 L517.66,489.26 L517.6,488.62 L517.56,487.61 L517.51,487.75 L517.48,488.32 L517.45,487.41 L517.43,487.17 L517.41,487.52 L517.4,487.53 L517.4,486.68Z" fill="#d89ad8" fill-opacity="0.85"/>
<polyline points="517.4,486.4 517.41,486.71 517.45,487.64 517.51,489.16 517.6,491.22 517.72,493.76 517.86,496.71 518.02,500 518.22,503.55 518.43,507.26 518.67,511.07 518.94,514.89 519.23,518.68 519.55,522.37 519.9,525.92 520.27,529.31 520.66,532.51 521.08,535.52 521.53,538.33 522,540.94 522.49,543.37 523.02,545.64 523.56,547.75 524.14,549.72 524.74,551.58 525.36,553.34 526.01,555 526.68,556.59 527.38,558.11 528.11,559.57 528.86,560.98 529.64,562.35 530.44,563.67 531.27,564.96 532.12,566.2 533,567.41 533.91,568.58 534.83,569.71 535.79,570.81 536.77,571.87 537.78,572.89 538.81,573.88 539.87,574.83 540.95,575.74 542.06,576.61 543.19,577.44 544.35,578.24 545.53,579 546.74,579.73 547.98,580.42 549.24,581.08 550.53,581.7 551.84,582.3 553.17,582.86 554.54,583.39 555.92,583.9 557.34,584.38 558.78,584.83 560.24,585.26 561.73,585.67 563.25,586.06 564.79,586.43 566.36,586.78 567.95,587.11 569.56,587.42 571.21,587.72 572.88,588.01 574.57,588.29 576.29,588.55 578.03,588.8 579.8,589.04 581.6,589.28 583.42,589.51 585.27,589.73 587.14,589.94 589.04,590.15 590.96,590.35 592.91,590.55 594.88,590.75 596.88,590.94 598.91,591.13 600.96,591.32 603.03,591.5 605.14,591.69 607.26,591.87 609.41,592.06 611.59,592.24 613.8,592.42 616.02,592.61 618.28,592.79 620.56,592.98 622.86,593.16 625.19,593.35 627.55,593.53 629.93,593.72 632.34,593.91 634.77,594.1 637.23,594.29 639.71,594.48 642.22,594.68 644.76,594.87 647.32,595.07 649.9,595.27 652.51,595.47 655.15,595.68 657.81,595.88 660.5,596.09 663.21,596.3 665.95,596.51 668.71,596.72 671.5,596.93" fill="none" stroke="#a070c8" stroke-width="1" stroke-linejoin="round" stroke-linecap="round" stroke-dasharray="3.5 2.2" stroke-opacity="0.85"/>
<polyline points="517.4,486.4 517.41,486.7 517.45,487.6 517.51,489.07 517.6,491.06 517.72,493.52 517.86,496.39 518.02,499.57 518.22,503 518.43,506.6 518.67,510.29 518.94,513.99 519.23,517.66 519.55,521.23 519.9,524.67 520.27,527.95 520.66,531.05 521.08,533.96 521.53,536.68 522,539.21 522.49,541.57 523.02,543.76 523.56,545.81 524.14,547.72 524.74,549.52 525.36,551.22 526.01,552.83 526.68,554.36 527.38,555.84 528.11,557.25 528.86,558.62 529.64,559.94 530.44,561.23 531.27,562.47 532.12,563.67 533,564.84 533.91,565.98 534.83,567.08 535.79,568.14 536.77,569.16 537.78,570.15 538.81,571.11 539.87,572.03 540.95,572.91 542.06,573.75 543.19,574.56 544.35,575.33 545.53,576.07 546.74,576.77 547.98,577.44 549.24,578.08 550.53,578.68 551.84,579.26 553.17,579.8 554.54,580.32 555.92,580.81 557.34,581.28 558.78,581.72 560.24,582.13 561.73,582.53 563.25,582.9 564.79,583.26 566.36,583.6 567.95,583.92 569.56,584.22 571.21,584.51 572.88,584.79 574.57,585.06 576.29,585.31 578.03,585.56 579.8,585.79 581.6,586.02 583.42,586.24 585.27,586.45 587.14,586.66 589.04,586.86 590.96,587.06 592.91,587.25 594.88,587.44 596.88,587.63 598.91,587.81 600.96,588 603.03,588.18 605.14,588.36 607.26,588.53 609.41,588.71 611.59,588.89 613.8,589.07 616.02,589.24 618.28,589.42 620.56,589.6 622.86,589.78 625.19,589.96 627.55,590.14 629.93,590.32 632.34,590.5 634.77,590.69 637.23,590.87 639.71,591.06 642.22,591.25 644.76,591.44 647.32,591.63 649.9,591.82 652.51,592.02 655.15,592.21 657.81,592.41 660.5,592.61 663.21,592.81 665.95,593.02 668.71,593.22 671.5,593.43" fill="none" stroke="#5aaedc" stroke-width="1" stroke-linejoin="round" stroke-linecap="round" stroke-dasharray="3.5 2.2" stroke-opacity="0.85"/>
<polyline points="517.4,486.4 517.41,486.64 517.45,487.36 517.51,488.53 517.6,490.14 517.72,492.14 517.86,494.48 518.02,497.12 518.22,499.99 518.43,503.03 518.67,506.2 518.94,509.42 519.23,512.66 519.55,515.85 519.9,518.96 520.27,521.96 520.66,524.81 521.08,527.5 521.53,530.01 522,532.34 522.49,534.49 523.02,536.46 523.56,538.25 524.14,539.89 524.74,541.37 525.36,542.73 526.01,543.96 526.68,545.09 527.38,546.14 528.11,547.1 528.86,548.01 529.64,548.86 530.44,549.66 531.27,550.44 532.12,551.18 533,551.91 533.91,552.62 534.83,553.31 535.79,553.99 536.77,554.67 537.78,555.34 538.81,556 539.87,556.65 540.95,557.31 542.06,557.95 543.19,558.59 544.35,559.23 545.53,559.86 546.74,560.49 547.98,561.11 549.24,561.72 550.53,562.33 551.84,562.93 553.17,563.53 554.54,564.11 555.92,564.69 557.34,565.27 558.78,565.83 560.24,566.38 561.73,566.93 563.25,567.47 564.79,568 566.36,568.52 567.95,569.04 569.56,569.54 571.21,570.04 572.88,570.53 574.57,571.01 576.29,571.48 578.03,571.95 579.8,572.41 581.6,572.85 583.42,573.3 585.27,573.73 587.14,574.16 589.04,574.58 590.96,574.99 592.91,575.4 594.88,575.8 596.88,576.2 598.91,576.59 600.96,576.98 603.03,577.36 605.14,577.73 607.26,578.1 609.41,578.47 611.59,578.83 613.8,579.19 616.02,579.54 618.28,579.9 620.56,580.24 622.86,580.59 625.19,580.93 627.55,581.27 629.93,581.61 632.34,581.95 634.77,582.29 637.23,582.62 639.71,582.96 642.22,583.29 644.76,583.62 647.32,583.95 649.9,584.28 652.51,584.61 655.15,584.94 657.81,585.27 660.5,585.6 663.21,585.94 665.95,586.27 668.71,586.6 671.5,586.93" fill="none" stroke="#c8c020" stroke-width="1" stroke-linejoin="round" stroke-linecap="round" stroke-dasharray="3.5 2.2" stroke-opacity="0.85"/>
<polyline points="517.4,486.4 517.41,486.69 517.45,487.54 517.51,488.93 517.6,490.83 517.72,493.16 517.86,495.88 518.02,498.91 518.22,502.16 518.43,505.58 518.67,509.08 518.94,512.6 519.23,516.08 519.55,519.47 519.9,522.74 520.27,525.86 520.66,528.8 521.08,531.56 521.53,534.14 522,536.55 522.49,538.78 523.02,540.87 523.56,542.81 524.14,544.62 524.74,546.33 525.36,547.94 526.01,549.47 526.68,550.93 527.38,552.33 528.11,553.68 528.86,554.98 529.64,556.23 530.44,557.45 531.27,558.63 532.12,559.77 533,560.89 533.91,561.96 534.83,563 535.79,564.01 536.77,564.99 537.78,565.93 538.81,566.83 539.87,567.7 540.95,568.54 542.06,569.34 543.19,570.11 544.35,570.84 545.53,571.54 546.74,572.21 547.98,572.85 549.24,573.45 550.53,574.03 551.84,574.57 553.17,575.09 554.54,575.58 555.92,576.05 557.34,576.49 558.78,576.91 560.24,577.3 561.73,577.68 563.25,578.03 564.79,578.37 566.36,578.69 567.95,579 569.56,579.29 571.21,579.56 572.88,579.83 574.57,580.08 576.29,580.32 578.03,580.55 579.8,580.78 581.6,580.99 583.42,581.2 585.27,581.4 587.14,581.6 589.04,581.79 590.96,581.98 592.91,582.16 594.88,582.34 596.88,582.52 598.91,582.69 600.96,582.87 603.03,583.04 605.14,583.21 607.26,583.38 609.41,583.55 611.59,583.72 613.8,583.88 616.02,584.05 618.28,584.22 620.56,584.39 622.86,584.56 625.19,584.73 627.55,584.9 629.93,585.08 632.34,585.25 634.77,585.42 637.23,585.6 639.71,585.78 642.22,585.96 644.76,586.14 647.32,586.32 649.9,586.5 652.51,586.69 655.15,586.87 657.81,587.06 660.5,587.25 663.21,587.44 665.95,587.64 668.71,587.83 671.5,588.03" fill="none" stroke="#3a78b8" stroke-width="1" stroke-linejoin="round" stroke-linecap="round" stroke-dasharray="3.5 2.2" stroke-opacity="0.85"/>
<polyline points="517.4,486.4 517.41,486.69 517.45,487.56 517.51,488.98 517.6,490.91 517.72,493.29 517.86,496.06 518.02,499.14 518.22,502.46 518.43,505.94 518.67,509.5 518.94,513.09 519.23,516.63 519.55,520.09 519.9,523.42 520.27,526.59 520.66,529.59 521.08,532.41 521.53,535.04 522,537.49 522.49,539.76 523.02,541.88 523.56,543.86 524.14,545.71 524.74,547.45 525.36,549.1 526.01,550.65 526.68,552.14 527.38,553.57 528.11,554.94 528.86,556.26 529.64,557.54 530.44,558.78 531.27,559.98 532.12,561.15 533,562.28 533.91,563.37 534.83,564.44 535.79,565.46 536.77,566.46 537.78,567.41 538.81,568.34 539.87,569.22 540.95,570.08 542.06,570.89 543.19,571.67 544.35,572.42 545.53,573.14 546.74,573.82 547.98,574.46 549.24,575.08 550.53,575.66 551.84,576.22 553.17,576.75 554.54,577.25 555.92,577.72 557.34,578.17 558.78,578.6 560.24,579 561.73,579.38 563.25,579.75 564.79,580.09 566.36,580.42 567.95,580.73 569.56,581.02 571.21,581.31 572.88,581.57 574.57,581.83 576.29,582.08 578.03,582.31 579.8,582.54 581.6,582.76 583.42,582.97 585.27,583.18 587.14,583.38 589.04,583.58 590.96,583.77 592.91,583.95 594.88,584.14 596.88,584.32 598.91,584.5 600.96,584.67 603.03,584.85 605.14,585.02 607.26,585.19 609.41,585.36 611.59,585.54 613.8,585.71 616.02,585.88 618.28,586.05 620.56,586.22 622.86,586.4 625.19,586.57 627.55,586.75 629.93,586.92 632.34,587.1 634.77,587.28 637.23,587.46 639.71,587.64 642.22,587.82 644.76,588 647.32,588.19 649.9,588.37 652.51,588.56 655.15,588.75 657.81,588.95 660.5,589.14 663.21,589.33 665.95,589.53 668.71,589.73 671.5,589.93" fill="none" stroke="#4a9090" stroke-width="1" stroke-linejoin="round" stroke-linecap="round" stroke-dasharray="3.5 2.2" stroke-opacity="0.85"/>
<polyline points="517.4,486.4 517.41,486.64 517.45,487.34 517.51,488.49 517.6,490.07 517.72,492.03 517.86,494.33 518.02,496.91 518.22,499.73 518.43,502.72 518.67,505.82 518.94,508.99 519.23,512.16 519.55,515.29 519.9,518.35 520.27,521.29 520.66,524.08 521.08,526.72 521.53,529.19 522,531.47 522.49,533.58 523.02,535.51 523.56,537.27 524.14,538.88 524.74,540.33 525.36,541.66 526.01,542.87 526.68,543.98 527.38,545.01 528.11,545.95 528.86,546.84 529.64,547.68 530.44,548.47 531.27,549.23 532.12,549.96 533,550.67 533.91,551.36 534.83,552.04 535.79,552.72 536.77,553.38 537.78,554.03 538.81,554.68 539.87,555.33 540.95,555.97 542.06,556.6 543.19,557.23 544.35,557.85 545.53,558.47 546.74,559.09 547.98,559.7 549.24,560.3 550.53,560.9 551.84,561.49 553.17,562.07 554.54,562.65 555.92,563.21 557.34,563.77 558.78,564.33 560.24,564.87 561.73,565.41 563.25,565.94 564.79,566.46 566.36,566.97 567.95,567.48 569.56,567.97 571.21,568.46 572.88,568.94 574.57,569.41 576.29,569.87 578.03,570.33 579.8,570.78 581.6,571.22 583.42,571.65 585.27,572.08 587.14,572.5 589.04,572.91 590.96,573.32 592.91,573.72 594.88,574.11 596.88,574.5 598.91,574.89 600.96,575.26 603.03,575.64 605.14,576 607.26,576.37 609.41,576.73 611.59,577.08 613.8,577.43 616.02,577.78 618.28,578.13 620.56,578.47 622.86,578.81 625.19,579.15 627.55,579.48 629.93,579.81 632.34,580.14 634.77,580.47 637.23,580.8 639.71,581.13 642.22,581.46 644.76,581.78 647.32,582.11 649.9,582.43 652.51,582.76 655.15,583.08 657.81,583.4 660.5,583.73 663.21,584.05 665.95,584.38 668.71,584.71 671.5,585.03" fill="none" stroke="#c8906a" stroke-width="1" stroke-linejoin="round" stroke-linecap="round" stroke-dasharray="3.5 2.2" stroke-opacity="0.85"/>
<polyline points="517.4,486.4 517.41,486.64 517.45,487.34 517.51,488.49 517.6,490.08 517.72,492.07 517.86,494.43 518.02,497.12 518.22,500.09 518.43,503.31 518.67,506.71 518.94,510.26 519.23,513.9 519.55,517.59 519.9,521.29 520.27,524.95 520.66,528.55 521.08,532.05 521.53,535.43 522,538.67 522.49,541.76 523.02,544.69 523.56,547.45 524.14,550.05 524.74,552.48 525.36,554.75 526.01,556.87 526.68,558.85 527.38,560.7 528.11,562.42 528.86,564.04 529.64,565.55 530.44,566.98 531.27,568.33 532.12,569.62 533,570.84 533.91,572.01 534.83,573.14 535.79,574.22 536.77,575.27 537.78,576.29 538.81,577.29 539.87,578.26 540.95,579.2 542.06,580.13 543.19,581.04 544.35,581.93 545.53,582.8 546.74,583.65 547.98,584.49 549.24,585.32 550.53,586.12 551.84,586.92 553.17,587.69 554.54,588.45 555.92,589.19 557.34,589.92 558.78,590.63 560.24,591.33 561.73,592.01 563.25,592.67 564.79,593.32 566.36,593.96 567.95,594.58 569.56,595.18 571.21,595.78 572.88,596.35 574.57,596.92 576.29,597.47 578.03,598.01 579.8,598.54 581.6,599.06 583.42,599.56 585.27,600.06 587.14,600.54 589.04,601.01 590.96,601.48 592.91,601.94 594.88,602.39 596.88,602.83 598.91,603.26 600.96,603.69 603.03,604.11 605.14,604.53 607.26,604.94 609.41,605.34 611.59,605.74 613.8,606.14 616.02,606.54 618.28,606.93 620.56,607.31 622.86,607.7 625.19,608.08 627.55,608.46 629.93,608.84 632.34,609.22 634.77,609.6 637.23,609.98 639.71,610.35 642.22,610.73 644.76,611.11 647.32,611.49 649.9,611.86 652.51,612.24 655.15,612.62 657.81,613 660.5,613.39 663.21,613.77 665.95,614.16 668.71,614.55 671.5,614.94" fill="none" stroke="#e09a30" stroke-width="1" stroke-linejoin="round" stroke-linecap="round" stroke-dasharray="3.5 2.2" stroke-opacity="0.85"/>
<polyline points="517.4,486.4 517.41,486.59 517.45,487.17 517.51,488.11 517.6,489.4 517.72,491.02 517.86,492.91 518.02,495.06 518.22,497.4 518.43,499.9 518.67,502.52 518.94,505.2 519.23,507.91 519.55,510.61 519.9,513.26 520.27,515.84 520.66,518.31 521.08,520.66 521.53,522.88 522,524.95 522.49,526.87 523.02,528.65 523.56,530.28 524.14,531.78 524.74,533.14 525.36,534.39 526.01,535.52 526.68,536.56 527.38,537.51 528.11,538.38 528.86,539.19 529.64,539.95 530.44,540.66 531.27,541.33 532.12,541.97 533,542.58 533.91,543.17 534.83,543.74 535.79,544.3 536.77,544.85 537.78,545.39 538.81,545.92 539.87,546.45 540.95,546.97 542.06,547.48 543.19,547.99 544.35,548.49 545.53,548.99 546.74,549.48 547.98,549.97 549.24,550.45 550.53,550.93 551.84,551.4 553.17,551.87 554.54,552.32 555.92,552.77 557.34,553.22 558.78,553.66 560.24,554.09 561.73,554.51 563.25,554.93 564.79,555.34 566.36,555.74 567.95,556.13 569.56,556.52 571.21,556.9 572.88,557.27 574.57,557.63 576.29,557.99 578.03,558.34 579.8,558.68 581.6,559.02 583.42,559.34 585.27,559.67 587.14,559.98 589.04,560.29 590.96,560.59 592.91,560.89 594.88,561.18 596.88,561.46 598.91,561.74 600.96,562.02 603.03,562.28 605.14,562.55 607.26,562.81 609.41,563.06 611.59,563.31 613.8,563.56 616.02,563.8 618.28,564.04 620.56,564.27 622.86,564.5 625.19,564.73 627.55,564.96 629.93,565.18 632.34,565.4 634.77,565.62 637.23,565.83 639.71,566.05 642.22,566.26 644.76,566.47 647.32,566.68 649.9,566.89 652.51,567.1 655.15,567.3 657.81,567.51 660.5,567.71 663.21,567.91 665.95,568.12 668.71,568.32 671.5,568.52" fill="none" stroke="#3aa878" stroke-width="1" stroke-linejoin="round" stroke-linecap="round" stroke-dasharray="3.5 2.2" stroke-opacity="0.85"/>
<polyline points="517.4,486.4 517.41,486.53 517.45,486.91 517.51,487.54 517.6,488.4 517.72,489.47 517.86,490.75 518.02,492.2 518.22,493.81 518.43,495.54 518.67,497.37 518.94,499.27 519.23,501.21 519.55,503.18 519.9,505.15 520.27,507.09 520.66,509 521.08,510.86 521.53,512.66 522,514.38 522.49,516.03 523.02,517.59 523.56,519.08 524.14,520.49 524.74,521.82 525.36,523.07 526.01,524.26 526.68,525.38 527.38,526.44 528.11,527.46 528.86,528.43 529.64,529.35 530.44,530.24 531.27,531.1 532.12,531.94 533,532.75 533.91,533.54 534.83,534.31 535.79,535.07 536.77,535.82 537.78,536.55 538.81,537.27 539.87,537.98 540.95,538.68 542.06,539.37 543.19,540.05 544.35,540.72 545.53,541.38 546.74,542.03 547.98,542.68 549.24,543.3 550.53,543.92 551.84,544.53 553.17,545.13 554.54,545.71 555.92,546.28 557.34,546.84 558.78,547.39 560.24,547.93 561.73,548.45 563.25,548.97 564.79,549.47 566.36,549.95 567.95,550.43 569.56,550.89 571.21,551.34 572.88,551.78 574.57,552.21 576.29,552.63 578.03,553.04 579.8,553.43 581.6,553.82 583.42,554.19 585.27,554.56 587.14,554.91 589.04,555.26 590.96,555.6 592.91,555.93 594.88,556.25 596.88,556.56 598.91,556.86 600.96,557.16 603.03,557.45 605.14,557.74 607.26,558.01 609.41,558.29 611.59,558.55 613.8,558.81 616.02,559.07 618.28,559.32 620.56,559.57 622.86,559.81 625.19,560.05 627.55,560.29 629.93,560.52 632.34,560.75 634.77,560.98 637.23,561.2 639.71,561.42 642.22,561.64 644.76,561.86 647.32,562.08 649.9,562.3 652.51,562.51 655.15,562.73 657.81,562.94 660.5,563.15 663.21,563.37 665.95,563.58 668.71,563.79 671.5,564" fill="none" stroke="#d89050" stroke-width="1" stroke-linejoin="round" stroke-linecap="round" stroke-dasharray="3.5 2.2" stroke-opacity="0.85"/>
<polyline points="517.4,486.4 517.41,486.52 517.45,486.88 517.51,487.48 517.6,488.3 517.72,489.33 517.86,490.55 518.02,491.93 518.22,493.46 518.43,495.11 518.67,496.86 518.94,498.67 519.23,500.52 519.55,502.4 519.9,504.28 520.27,506.13 520.66,507.95 521.08,509.73 521.53,511.44 522,513.08 522.49,514.65 523.02,516.15 523.56,517.56 524.14,518.91 524.74,520.17 525.36,521.37 526.01,522.5 526.68,523.57 527.38,524.59 528.11,525.55 528.86,526.48 529.64,527.36 530.44,528.21 531.27,529.03 532.12,529.83 533,530.6 533.91,531.35 534.83,532.09 535.79,532.81 536.77,533.52 537.78,534.22 538.81,534.91 539.87,535.59 540.95,536.26 542.06,536.91 543.19,537.56 544.35,538.2 545.53,538.83 546.74,539.45 547.98,540.06 549.24,540.66 550.53,541.25 551.84,541.83 553.17,542.4 554.54,542.96 555.92,543.51 557.34,544.04 558.78,544.56 560.24,545.07 561.73,545.57 563.25,546.06 564.79,546.54 566.36,547 567.95,547.46 569.56,547.9 571.21,548.33 572.88,548.75 574.57,549.16 576.29,549.56 578.03,549.95 579.8,550.32 581.6,550.69 583.42,551.05 585.27,551.4 587.14,551.74 589.04,552.07 590.96,552.39 592.91,552.7 594.88,553.01 596.88,553.3 598.91,553.6 600.96,553.88 603.03,554.16 605.14,554.43 607.26,554.69 609.41,554.95 611.59,555.21 613.8,555.45 616.02,555.7 618.28,555.94 620.56,556.17 622.86,556.41 625.19,556.63 627.55,556.86 629.93,557.08 632.34,557.3 634.77,557.52 637.23,557.73 639.71,557.94 642.22,558.15 644.76,558.36 647.32,558.57 649.9,558.78 652.51,558.98 655.15,559.19 657.81,559.39 660.5,559.59 663.21,559.8 665.95,560 668.71,560.2 671.5,560.4" fill="none" stroke="#e080d0" stroke-width="1" stroke-linejoin="round" stroke-linecap="round" stroke-dasharray="3.5 2.2" stroke-opacity="0.85"/>
<polyline points="517.4,486.4 517.41,486.52 517.45,486.87 517.51,487.44 517.6,488.23 517.72,489.22 517.86,490.4 518.02,491.73 518.22,493.21 518.43,494.8 518.67,496.48 518.94,498.22 519.23,500.01 519.55,501.82 519.9,503.62 520.27,505.41 520.66,507.17 521.08,508.88 521.53,510.52 522,512.11 522.49,513.62 523.02,515.06 523.56,516.43 524.14,517.72 524.74,518.94 525.36,520.09 526.01,521.18 526.68,522.21 527.38,523.19 528.11,524.12 528.86,525.01 529.64,525.87 530.44,526.68 531.27,527.47 532.12,528.24 533,528.99 533.91,529.71 534.83,530.42 535.79,531.12 536.77,531.8 537.78,532.48 538.81,533.14 539.87,533.79 540.95,534.44 542.06,535.07 543.19,535.7 544.35,536.31 545.53,536.92 546.74,537.52 547.98,538.11 549.24,538.68 550.53,539.25 551.84,539.81 553.17,540.36 554.54,540.9 555.92,541.42 557.34,541.94 558.78,542.44 560.24,542.93 561.73,543.42 563.25,543.89 564.79,544.35 566.36,544.79 567.95,545.23 569.56,545.66 571.21,546.07 572.88,546.48 574.57,546.87 576.29,547.25 578.03,547.63 579.8,547.99 581.6,548.35 583.42,548.69 585.27,549.03 587.14,549.35 589.04,549.67 590.96,549.98 592.91,550.28 594.88,550.58 596.88,550.86 598.91,551.14 600.96,551.42 603.03,551.68 605.14,551.94 607.26,552.2 609.41,552.45 611.59,552.69 613.8,552.93 616.02,553.17 618.28,553.4 620.56,553.63 622.86,553.85 625.19,554.07 627.55,554.29 629.93,554.5 632.34,554.71 634.77,554.92 637.23,555.13 639.71,555.33 642.22,555.54 644.76,555.74 647.32,555.94 649.9,556.14 652.51,556.33 655.15,556.53 657.81,556.73 660.5,556.92 663.21,557.12 665.95,557.31 668.71,557.51 671.5,557.7" fill="none" stroke="#e08a30" stroke-width="1" stroke-linejoin="round" stroke-linecap="round" stroke-dasharray="3.5 2.2" stroke-opacity="0.85"/>
<polyline points="517.4,486.4 517.41,486.51 517.45,486.83 517.51,487.36 517.6,488.09 517.72,489 517.86,490.08 518.02,491.31 518.22,492.66 518.43,494.12 518.67,495.67 518.94,497.28 519.23,498.92 519.55,500.58 519.9,502.25 520.27,503.89 520.66,505.51 521.08,507.08 521.53,508.6 522,510.05 522.49,511.45 523.02,512.77 523.56,514.03 524.14,515.22 524.74,516.34 525.36,517.4 526.01,518.4 526.68,519.35 527.38,520.25 528.11,521.11 528.86,521.93 529.64,522.71 530.44,523.46 531.27,524.19 532.12,524.9 533,525.58 533.91,526.25 534.83,526.9 535.79,527.55 536.77,528.17 537.78,528.79 538.81,529.4 539.87,530 540.95,530.6 542.06,531.18 543.19,531.76 544.35,532.32 545.53,532.88 546.74,533.43 547.98,533.97 549.24,534.5 550.53,535.03 551.84,535.54 553.17,536.05 554.54,536.54 555.92,537.02 557.34,537.5 558.78,537.96 560.24,538.41 561.73,538.86 563.25,539.29 564.79,539.71 566.36,540.13 567.95,540.53 569.56,540.92 571.21,541.3 572.88,541.67 574.57,542.04 576.29,542.39 578.03,542.73 579.8,543.07 581.6,543.39 583.42,543.71 585.27,544.02 587.14,544.32 589.04,544.61 590.96,544.9 592.91,545.18 594.88,545.45 596.88,545.71 598.91,545.97 600.96,546.22 603.03,546.46 605.14,546.71 607.26,546.94 609.41,547.17 611.59,547.39 613.8,547.62 616.02,547.83 618.28,548.04 620.56,548.25 622.86,548.46 625.19,548.66 627.55,548.86 629.93,549.06 632.34,549.25 634.77,549.44 637.23,549.63 639.71,549.82 642.22,550.01 644.76,550.19 647.32,550.38 649.9,550.56 652.51,550.74 655.15,550.92 657.81,551.1 660.5,551.28 663.21,551.46 665.95,551.64 668.71,551.82 671.5,552" fill="none" stroke="#80b020" stroke-width="1" stroke-linejoin="round" stroke-linecap="round" stroke-dasharray="3.5 2.2" stroke-opacity="0.85"/>
<polyline points="517.4,486.4 517.41,486.51 517.45,486.82 517.51,487.34 517.6,488.06 517.72,488.96 517.86,490.02 518.02,491.23 518.22,492.57 518.43,494.01 518.67,495.53 518.94,497.11 519.23,498.73 519.55,500.37 519.9,502.01 520.27,503.63 520.66,505.22 521.08,506.76 521.53,508.26 522,509.69 522.49,511.06 523.02,512.37 523.56,513.61 524.14,514.78 524.74,515.88 525.36,516.93 526.01,517.91 526.68,518.85 527.38,519.74 528.11,520.58 528.86,521.39 529.64,522.16 530.44,522.9 531.27,523.62 532.12,524.31 533,524.98 533.91,525.64 534.83,526.29 535.79,526.92 536.77,527.54 537.78,528.15 538.81,528.75 539.87,529.34 540.95,529.92 542.06,530.5 543.19,531.06 544.35,531.62 545.53,532.17 546.74,532.71 547.98,533.25 549.24,533.77 550.53,534.29 551.84,534.79 553.17,535.29 554.54,535.77 555.92,536.25 557.34,536.72 558.78,537.17 560.24,537.62 561.73,538.06 563.25,538.48 564.79,538.9 566.36,539.31 567.95,539.7 569.56,540.09 571.21,540.46 572.88,540.83 574.57,541.19 576.29,541.54 578.03,541.87 579.8,542.2 581.6,542.52 583.42,542.84 585.27,543.14 587.14,543.44 589.04,543.72 590.96,544.01 592.91,544.28 594.88,544.55 596.88,544.81 598.91,545.06 600.96,545.31 603.03,545.55 605.14,545.79 607.26,546.02 609.41,546.24 611.59,546.47 613.8,546.68 616.02,546.9 618.28,547.1 620.56,547.31 622.86,547.51 625.19,547.71 627.55,547.91 629.93,548.1 632.34,548.29 634.77,548.48 637.23,548.67 639.71,548.86 642.22,549.04 644.76,549.22 647.32,549.4 649.9,549.58 652.51,549.76 655.15,549.94 657.81,550.12 660.5,550.3 663.21,550.47 665.95,550.65 668.71,550.83 671.5,551" fill="none" stroke="#c8c020" stroke-width="1" stroke-linejoin="round" stroke-linecap="round" stroke-dasharray="3.5 2.2" stroke-opacity="0.85"/>
<polyline points="517.4,486.4 517.41,486.5 517.45,486.81 517.51,487.32 517.6,488.01 517.72,488.88 517.86,489.91 518.02,491.08 518.22,492.38 518.43,493.77 518.67,495.25 518.94,496.78 519.23,498.35 519.55,499.94 519.9,501.52 520.27,503.09 520.66,504.63 521.08,506.13 521.53,507.58 522,508.97 522.49,510.3 523.02,511.56 523.56,512.76 524.14,513.9 524.74,514.97 525.36,515.98 526.01,516.94 526.68,517.84 527.38,518.7 528.11,519.52 528.86,520.3 529.64,521.05 530.44,521.77 531.27,522.46 532.12,523.14 533,523.79 533.91,524.43 534.83,525.05 535.79,525.66 536.77,526.26 537.78,526.86 538.81,527.44 539.87,528.01 540.95,528.58 542.06,529.13 543.19,529.68 544.35,530.22 545.53,530.76 546.74,531.28 547.98,531.8 549.24,532.3 550.53,532.8 551.84,533.29 553.17,533.77 554.54,534.25 555.92,534.71 557.34,535.16 558.78,535.6 560.24,536.04 561.73,536.46 563.25,536.87 564.79,537.27 566.36,537.67 567.95,538.05 569.56,538.43 571.21,538.79 572.88,539.15 574.57,539.49 576.29,539.83 578.03,540.16 579.8,540.48 581.6,540.79 583.42,541.09 585.27,541.38 587.14,541.67 589.04,541.95 590.96,542.22 592.91,542.49 594.88,542.75 596.88,543 598.91,543.24 600.96,543.48 603.03,543.72 605.14,543.95 607.26,544.17 609.41,544.39 611.59,544.61 613.8,544.82 616.02,545.02 618.28,545.23 620.56,545.42 622.86,545.62 625.19,545.81 627.55,546 629.93,546.19 632.34,546.38 634.77,546.56 637.23,546.74 639.71,546.92 642.22,547.1 644.76,547.28 647.32,547.45 649.9,547.63 652.51,547.8 655.15,547.97 657.81,548.15 660.5,548.32 663.21,548.49 665.95,548.66 668.71,548.83 671.5,549" fill="none" stroke="#8098b0" stroke-width="1" stroke-linejoin="round" stroke-linecap="round" stroke-dasharray="3.5 2.2" stroke-opacity="0.85"/>
<polyline points="517.4,486.4 517.41,486.5 517.45,486.79 517.51,487.27 517.6,487.93 517.72,488.76 517.86,489.74 518.02,490.86 518.22,492.09 518.43,493.42 518.67,494.82 518.94,496.28 519.23,497.78 519.55,499.29 519.9,500.8 520.27,502.29 520.66,503.76 521.08,505.19 521.53,506.57 522,507.89 522.49,509.16 523.02,510.36 523.56,511.5 524.14,512.58 524.74,513.6 525.36,514.56 526.01,515.48 526.68,516.34 527.38,517.16 528.11,517.93 528.86,518.68 529.64,519.39 530.44,520.07 531.27,520.73 532.12,521.38 533,522 533.91,522.61 534.83,523.2 535.79,523.78 536.77,524.35 537.78,524.92 538.81,525.47 539.87,526.02 540.95,526.55 542.06,527.08 543.19,527.61 544.35,528.12 545.53,528.63 546.74,529.13 547.98,529.62 549.24,530.11 550.53,530.58 551.84,531.05 553.17,531.5 554.54,531.95 555.92,532.39 557.34,532.82 558.78,533.24 560.24,533.66 561.73,534.06 563.25,534.45 564.79,534.84 566.36,535.21 567.95,535.58 569.56,535.93 571.21,536.28 572.88,536.62 574.57,536.95 576.29,537.27 578.03,537.58 579.8,537.88 581.6,538.18 583.42,538.47 585.27,538.75 587.14,539.02 589.04,539.29 590.96,539.55 592.91,539.8 594.88,540.05 596.88,540.29 598.91,540.52 600.96,540.75 603.03,540.97 605.14,541.19 607.26,541.4 609.41,541.61 611.59,541.82 613.8,542.02 616.02,542.21 618.28,542.41 620.56,542.6 622.86,542.78 625.19,542.97 627.55,543.15 629.93,543.33 632.34,543.5 634.77,543.68 637.23,543.85 639.71,544.02 642.22,544.19 644.76,544.36 647.32,544.53 649.9,544.69 652.51,544.86 655.15,545.02 657.81,545.19 660.5,545.35 663.21,545.51 665.95,545.68 668.71,545.84 671.5,546" fill="none" stroke="#e07040" stroke-width="1" stroke-linejoin="round" stroke-linecap="round" stroke-dasharray="3.5 2.2" stroke-opacity="0.85"/>
<polyline points="517.4,486.4 517.41,486.49 517.45,486.78 517.51,487.24 517.6,487.88 517.72,488.68 517.86,489.62 518.02,490.7 518.22,491.89 518.43,493.17 518.67,494.53 518.94,495.93 519.23,497.37 519.55,498.83 519.9,500.29 520.27,501.73 520.66,503.15 521.08,504.53 521.53,505.86 522,507.13 522.49,508.35 523.02,509.51 523.56,510.62 524.14,511.66 524.74,512.64 525.36,513.57 526.01,514.45 526.68,515.28 527.38,516.07 528.11,516.82 528.86,517.54 529.64,518.23 530.44,518.89 531.27,519.52 532.12,520.14 533,520.74 533.91,521.33 534.83,521.9 535.79,522.46 536.77,523.02 537.78,523.56 538.81,524.09 539.87,524.62 540.95,525.14 542.06,525.65 543.19,526.16 544.35,526.65 545.53,527.14 546.74,527.62 547.98,528.1 549.24,528.57 550.53,529.02 551.84,529.47 553.17,529.92 554.54,530.35 555.92,530.77 557.34,531.19 558.78,531.59 560.24,531.99 561.73,532.38 563.25,532.76 564.79,533.13 566.36,533.49 567.95,533.84 569.56,534.19 571.21,534.52 572.88,534.85 574.57,535.17 576.29,535.48 578.03,535.78 579.8,536.07 581.6,536.36 583.42,536.63 585.27,536.9 587.14,537.17 589.04,537.42 590.96,537.67 592.91,537.92 594.88,538.16 596.88,538.39 598.91,538.61 600.96,538.83 603.03,539.05 605.14,539.26 607.26,539.46 609.41,539.67 611.59,539.86 613.8,540.06 616.02,540.25 618.28,540.43 620.56,540.62 622.86,540.8 625.19,540.97 627.55,541.15 629.93,541.32 632.34,541.49 634.77,541.66 637.23,541.83 639.71,541.99 642.22,542.15 644.76,542.32 647.32,542.48 649.9,542.64 652.51,542.8 655.15,542.96 657.81,543.11 660.5,543.27 663.21,543.43 665.95,543.59 668.71,543.74 671.5,543.9" fill="none" stroke="#6aa0cc" stroke-width="1" stroke-linejoin="round" stroke-linecap="round" stroke-dasharray="3.5 2.2" stroke-opacity="0.85"/>
<polyline points="517.4,486.4 517.41,486.49 517.45,486.77 517.51,487.21 517.6,487.83 517.72,488.61 517.86,489.52 518.02,490.57 518.22,491.72 518.43,492.96 518.67,494.27 518.94,495.63 519.23,497.03 519.55,498.44 519.9,499.86 520.27,501.25 520.66,502.62 521.08,503.96 521.53,505.25 522,506.48 522.49,507.67 523.02,508.79 523.56,509.86 524.14,510.87 524.74,511.82 525.36,512.72 526.01,513.57 526.68,514.38 527.38,515.14 528.11,515.87 528.86,516.57 529.64,517.23 530.44,517.87 531.27,518.49 532.12,519.09 533,519.67 533.91,520.24 534.83,520.79 535.79,521.34 536.77,521.87 537.78,522.4 538.81,522.91 539.87,523.42 540.95,523.93 542.06,524.42 543.19,524.91 544.35,525.39 545.53,525.87 546.74,526.33 547.98,526.79 549.24,527.25 550.53,527.69 551.84,528.13 553.17,528.55 554.54,528.97 555.92,529.38 557.34,529.79 558.78,530.18 560.24,530.56 561.73,530.94 563.25,531.31 564.79,531.67 566.36,532.02 567.95,532.36 569.56,532.69 571.21,533.02 572.88,533.33 574.57,533.64 576.29,533.94 578.03,534.23 579.8,534.52 581.6,534.79 583.42,535.06 585.27,535.32 587.14,535.58 589.04,535.83 590.96,536.07 592.91,536.31 594.88,536.54 596.88,536.76 598.91,536.98 600.96,537.19 603.03,537.4 605.14,537.6 607.26,537.8 609.41,538 611.59,538.19 613.8,538.38 616.02,538.56 618.28,538.74 620.56,538.92 622.86,539.09 625.19,539.27 627.55,539.43 629.93,539.6 632.34,539.77 634.77,539.93 637.23,540.09 639.71,540.25 642.22,540.41 644.76,540.57 647.32,540.72 649.9,540.88 652.51,541.03 655.15,541.19 657.81,541.34 660.5,541.49 663.21,541.64 665.95,541.8 668.71,541.95 671.5,542.1" fill="none" stroke="#c070c0" stroke-width="1" stroke-linejoin="round" stroke-linecap="round" stroke-dasharray="3.5 2.2" stroke-opacity="0.85"/>
</g>
<rect x="517.4" y="478.5" width="154.1" height="150.4" fill="none" stroke="#1a1a1a" stroke-width="1.1"/>
<line x1="512.8" y1="606.6" x2="517.4" y2="606.6" stroke="#1a1a1a" stroke-width="1"/>
<line x1="512.8" y1="546.5" x2="517.4" y2="546.5" stroke="#1a1a1a" stroke-width="1"/>
<line x1="512.8" y1="486.4" x2="517.4" y2="486.4" stroke="#1a1a1a" stroke-width="1"/>
<line x1="517.4" y1="628.9" x2="517.4" y2="633.5" stroke="#1a1a1a" stroke-width="1"/>
<line x1="579.04" y1="628.9" x2="579.04" y2="633.5" stroke="#1a1a1a" stroke-width="1"/>
<line x1="640.68" y1="628.9" x2="640.68" y2="633.5" stroke="#1a1a1a" stroke-width="1"/>
<text x="508.2" y="611.7" font-size="14.7" text-anchor="end" textLength="23" lengthAdjust="spacingAndGlyphs">0.6</text>
<text x="508.2" y="551.6" font-size="14.7" text-anchor="end" textLength="23" lengthAdjust="spacingAndGlyphs">0.8</text>
<text x="508.2" y="491.5" font-size="14.7" text-anchor="end" textLength="23" lengthAdjust="spacingAndGlyphs">1.0</text>
<text x="517.4" y="649.2" font-size="14.7" text-anchor="middle" textLength="22.8" lengthAdjust="spacingAndGlyphs">0.0</text>
<text x="579.04" y="649.2" font-size="14.7" text-anchor="middle" textLength="22.8" lengthAdjust="spacingAndGlyphs">0.2</text>
<text x="640.68" y="649.2" font-size="14.7" text-anchor="middle" textLength="22.8" lengthAdjust="spacingAndGlyphs">0.4</text>
<text x="594.5" y="667.6" font-size="14.7" text-anchor="middle" textLength="56.8" lengthAdjust="spacingAndGlyphs">Time (s)</text>
<g transform="translate(476.6 607.1) rotate(-90)"><text x="-0.6" y="0" font-size="14.7" font-style="italic" textLength="10" lengthAdjust="spacingAndGlyphs">F</text><text x="9.5" y="0" font-size="14.7" textLength="3.8" lengthAdjust="spacingAndGlyphs">(</text><text x="13.6" y="0" font-size="14.7" font-style="italic" textLength="4.6" lengthAdjust="spacingAndGlyphs">t</text><text x="22.2" y="0" font-size="14.7" textLength="9.4" lengthAdjust="spacingAndGlyphs">=</text><text x="36" y="0" font-size="14.7" textLength="8.2" lengthAdjust="spacingAndGlyphs">0</text><text x="44.6" y="0" font-size="14.7" textLength="4.3" lengthAdjust="spacingAndGlyphs">)</text><text x="49" y="0" font-size="14.7" textLength="5" lengthAdjust="spacingAndGlyphs">/</text><text x="54.4" y="0" font-size="14.7" font-style="italic" textLength="8.7" lengthAdjust="spacingAndGlyphs">F</text><text x="63.1" y="0" font-size="14.7" textLength="3.8" lengthAdjust="spacingAndGlyphs">(</text><text x="68.4" y="0" font-size="14.7" font-style="italic" textLength="4.6" lengthAdjust="spacingAndGlyphs">t</text><path d="M76.8,-3.6 L86.2,-3.6 M83.0,-6.6 L86.6,-3.6 L83.0,-0.6" fill="none" stroke="#1a1a1a" stroke-width="1.0"/><text x="91.5" y="0" font-size="14.7" textLength="8.6" lengthAdjust="spacingAndGlyphs">∞</text><text x="102.8" y="0" font-size="14.7" textLength="3.8" lengthAdjust="spacingAndGlyphs">)</text></g>
</svg>
</body></html>
